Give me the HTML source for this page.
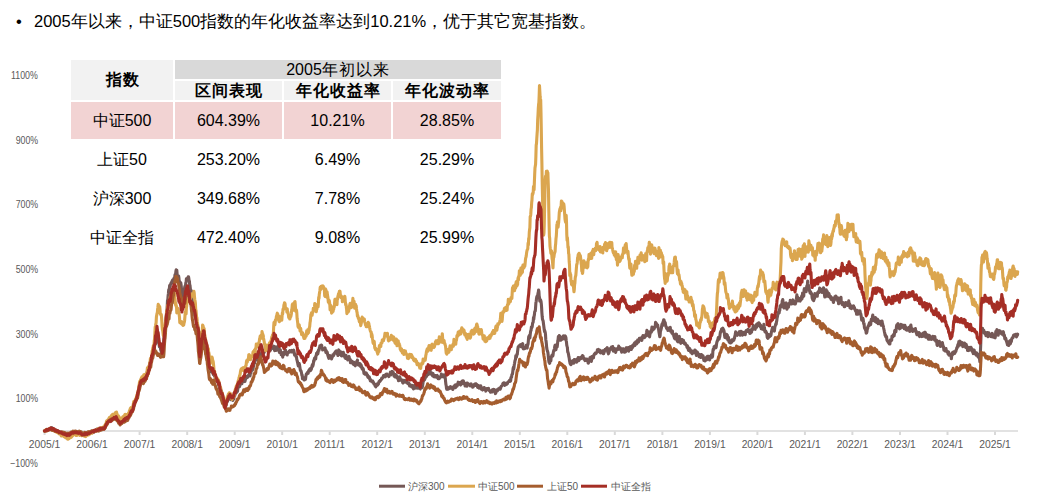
<!DOCTYPE html>
<html><head><meta charset="utf-8">
<style>
html,body{margin:0;padding:0;background:#fff;}
body{width:1053px;height:498px;position:relative;overflow:hidden;font-family:"Liberation Sans",sans-serif;color:#000;}
.abs{position:absolute;white-space:nowrap;}
#bullet{left:16px;top:11px;font-size:16.5px;line-height:20px;}
#bullet .dot{display:inline-block;width:18px;}
.yl{position:absolute;right:1015px;font-size:20px;color:#595959;line-height:20px;transform:scale(0.44,0.5);transform-origin:right top;}
.xl{position:absolute;font-size:10.3px;color:#595959;line-height:10px;transform:translateX(-50%);}
svg{position:absolute;left:0;top:0;}
#tbl{position:absolute;left:71px;top:60px;}
.c{position:absolute;text-align:center;font-size:16px;}
.cj{display:inline-block;width:1em;text-align:center;font-style:normal;}
#bullet .cj{width:17px;}
.h .cj{width:17px;}
.leg{position:absolute;top:482px;font-size:10px;line-height:10px;color:#595959;}
</style></head><body>
<div class="abs" id="bullet"><span class="dot">•</span>2005<i class="cj">年</i><i class="cj">以</i><i class="cj">来</i><i class="cj">，</i><i class="cj">中</i><i class="cj">证</i>500<i class="cj">指</i><i class="cj">数</i><i class="cj">的</i><i class="cj">年</i><i class="cj">化</i><i class="cj">收</i><i class="cj">益</i><i class="cj">率</i><i class="cj">达</i><i class="cj">到</i>10.21%<i class="cj">，</i><i class="cj">优</i><i class="cj">于</i><i class="cj">其</i><i class="cj">它</i><i class="cj">宽</i><i class="cj">基</i><i class="cj">指</i><i class="cj">数</i><i class="cj">。</i></div>

<div class="yl" style="top:70px">1100%</div>
<div class="yl" style="top:135px">900%</div>
<div class="yl" style="top:199px">700%</div>
<div class="yl" style="top:264px">500%</div>
<div class="yl" style="top:329px">300%</div>
<div class="yl" style="top:393px">100%</div>
<div class="yl" style="top:458px">&minus;100%</div>

<svg width="1053" height="498" viewBox="0 0 1053 498">
<line x1="44" y1="431" x2="1018" y2="431" stroke="#d9d9d9" stroke-width="1.6"/>
<g stroke="#d9d9d9" stroke-width="2">
<line x1="44.6" y1="431.5" x2="44.6" y2="435"/>
<line x1="92.1" y1="431.5" x2="92.1" y2="435"/>
<line x1="139.6" y1="431.5" x2="139.6" y2="435"/>
<line x1="187.2" y1="431.5" x2="187.2" y2="435"/>
<line x1="234.7" y1="431.5" x2="234.7" y2="435"/>
<line x1="282.2" y1="431.5" x2="282.2" y2="435"/>
<line x1="329.7" y1="431.5" x2="329.7" y2="435"/>
<line x1="377.2" y1="431.5" x2="377.2" y2="435"/>
<line x1="424.8" y1="431.5" x2="424.8" y2="435"/>
<line x1="472.3" y1="431.5" x2="472.3" y2="435"/>
<line x1="519.8" y1="431.5" x2="519.8" y2="435"/>
<line x1="567.3" y1="431.5" x2="567.3" y2="435"/>
<line x1="614.8" y1="431.5" x2="614.8" y2="435"/>
<line x1="662.4" y1="431.5" x2="662.4" y2="435"/>
<line x1="709.9" y1="431.5" x2="709.9" y2="435"/>
<line x1="757.4" y1="431.5" x2="757.4" y2="435"/>
<line x1="804.9" y1="431.5" x2="804.9" y2="435"/>
<line x1="852.4" y1="431.5" x2="852.4" y2="435"/>
<line x1="900.0" y1="431.5" x2="900.0" y2="435"/>
<line x1="947.5" y1="431.5" x2="947.5" y2="435"/>
<line x1="995.0" y1="431.5" x2="995.0" y2="435"/>
</g>
<g fill="none" stroke-width="3.1" stroke-linejoin="round" stroke-linecap="round">
<path d="M44.5 431.0l.3-.1l.3 .0l.3-.4l.3 .1l.3 .0l.3-.4l.3 .1l.3 .0l.3-.1l.3-.2l.3 .0l.3-.5l.3-.2l.3-.3l.3 .2l.3-.1l.3-.3l.3-.3l.3-.1l.3-.1l.3-.1l.3 .5l.3 .4l.3-1.0l.3-.4l.3 .5l.3 .2l.3 .5l.3 .3l.3 1.0l.3-.5l.3 .0l.3 .8l.3 .2l.3 .1l.3-.3l.3-.5l.3 .3l.3 .2l.3-.2l.3 .1l.3 .3l.3-.1l.3 .3l.3 .3l.3 .2l.3 .0l.3 .4l.3 .5l.3 .1l.3-.3l.3 .4l.3-.1l.3 .4l.3-.4l.3 .5l.3 .1l.3-.4l.3 .1l.3 .3l.3 .3l.3-.2l.3-.1l.3 .4l.3 .1l.3 .3l.3 .4l.3-.5l.3 .4l.3 .6l.3-.1l.3-.2l.3 .5l.3 .2l.3 .3l.3-.1l.3-.5l.3 .3l.3-.1l.3 .2l.3-.1l.3-.7l.3-.4l.3 .5l.3 .1l.3-.4l.3-.1l.3 .0l.3 .0l.3 .1l.3-.2l.3-.3l.3-.4l.3 .2l.3-1.0l.3 .0l.3 .0l.3-.5l.3 .2l.3-.2l.3 .3l.3-.1l.3 .3l.3 .4l.3 .0l.3-.4l.3-.4l.3 .8l.3-.1l.3-.2l.3 .2l.3 .0l.3 .3l.3 .0l.3 .1l.3-.2l.3 .2l.3-.3l.3 .4l.3 .6l.3-.7l.3-.7l.3 .6l.3 1.1l.3-.6l.3-.3l.3 .4l.3-.3l.3 .0l.3 .1l.3 .3l.3 .0l.3 .2l.3-.1l.3-.2l.3 .1l.3-.1l.3 .3l.3-.4l.3-.2l.3 .6l.3-.2l.3-.1l.3 .1l.3-.4l.3-.2l.3 .1l.3-.1l.3-.5l.3 .2l.3-.3l.3-.5l.3-.2l.3-.1l.3 .7l.3-.6l.3 .0l.3-.8l.3 .1l.3 .4l.3-.2l.3-.3l.3 .1l.3 .1l.3 .0l.3 .5l.3-.4l.3-.5l.3-.2l.3-.2l.3-.1l.3-.2l.3-.1l.3-.7l.3 .3l.3-.2l.3-.5l.3 .3l.3 .4l.3 .1l.3-.2l.3-.5l.3 1.0l.3 .0l.3-.8l.3-.5l.3 .1l.3-.6l.3 .3l.3-.2l.3 .5l.3 .3l.3-1.2l.3 .2l.3-.5l.3 .7l.3 .1l.3 .1l.3-.8l.3 .3l.3 .1l.3-1.3l.3-.5l.3-.8l.3-.5l.3-1.0l.3 .4l.3-1.0l.3-.5l.3-.2l.3-.8l.3-.5l.3-.7l.3-.4l.3-.9l.3 .0l.3-.1l.3-.1l.3 .1l.3-.1l.3 .3l.3-.3l.3-.2l.3-.4l.3-.3l.3-.5l.3 .4l.3-.5l.3-.2l.3 .3l.3 .2l.3-.3l.3-1.0l.3 .5l.3 .2l.3-.8l.3 .6l.3-.4l.3-.2l.3 .7l.3 .5l.3 .6l.3-.3l.3 1.5l.3 .0l.3-.2l.3 .9l.3 .3l.3 .6l.3 .2l.3 .4l.3 .4l.3-.6l.3 .3l.3-.5l.3-.5l.3 .0l.3 .1l.3-.3l.3-.5l.3 .2l.3-1.0l.3-.3l.3 .1l.3-.6l.3 .2l.3 .0l.3 .4l.3-.7l.3-.3l.3 .1l.3-1.3l.3 1.8l.3-.8l.3-.5l.3 .3l.3-.3l.3-1.0l.3 .1l.3 .0l.3-.9l.3-.7l.3-.3l.3-1.0l.3-.2l.3-.4l.3-1.0l.3-1.2l.3-.3l.3-.8l.3 .4l.3-.6l.3-.3l.3-.9l.3-.8l.3-1.3l.3-.3l.3 .2l.3-1.4l.3-1.4l.3-.8l.3-1.1l.3-1.2l.3-.4l.3-.9l.3 .3l.3-1.1l.3-.7l.3-.6l.3-1.7l.3-.3l.3-2.2l.3-1.9l.3-1.4l.3-1.1l.3-2.2l.3-.7l.3-2.2l.3 .6l.3-1.2l.3-1.8l.3-1.3l.3-.2l.3 .0l.3-.8l.3-.5l.3 .2l.3-.1l.3 1.1l.3 .8l.3-.5l.3 .1l.3-1.7l.3 .6l.3-.2l.3 .3l.3 1.1l.3-2.9l.3-.2l.3-2.0l.3 .0l.3-2.2l.3-1.0l.3-.4l.3-.2l.3-1.0l.3-1.9l.3-1.4l.3 .2l.3-1.1l.3-2.9l.3 .5l.3-.7l.3-.2l.3-1.9l.3-.3l.3-2.7l.3-.3l.3-1.8l.3-.3l.3-.1l.3-2.6l.3-1.2l.3-1.1l.3 .3l.3-1.4l.3-3.8l.3-1.0l.3-.8l.3 .6l.3-5.1l.3-2.5l.3 .3l.3-4.0l.3-3.1l.3 3.1l.3 3.1l.3 .5l.3 2.4l.3 1.5l.3 3.3l.3 .8l.3 2.4l.3-.9l.3 .6l.3 .7l.3 2.3l.3 1.1l.3-.5l.3 1.7l.3 1.5l.3 .2l.3 .3l.3-.8l.3-5.3l.3-2.2l.3-2.5l.3-4.2l.3-1.8l.3-5.1l.3-3.3l.3-3.3l.3 .4l.3-6.3l.3-1.8l.3-1.7l.3-2.7l.3-1.3l.3-5.2l.3-6.4l.3 .0l.3-4.3l.3-2.2l.3-3.8l.3 .6l.3-.7l.3-4.2l.3 1.2l.3-1.0l.3-1.3l.3-.6l.3-1.1l.3 .6l.3-.4l.3-1.7l.3 1.2l.3-2.5l.3-.1l.3-.1l.3 1.8l.3-3.0l.3 2.5l.3-1.8l.3-2.1l.3-2.4l.3 .5l.3-.8l.3-3.1l.3-1.6l.3 .2l.3 .1l.3 3.7l.3 3.0l.3 1.1l.3-.2l.3-1.6l.3-.1l.3 1.9l.3 3.7l.3 1.0l.3-.9l.3 .7l.3 .1l.3 .1l.3 1.7l.3 2.4l.3 5.2l.3 .6l.3 3.5l.3 3.5l.3-2.7l.3 .6l.3-1.6l.3-3.3l.3-1.3l.3-1.6l.3-1.7l.3-1.5l.3-.6l.3-.1l.3-2.9l.3-.5l.3-3.6l.3 .7l.3 .8l.3-.7l.3-.4l.3 .0l.3-2.3l.3 .0l.3 1.6l.3 2.3l.3 .3l.3 4.4l.3-.1l.3 2.8l.3 3.0l.3 .1l.3-.4l.3 .0l.3 3.1l.3 4.5l.3 2.3l.3 2.1l.3 1.3l.3 3.1l.3-1.7l.3 3.4l.3 2.0l.3-.5l.3 5.7l.3-1.4l.3 .2l.3 .3l.3 4.4l.3 .2l.3 2.9l.3 2.2l.3 1.4l.3-.8l.3 1.0l.3 4.4l.3-.9l.3 1.7l.3 4.9l.3 6.1l.3 4.8l.3 3.3l.3-3.2l.3-.1l.3-1.0l.3-3.8l.3 .9l.3 1.1l.3-3.7l.3-1.8l.3 .0l.3-4.3l.3-4.1l.3-1.3l.3 1.9l.3 1.8l.3 3.3l.3 2.2l.3-.2l.3 2.8l.3 3.9l.3 2.2l.3 1.6l.3 .4l.3 1.9l.3-.4l.3 3.0l.3 1.8l.3 3.2l.3 2.2l.3 .6l.3 2.5l.3 3.5l.3 .7l.3-.2l.3-.2l.3-.7l.3 2.1l.3 1.8l.3 .8l.3 .1l.3-.1l.3 .4l.3-.7l.3 1.3l.3 .9l.3 .7l.3-.8l.3 .1l.3 .1l.3 2.4l.3 .3l.3-1.3l.3 1.4l.3 2.5l.3 .9l.3 1.0l.3 .2l.3-1.4l.3-.4l.3 .4l.3 1.5l.3 1.7l.3 1.6l.3 .6l.3 1.7l.3 .5l.3 .4l.3 1.8l.3 .1l.3-.9l.3 1.0l.3 1.9l.3-.8l.3 1.9l.3 1.6l.3 .5l.3 .8l.3 1.5l.3 1.3l.3 2.5l.3 1.3l.3-.1l.3 .9l.3 1.8l.3 1.7l.3-.7l.3-.8l.3 .3l.3-1.3l.3-1.2l.3-1.8l.3-.8l.3 1.0l.3-1.9l.3-.6l.3-1.6l.3-.2l.3 .9l.3-.2l.3 .5l.3 .3l.3 .0l.3 .9l.3 .0l.3-.8l.3-.8l.3-.6l.3 .5l.3-.2l.3 2.0l.3 .6l.3-.9l.3-.7l.3 .4l.3-2.5l.3-.9l.3 .2l.3-1.4l.3-.8l.3-.7l.3 .2l.3-.5l.3-.3l.3-.3l.3-.8l.3 .1l.3-1.7l.3-1.7l.3-1.7l.3-1.0l.3 .1l.3 1.2l.3 .0l.3-.8l.3-1.0l.3-.3l.3-.3l.3-.4l.3-1.1l.3-.1l.3 1.1l.3-2.2l.3 .1l.3-1.6l.3 .8l.3-.4l.3-1.5l.3 .7l.3 1.9l.3-.5l.3 .5l.3-.9l.3-2.5l.3 .6l.3-.6l.3-1.5l.3 1.0l.3 .0l.3-.8l.3 .6l.3-1.3l.3 .4l.3-1.3l.3 .4l.3-1.4l.3 1.3l.3-.3l.3 .7l.3-2.0l.3-1.2l.3 .3l.3-3.5l.3-.9l.3 1.3l.3 .0l.3 .3l.3-1.2l.3-.2l.3-1.5l.3-1.9l.3-1.8l.3-.1l.3-.4l.3-.5l.3-3.6l.3-.9l.3 .8l.3 1.1l.3-.4l.3-.8l.3-2.3l.3 3.0l.3-1.7l.3 1.7l.3 .8l.3-1.2l.3-1.8l.3-.7l.3-2.1l.3 .0l.3-.4l.3 .1l.3 .4l.3 .9l.3-1.5l.3 .6l.3-1.8l.3-1.4l.3-.5l.3-.8l.3 1.6l.3 1.0l.3 1.0l.3-.8l.3-.3l.3-1.1l.3-1.5l.3 .8l.3 .2l.3-1.4l.3 1.0l.3-2.1l.3 .3l.3-.2l.3 .0l.3-.6l.3 1.9l.3 .8l.3 1.1l.3-.6l.3-2.0l.3-.3l.3-1.3l.3 1.1l.3 1.7l.3-.1l.3-1.1l.3-.6l.3 .3l.3-1.9l.3 .7l.3 .6l.3-.6l.3-.4l.3 .5l.3-1.0l.3-.7l.3 1.6l.3 .7l.3 2.2l.3-1.8l.3-1.9l.3 2.2l.3 1.4l.3-1.1l.3-1.5l.3 .7l.3-1.4l.3 .8l.3-1.5l.3 1.3l.3-1.3l.3 1.5l.3 3.1l.3 .0l.3 1.2l.3-.7l.3-.8l.3-1.1l.3 2.3l.3 .4l.3 2.3l.3-1.8l.3 .1l.3 .5l.3 1.9l.3 1.7l.3-1.6l.3-1.6l.3-1.6l.3 2.4l.3-.3l.3-.9l.3 .1l.3-2.9l.3-.9l.3 2.4l.3 .8l.3 .2l.3-1.2l.3 1.0l.3 2.0l.3-2.2l.3 .0l.3-.6l.3 .4l.3-.1l.3-.3l.3-1.1l.3 .3l.3-.7l.3 .1l.3 .1l.3 .9l.3-1.0l.3-.3l.3 1.4l.3-.8l.3-.5l.3 1.0l.3-.2l.3-.5l.3 .2l.3-.9l.3 1.7l.3 2.3l.3 1.0l.3-1.5l.3 1.5l.3-.2l.3 .9l.3 1.3l.3-.3l.3 2.8l.3 .5l.3 1.7l.3 1.1l.3 1.7l.3 1.3l.3-1.8l.3 .9l.3-1.5l.3 1.1l.3 2.1l.3 1.9l.3 1.8l.3-.2l.3 .9l.3 .7l.3 1.7l.3 1.8l.3-.4l.3 3.8l.3-.7l.3-.6l.3 .9l.3 .9l.3 .7l.3-.8l.3 .6l.3-1.0l.3 .6l.3 .0l.3-2.6l.3-1.7l.3-1.3l.3 .3l.3-.3l.3-.1l.3-1.3l.3 .1l.3 .8l.3-2.2l.3-.6l.3-.1l.3-.6l.3-.7l.3 1.4l.3 .2l.3-.4l.3-2.1l.3 1.5l.3-1.1l.3-1.7l.3-1.2l.3-1.1l.3 1.8l.3-1.1l.3-1.2l.3-3.3l.3 .7l.3-1.8l.3-1.4l.3 .7l.3-1.4l.3 .8l.3 .5l.3-3.1l.3-.4l.3-2.2l.3 .2l.3 1.0l.3-2.3l.3 1.9l.3-1.5l.3-2.1l.3-.5l.3 .5l.3-2.4l.3-.2l.3-2.1l.3 1.6l.3-.6l.3-1.3l.3 1.1l.3-1.5l.3 .3l.3 3.1l.3-.3l.3 1.8l.3-.2l.3-1.0l.3 .0l.3 .5l.3-.1l.3-.4l.3-.1l.3-.7l.3 1.5l.3 1.6l.3 1.5l.3-1.9l.3 2.0l.3 .4l.3-1.1l.3 1.2l.3 1.7l.3 .9l.3 1.0l.3 .9l.3 .8l.3-.4l.3-2.4l.3 .0l.3 1.3l.3-.5l.3 .8l.3 .6l.3-.5l.3 1.6l.3-2.2l.3 .7l.3-1.3l.3-1.2l.3 .7l.3-1.0l.3 1.0l.3-1.8l.3 .1l.3-1.0l.3 .0l.3-.2l.3-1.1l.3 1.3l.3-1.4l.3-.7l.3 1.6l.3 1.1l.3 .3l.3-.3l.3 2.0l.3-2.9l.3-1.3l.3-1.4l.3 1.5l.3 .6l.3 1.4l.3 .9l.3-.8l.3-1.0l.3-.7l.3 3.2l.3 .9l.3 .1l.3-.8l.3-.4l.3-.2l.3 .0l.3-2.3l.3 1.3l.3 .6l.3 1.2l.3 .8l.3 1.3l.3-.1l.3 1.0l.3-3.0l.3-.1l.3 3.1l.3-1.1l.3 .4l.3 1.4l.3-.7l.3 1.5l.3-1.4l.3-1.4l.3-.3l.3-.4l.3 1.6l.3 .6l.3 1.3l.3-.6l.3 3.5l.3-.5l.3-.3l.3 .5l.3-.4l.3-.8l.3 .5l.3 1.2l.3 .5l.3 .7l.3-1.1l.3-.8l.3 2.4l.3-.8l.3 .3l.3 .6l.3 1.0l.3-2.1l.3-.4l.3-.1l.3 .1l.3-2.1l.3 1.1l.3-2.2l.3 2.0l.3 1.5l.3 1.2l.3-1.1l.3 1.5l.3-.7l.3-.8l.3-.2l.3 .1l.3 1.4l.3 1.6l.3-1.7l.3 .6l.3 1.9l.3 .8l.3 .9l.3-1.3l.3 1.7l.3-1.1l.3 1.2l.3 1.9l.3 2.0l.3 .0l.3 .5l.3-.9l.3-.4l.3 1.4l.3 .0l.3 .0l.3-1.0l.3 1.0l.3 1.2l.3-.4l.3 .2l.3 2.1l.3 .3l.3-.2l.3-.7l.3 .1l.3 .6l.3 1.9l.3-.4l.3 2.1l.3-.9l.3 .0l.3 1.2l.3 .0l.3-.4l.3 .4l.3 .9l.3-1.1l.3 .7l.3 .7l.3 .3l.3 1.3l.3-.1l.3 .2l.3 .6l.3 1.1l.3 .1l.3 1.0l.3-1.5l.3 .6l.3-1.5l.3-.5l.3-.1l.3 1.3l.3-.3l.3-1.3l.3 .4l.3-1.2l.3-1.3l.3-.1l.3-.3l.3 .3l.3-1.2l.3 .0l.3 .1l.3-.4l.3-.7l.3-1.1l.3 .6l.3-.5l.3-.1l.3-.9l.3-.3l.3-1.4l.3 .0l.3 .6l.3-.5l.3 .5l.3-.1l.3 .9l.3-.8l.3-1.9l.3 .7l.3-.1l.3-.8l.3 .9l.3 .1l.3 .4l.3-.5l.3 .1l.3 .1l.3 1.5l.3-1.4l.3-.2l.3 .2l.3-1.9l.3-1.1l.3 2.8l.3-1.9l.3 1.0l.3-.8l.3-.4l.3-1.5l.3 .1l.3 1.7l.3-1.1l.3 1.2l.3 .6l.3 2.2l.3-.9l.3 1.2l.3 .5l.3-.7l.3-1.6l.3 1.9l.3-1.3l.3 .1l.3 1.4l.3 1.2l.3-1.0l.3 .3l.3 .0l.3 1.4l.3 2.2l.3-2.4l.3 1.0l.3-2.7l.3 1.0l.3-.3l.3 2.6l.3 .2l.3-.5l.3-.1l.3 .0l.3 .7l.3 .3l.3 .8l.3 1.3l.3 .3l.3-1.5l.3-1.2l.3 .0l.3 1.6l.3-.1l.3-.3l.3 .5l.3-1.0l.3-.3l.3 1.2l.3 .2l.3 .1l.3 .7l.3-.3l.3-.2l.3 .1l.3 1.1l.3 .3l.3-.9l.3 .2l.3 1.1l.3 1.7l.3-1.4l.3 .4l.3-.2l.3 .8l.3 .3l.3 1.0l.3 .0l.3-.9l.3-.5l.3 .5l.3 .3l.3 1.9l.3 .7l.3-1.7l.3 .1l.3-1.2l.3-1.0l.3 1.3l.3 .7l.3-.7l.3 1.7l.3-.9l.3-.7l.3 1.0l.3 .3l.3 .0l.3 .1l.3 .4l.3 .0l.3 .0l.3-1.3l.3-.4l.3 1.4l.3-.2l.3 .7l.3 .5l.3-1.3l.3-.5l.3 .9l.3-.7l.3 .2l.3-.3l.3-1.1l.3-1.7l.3-2.1l.3-1.7l.3 .1l.3-.3l.3-.9l.3 .0l.3-1.5l.3 .3l.3-1.0l.3-1.0l.3-.8l.3-.9l.3 1.6l.3-3.0l.3-.5l.3 .4l.3 .4l.3-.7l.3 1.6l.3-1.6l.3-1.3l.3 1.0l.3-1.2l.3-1.6l.3 2.1l.3 1.2l.3 .9l.3-.6l.3 .3l.3-.7l.3 2.1l.3 .4l.3 .3l.3-2.3l.3 1.1l.3 1.4l.3 .7l.3 .1l.3-.6l.3-.7l.3 .5l.3 .2l.3 .0l.3-.5l.3 1.5l.3-1.5l.3 .1l.3-.3l.3 1.2l.3 1.2l.3 .7l.3 .0l.3-1.9l.3 2.0l.3-.1l.3-.6l.3-.3l.3-.7l.3 .2l.3-.1l.3-.6l.3-2.5l.3 .7l.3 .7l.3 .6l.3-.3l.3 .4l.3 .7l.3-1.0l.3 1.0l.3-2.0l.3 .6l.3 1.2l.3-.1l.3 1.7l.3 3.4l.3 2.8l.3 1.2l.3 2.7l.3 1.0l.3 .1l.3-.1l.3-.4l.3 .3l.3-1.5l.3 1.0l.3-.6l.3 .6l.3-1.6l.3-.1l.3 .2l.3 .7l.3-1.2l.3 1.4l.3 .0l.3-.8l.3 .7l.3-.4l.3 .5l.3 1.3l.3-.5l.3-1.4l.3-.8l.3 .2l.3-.1l.3-1.0l.3-.6l.3 .6l.3 1.8l.3-2.9l.3 .7l.3-.3l.3 .6l.3 .5l.3-.5l.3-1.2l.3-1.1l.3-1.2l.3 1.9l.3-.2l.3-.4l.3 .0l.3-1.0l.3 .7l.3 1.3l.3 .5l.3-1.9l.3 1.2l.3-1.1l.3-1.7l.3-.5l.3 .0l.3 .7l.3-.2l.3-.6l.3 .6l.3 2.3l.3-.6l.3 .6l.3 .0l.3 2.2l.3-2.3l.3 1.0l.3-1.3l.3-.2l.3 .2l.3 2.9l.3-1.4l.3-1.8l.3 1.5l.3-.8l.3 .1l.3 .2l.3 .3l.3 .0l.3 .4l.3 .4l.3 .6l.3-.6l.3-.7l.3-.6l.3 .9l.3 .2l.3 .6l.3 .4l.3 1.2l.3-.3l.3 .1l.3-1.4l.3-.7l.3 .1l.3-.7l.3 1.2l.3-.8l.3 .6l.3-1.6l.3 .1l.3 .7l.3 .5l.3-.7l.3 1.0l.3 1.3l.3 .7l.3-.6l.3-.3l.3-.7l.3 1.1l.3 1.4l.3-.7l.3-1.3l.3 .7l.3 .9l.3-2.0l.3 .9l.3 2.2l.3 .5l.3 .1l.3 .0l.3 .5l.3-1.2l.3-.6l.3 .6l.3-.4l.3 .4l.3-1.3l.3 1.3l.3 .9l.3 .0l.3 .1l.3 1.3l.3-1.3l.3-.6l.3-.5l.3 .2l.3-.2l.3 .7l.3-.1l.3-.6l.3-.4l.3 1.9l.3 .2l.3 .1l.3 .3l.3 .2l.3 .8l.3 .4l.3-.5l.3-.6l.3-.5l.3-.4l.3 1.7l.3-.8l.3-1.5l.3-.1l.3-.1l.3 .7l.3-.6l.3 .7l.3 .3l.3 .8l.3 1.1l.3 1.2l.3-.4l.3-2.2l.3-1.0l.3-.2l.3 1.2l.3-.3l.3 .1l.3-1.1l.3-.1l.3-.1l.3-1.0l.3 .2l.3 .3l.3-.9l.3 .4l.3 .7l.3-.9l.3-.7l.3-.8l.3-.8l.3 .0l.3-.5l.3-.3l.3-.7l.3-1.0l.3-.3l.3 .7l.3-.8l.3-.2l.3 1.8l.3 .6l.3-1.2l.3 .3l.3-1.0l.3 1.3l.3-1.2l.3-.1l.3 .8l.3-1.4l.3 .9l.3-1.3l.3-.1l.3-.5l.3-.2l.3 .1l.3-.3l.3-1.0l.3 .9l.3 .1l.3-.3l.3-.5l.3-3.1l.3 .0l.3-.4l.3-2.4l.3-.4l.3-.3l.3-2.5l.3-2.9l.3-1.3l.3 2.0l.3-1.7l.3-3.0l.3-1.4l.3-2.0l.3-1.1l.3-.7l.3-3.6l.3 .5l.3 1.0l.3-1.6l.3-1.6l.3 .3l.3-3.0l.3-2.4l.3-2.1l.3-.3l.3 .0l.3-.9l.3-.2l.3 .2l.3 .4l.3-1.3l.3-.1l.3 1.9l.3-1.6l.3 .1l.3-.1l.3 .3l.3-.9l.3-.8l.3 4.3l.3 .9l.3-1.4l.3-.1l.3 1.0l.3-.5l.3 .8l.3-.8l.3-.2l.3 .4l.3-.2l.3-2.5l.3 1.4l.3 1.3l.3 .1l.3-2.7l.3-.5l.3-1.0l.3-3.6l.3-3.5l.3 .7l.3-2.0l.3 .9l.3 1.5l.3-3.1l.3-2.7l.3-1.4l.3-.3l.3-3.4l.3 .7l.3-.4l.3-1.1l.3-3.0l.3-.4l.3-.9l.3-4.3l.3 1.8l.3-3.1l.3-1.4l.3-3.0l.3-.9l.3 .1l.3-3.8l.3-4.4l.3-1.4l.3-2.9l.3-1.7l.3-.5l.3-.8l.3 1.4l.3-3.9l.3-.6l.3-2.5l.3 1.3l.3 5.1l.3 .9l.3 3.9l.3-.5l.3-1.0l.3 .7l.3 .8l.3 2.5l.3 3.6l.3 5.5l.3 3.7l.3 2.9l.3 .7l.3 .7l.3 2.2l.3 2.4l.3 2.4l.3 2.3l.3 1.6l.3-.7l.3 1.3l.3 2.1l.3 5.3l.3 1.4l.3 3.0l.3 3.7l.3 1.6l.3 .9l.3 1.4l.3 .7l.3 2.7l.3 3.5l.3 2.3l.3 1.5l.3-.3l.3 1.2l.3-2.2l.3-.7l.3-.1l.3 .4l.3-3.9l.3-.5l.3-.2l.3-1.1l.3 1.2l.3-.1l.3-.8l.3-2.5l.3-1.7l.3-1.0l.3 .7l.3-2.0l.3-2.5l.3-1.2l.3-.1l.3 2.3l.3 2.3l.3-2.6l.3-.1l.3 .2l.3-.4l.3-2.4l.3-3.4l.3-1.3l.3-3.1l.3 .4l.3 1.2l.3-2.6l.3 .7l.3 .9l.3 1.8l.3 1.4l.3-.1l.3-1.9l.3-.9l.3 1.5l.3-1.5l.3-.3l.3 2.0l.3-.6l.3-2.5l.3-.2l.3 1.1l.3-.5l.3 1.4l.3 1.1l.3-1.9l.3-1.1l.3 1.1l.3 .4l.3 3.0l.3 1.9l.3 3.1l.3 1.0l.3 .9l.3 4.5l.3 .4l.3 1.2l.3 1.3l.3 2.0l.3 1.3l.3 2.4l.3 1.6l.3 1.4l.3 .5l.3 .6l.3 .2l.3-1.3l.3 .2l.3-.5l.3-.4l.3-2.0l.3 1.1l.3-.2l.3 1.7l.3-.1l.3-2.0l.3-1.7l.3 1.5l.3-1.3l.3 .8l.3-.7l.3 2.1l.3-.9l.3 .9l.3 .2l.3-1.9l.3-1.1l.3 1.2l.3-1.0l.3-1.7l.3 1.0l.3 2.1l.3-1.6l.3 .5l.3-1.5l.3 .5l.3-1.0l.3 1.2l.3 .0l.3-.8l.3 .0l.3-.8l.3-1.1l.3-.4l.3 .8l.3-.6l.3 1.5l.3 1.0l.3 .7l.3-.6l.3 .3l.3 .2l.3 1.6l.3-1.2l.3-.2l.3 .1l.3 .2l.3-.5l.3 .0l.3 1.8l.3-.6l.3 1.0l.3 1.8l.3 .2l.3-3.3l.3 .6l.3-.1l.3 .0l.3-2.5l.3 .8l.3-1.5l.3 1.5l.3 .7l.3 2.0l.3-2.1l.3-2.7l.3 1.1l.3 .3l.3-1.2l.3 1.1l.3-.2l.3-2.4l.3-.6l.3-.6l.3-.2l.3 .2l.3-1.0l.3-.2l.3 .7l.3-.4l.3-.6l.3-.4l.3-.2l.3-2.3l.3 .9l.3-.8l.3 .9l.3-1.3l.3 1.9l.3 .4l.3-1.6l.3 .9l.3-.7l.3 2.6l.3 .0l.3-1.4l.3 .1l.3-.1l.3 1.2l.3-.1l.3 .0l.3-1.9l.3 .9l.3 2.2l.3-.2l.3-1.1l.3-.4l.3-1.7l.3 .3l.3-1.4l.3 .5l.3-.3l.3-.7l.3 1.2l.3-1.7l.3 .5l.3-1.1l.3 2.9l.3 2.0l.3 .0l.3 1.2l.3-.8l.3-.7l.3-1.5l.3-1.7l.3 .2l.3-.7l.3-.4l.3 1.1l.3-.3l.3-1.9l.3 .2l.3-.4l.3 .3l.3-.7l.3 2.3l.3 2.3l.3-2.1l.3 .7l.3 .5l.3-1.7l.3 .3l.3 1.9l.3 .5l.3 1.2l.3-2.5l.3-1.1l.3 .6l.3 .4l.3-.1l.3-.6l.3-.3l.3-.5l.3 1.0l.3-3.2l.3 3.2l.3-.5l.3-1.3l.3 1.5l.3-1.3l.3 1.3l.3-.1l.3 1.1l.3 1.0l.3 1.2l.3-1.2l.3-.5l.3-.1l.3-1.6l.3 1.3l.3 .3l.3-1.5l.3 1.9l.3 1.4l.3-2.4l.3 .7l.3 1.2l.3 .1l.3-2.0l.3-1.9l.3 .3l.3-.4l.3 .2l.3-.1l.3 .7l.3-1.0l.3-.1l.3 3.6l.3-1.5l.3 .0l.3-.6l.3-.5l.3-1.8l.3 .5l.3-.3l.3 .7l.3 1.9l.3-1.1l.3-.1l.3-2.5l.3-.1l.3 1.6l.3-1.1l.3-1.5l.3 .0l.3-.6l.3-.6l.3-.5l.3 2.5l.3-2.1l.3-.8l.3-.8l.3 1.7l.3-1.0l.3 1.4l.3-.7l.3-.7l.3-2.4l.3 1.8l.3 .3l.3-.2l.3-.9l.3-1.0l.3-1.9l.3 1.6l.3 .1l.3-.9l.3-1.0l.3 .2l.3 .0l.3 2.0l.3 .2l.3-1.7l.3-1.9l.3 .0l.3-1.2l.3 .5l.3 .7l.3 .8l.3 .0l.3-.8l.3 .5l.3-1.7l.3-.2l.3 .8l.3-.1l.3-2.4l.3-1.5l.3-1.8l.3 3.5l.3-2.5l.3 .2l.3 2.9l.3 .7l.3 .6l.3-2.3l.3 .1l.3 3.3l.3-2.3l.3-1.0l.3-1.7l.3-.9l.3-.3l.3 1.4l.3-2.6l.3-2.5l.3 .4l.3 .3l.3 1.9l.3 .2l.3-2.1l.3 .4l.3 .8l.3-.7l.3-1.5l.3 .3l.3-1.4l.3-3.2l.3 2.5l.3-1.7l.3 .7l.3 .7l.3 .7l.3 .7l.3-1.1l.3 2.5l.3 1.0l.3 .9l.3 2.3l.3 1.6l.3 1.7l.3 1.9l.3-1.0l.3-4.5l.3-.7l.3-1.1l.3-1.0l.3-2.0l.3-2.1l.3 .7l.3 .5l.3-3.1l.3 .0l.3-1.4l.3-1.4l.3 .2l.3 1.3l.3 .7l.3 1.9l.3-1.2l.3 2.0l.3 1.9l.3 .0l.3 1.2l.3 .9l.3-.7l.3 .1l.3 1.2l.3 1.2l.3-1.8l.3 .3l.3 1.1l.3-.6l.3-1.1l.3-.7l.3 .4l.3-.6l.3 3.9l.3-.8l.3 .9l.3 .4l.3 1.1l.3-.6l.3-1.4l.3 3.1l.3-.1l.3 .3l.3 .5l.3 1.8l.3 .7l.3 1.1l.3 .5l.3-.7l.3-.2l.3-1.4l.3-2.5l.3 .8l.3-.5l.3 4.6l.3 1.7l.3 .7l.3-1.8l.3 2.4l.3-3.4l.3-1.5l.3-.3l.3-.3l.3 1.3l.3 1.0l.3 3.0l.3 .7l.3 .9l.3-.4l.3-.7l.3-1.0l.3-1.6l.3 .0l.3 .8l.3 2.1l.3-1.6l.3-.5l.3 1.8l.3-.2l.3 1.7l.3 .2l.3 .0l.3-.7l.3 1.2l.3 .2l.3 .3l.3 .3l.3 1.3l.3 .9l.3-1.6l.3 .8l.3 1.3l.3 1.8l.3 .8l.3-.1l.3-1.6l.3-.5l.3 1.7l.3-.8l.3 1.6l.3 1.4l.3-1.7l.3 .6l.3-.2l.3 2.5l.3 .3l.3-1.4l.3 .2l.3-1.2l.3 .1l.3 .5l.3 .4l.3 .4l.3-1.0l.3-1.7l.3 .7l.3-.1l.3 .2l.3 3.4l.3 1.2l.3-.7l.3-1.9l.3-.9l.3 1.3l.3 1.8l.3-.4l.3 .3l.3 .4l.3 1.4l.3-2.5l.3 .7l.3 .9l.3 1.3l.3 .3l.3-1.5l.3-.3l.3-1.1l.3 1.2l.3 .9l.3 .9l.3-.9l.3-.8l.3 2.6l.3 .2l.3 1.9l.3-.1l.3-2.1l.3 1.2l.3 1.4l.3-1.0l.3-2.2l.3 1.4l.3 .2l.3 .6l.3-2.9l.3 1.6l.3-2.3l.3 .6l.3 2.3l.3-1.4l.3-1.6l.3 .3l.3 2.3l.3 1.1l.3-1.8l.3 .3l.3-.4l.3-.8l.3-.7l.3-1.8l.3 .3l.3 .3l.3 1.9l.3-1.1l.3-4.8l.3-2.0l.3 .4l.3-.3l.3-2.7l.3 .0l.3-.4l.3-.1l.3-.3l.3 .8l.3 1.0l.3-.5l.3-2.7l.3-1.9l.3-1.3l.3-.3l.3-1.0l.3-.9l.3-1.6l.3 1.2l.3 .3l.3 .1l.3-1.7l.3-.6l.3-2.4l.3-2.1l.3-.9l.3 .6l.3-.9l.3-2.2l.3-.1l.3 .2l.3-.5l.3-.3l.3 1.0l.3 .2l.3 .5l.3 .9l.3 1.9l.3 2.9l.3 1.8l.3 .0l.3-1.1l.3-.4l.3 .0l.3 2.2l.3-3.7l.3 2.0l.3-1.5l.3 1.9l.3 3.2l.3-.8l.3-1.9l.3 2.7l.3 1.9l.3 .0l.3 .8l.3-2.1l.3 1.1l.3 1.3l.3-.6l.3-1.0l.3 .6l.3 .2l.3-2.5l.3 1.2l.3-.2l.3-1.1l.3 .9l.3-.1l.3-.3l.3-1.9l.3 .3l.3-2.3l.3-.3l.3-2.4l.3-1.7l.3 1.7l.3 .3l.3 .5l.3 .8l.3 .2l.3-1.6l.3 .2l.3-.1l.3-.8l.3-.1l.3-.4l.3-.8l.3-.1l.3 .7l.3 3.0l.3-2.2l.3 .5l.3-2.4l.3 2.7l.3-1.1l.3 .2l.3 1.5l.3 .7l.3-2.9l.3 .8l.3-.5l.3 .7l.3 .0l.3 .8l.3-.1l.3-.7l.3 1.4l.3-2.9l.3-.4l.3-.9l.3 .6l.3-.1l.3 .3l.3-.3l.3-.1l.3-1.7l.3 1.1l.3 1.1l.3-.4l.3-.4l.3-.2l.3 3.0l.3-.2l.3 .0l.3-1.0l.3-1.1l.3-1.3l.3 2.4l.3-3.1l.3 .7l.3-.1l.3-.5l.3-2.4l.3-1.2l.3 2.3l.3-1.0l.3 1.5l.3 .5l.3 .2l.3 .2l.3-2.8l.3-.7l.3 1.0l.3-2.2l.3 2.7l.3-1.6l.3-.4l.3-1.7l.3 .7l.3-.9l.3 .4l.3-1.0l.3 2.8l.3-2.3l.3 1.7l.3 .8l.3 .8l.3-1.5l.3 2.2l.3 1.4l.3-.1l.3 .2l.3-.5l.3 .9l.3-1.5l.3 1.1l.3 .6l.3-2.1l.3-3.1l.3 2.1l.3 1.6l.3 3.2l.3 .8l.3-.1l.3-.9l.3 1.4l.3 .5l.3-.1l.3 1.6l.3 2.8l.3 .7l.3-.7l.3 1.2l.3-1.8l.3-2.0l.3 1.3l.3-.7l.3 1.6l.3-.3l.3-1.9l.3 .0l.3 1.3l.3-1.4l.3-2.3l.3-1.1l.3-1.0l.3-1.4l.3-1.2l.3 1.4l.3 1.6l.3-1.0l.3 .6l.3 .3l.3 .8l.3-2.5l.3-2.2l.3-.6l.3-1.2l.3-.9l.3 .7l.3-2.6l.3-1.0l.3-2.8l.3-1.1l.3-1.7l.3-1.6l.3-.5l.3-1.2l.3 .5l.3 .5l.3-3.6l.3 1.2l.3-4.7l.3 .6l.3 .9l.3-2.1l.3-.1l.3-.9l.3 2.1l.3-5.3l.3 .1l.3-1.5l.3 2.5l.3 3.4l.3 2.0l.3 .5l.3-.5l.3-2.0l.3 2.0l.3 .2l.3-2.4l.3-2.2l.3-.3l.3 2.7l.3 1.9l.3 1.8l.3-2.9l.3-1.1l.3 2.1l.3-.6l.3 .5l.3-3.3l.3-.5l.3 .3l.3-.4l.3-.5l.3-2.6l.3 3.8l.3-.3l.3-2.8l.3 2.4l.3-.2l.3 .8l.3-1.0l.3-1.9l.3-1.1l.3 1.0l.3 1.2l.3 .2l.3 .4l.3 1.3l.3-1.0l.3 .5l.3 .4l.3-1.1l.3-1.4l.3-1.6l.3-2.5l.3-2.4l.3 3.4l.3-.1l.3-1.0l.3 2.9l.3 .8l.3-1.2l.3 .9l.3-1.7l.3-.3l.3 2.4l.3 .1l.3-2.3l.3 .0l.3 .9l.3-1.8l.3-1.8l.3 2.8l.3-2.4l.3-3.5l.3 .1l.3 3.6l.3-.8l.3-.1l.3-5.9l.3-1.2l.3 2.3l.3-1.8l.3 1.8l.3-.5l.3-.6l.3 1.7l.3-3.3l.3-2.2l.3-.6l.3-.5l.3-4.0l.3 2.7l.3 1.4l.3 .4l.3 2.3l.3-.2l.3 3.2l.3 .4l.3 1.7l.3-1.4l.3 .5l.3 1.8l.3-.6l.3 .3l.3 1.8l.3 2.7l.3 .8l.3 .8l.3-.8l.3 .5l.3 1.5l.3-1.5l.3-.6l.3-.3l.3-4.9l.3 .2l.3 1.0l.3 1.2l.3-1.3l.3 1.6l.3-2.1l.3-.6l.3 2.8l.3-3.7l.3 .0l.3-.4l.3-.2l.3-.9l.3 1.4l.3-2.4l.3-2.1l.3 2.0l.3-1.6l.3 2.0l.3 .7l.3-.9l.3 .2l.3 .6l.3 1.4l.3-1.0l.3 .1l.3-2.1l.3 .8l.3-2.4l.3 1.8l.3 .5l.3 5.0l.3 1.8l.3-1.2l.3 1.1l.3-.3l.3-2.7l.3-4.0l.3 3.8l.3 1.0l.3-3.3l.3 2.6l.3 2.1l.3-1.3l.3 1.7l.3-3.1l.3 .5l.3 .9l.3 2.0l.3 .7l.3 .1l.3 .7l.3-1.6l.3 2.8l.3-1.4l.3 1.3l.3-.6l.3-.7l.3 1.2l.3 .5l.3 1.9l.3 .9l.3-2.3l.3 .3l.3-.4l.3-1.8l.3-1.7l.3 1.4l.3-.4l.3-1.6l.3 1.2l.3 1.2l.3 .8l.3-1.7l.3 .0l.3 3.4l.3-1.4l.3 .0l.3 4.3l.3-.4l.3-1.6l.3-3.4l.3 1.6l.3-1.8l.3 1.2l.3-.5l.3-1.7l.3 4.6l.3 .1l.3 1.8l.3 .9l.3-1.7l.3 .3l.3-.5l.3 1.8l.3 .5l.3-1.0l.3 2.8l.3 .0l.3-.2l.3-2.1l.3 .7l.3-2.7l.3 1.5l.3-1.2l.3 1.1l.3-.1l.3 .9l.3 .8l.3-.1l.3 .0l.3-2.4l.3-2.1l.3 3.9l.3 1.5l.3-2.5l.3 4.1l.3-1.7l.3 1.1l.3 .6l.3-.1l.3 .8l.3-2.6l.3 .5l.3 .1l.3 .6l.3-.1l.3-.6l.3-.6l.3 2.4l.3-1.3l.3 1.3l.3 1.0l.3 .1l.3 .9l.3 1.0l.3-1.0l.3 .8l.3 3.2l.3-2.6l.3-.3l.3-1.0l.3 3.9l.3-2.8l.3 .5l.3 2.0l.3-1.6l.3 .4l.3-.7l.3-1.4l.3 1.2l.3 1.8l.3 .2l.3 1.5l.3 2.1l.3 2.6l.3-1.8l.3 2.1l.3-.2l.3-1.8l.3 .8l.3 3.0l.3 1.7l.3-.6l.3 3.9l.3 1.1l.3 .4l.3-.1l.3 1.7l.3 .2l.3 2.6l.3-.1l.3-.4l.3-1.7l.3-3.0l.3 .6l.3-2.0l.3-.4l.3-.3l.3-1.4l.3 1.2l.3-2.9l.3 2.2l.3-1.9l.3 .8l.3 .7l.3-3.0l.3-2.1l.3 .9l.3-.6l.3-.4l.3-2.8l.3-1.5l.3 2.5l.3 3.0l.3-1.2l.3-1.1l.3 1.1l.3 1.1l.3 .9l.3-1.0l.3-2.7l.3 3.4l.3-.8l.3 2.2l.3-3.3l.3 1.4l.3-.2l.3-1.1l.3 2.4l.3 2.1l.3-1.3l.3 1.0l.3-1.9l.3-.4l.3 .4l.3 .1l.3 1.6l.3-1.6l.3 2.2l.3 1.5l.3-.6l.3-1.4l.3-2.2l.3 2.2l.3 .8l.3 2.0l.3 .0l.3 1.7l.3 1.4l.3 1.3l.3 1.6l.3 1.2l.3 2.1l.3-.7l.3 1.8l.3 .6l.3 .1l.3-.5l.3 3.2l.3 .7l.3-.1l.3 .9l.3 .8l.3 .2l.3-.8l.3 1.7l.3 .6l.3-.8l.3 .9l.3-2.7l.3-1.6l.3 .1l.3 .8l.3-.1l.3-.1l.3-4.2l.3 .6l.3-.1l.3 .1l.3-2.1l.3 .0l.3 .4l.3 .8l.3-1.6l.3-3.4l.3-.6l.3 .2l.3-.3l.3 1.5l.3-2.2l.3-2.9l.3-1.6l.3 1.1l.3-1.1l.3-1.0l.3-.3l.3 2.8l.3 .4l.3-.5l.3 1.6l.3 .8l.3-1.8l.3 1.4l.3 .0l.3-3.2l.3-.8l.3 1.5l.3 1.4l.3-.2l.3-1.1l.3 1.1l.3-2.1l.3 2.0l.3 .3l.3 .4l.3-.7l.3 1.7l.3-3.3l.3-.1l.3 1.9l.3-.6l.3 2.8l.3 .3l.3-1.4l.3 1.8l.3-.6l.3 .6l.3-1.2l.3-.8l.3 1.4l.3-.1l.3-1.1l.3-1.0l.3 1.6l.3 2.5l.3-1.9l.3 .8l.3-4.5l.3-.8l.3 2.4l.3 2.7l.3-.2l.3 .5l.3 .1l.3 1.0l.3-2.1l.3 1.1l.3-.8l.3-.3l.3 .3l.3 .0l.3-.7l.3 .2l.3-.7l.3 2.9l.3 .9l.3-1.0l.3 2.3l.3 1.1l.3-.5l.3-1.5l.3 .0l.3 .6l.3 1.6l.3-1.2l.3-1.2l.3 3.2l.3 .9l.3-.8l.3-2.2l.3 .6l.3 1.2l.3 .4l.3 .5l.3-.7l.3 1.0l.3-1.6l.3-.8l.3-.6l.3-.5l.3 3.2l.3-2.7l.3 .9l.3-1.0l.3-1.1l.3 1.3l.3-1.4l.3 1.1l.3 3.9l.3-.5l.3 .4l.3-1.4l.3 .9l.3-2.0l.3 1.0l.3 .3l.3 3.2l.3-.9l.3-.8l.3-.9l.3-1.2l.3 1.8l.3 2.1l.3-1.0l.3 .8l.3-.8l.3 .5l.3 .5l.3-2.0l.3-.5l.3 2.0l.3-2.4l.3 1.1l.3 .1l.3-.6l.3 .9l.3 1.1l.3 1.0l.3-3.4l.3 3.3l.3-.4l.3 1.7l.3-.4l.3-.7l.3 .2l.3 4.4l.3 .8l.3-1.8l.3-.5l.3 1.0l.3 .0l.3-.6l.3-.7l.3-1.6l.3 1.4l.3 1.4l.3 2.3l.3-2.0l.3 .2l.3-.4l.3 1.5l.3-.5l.3-.9l.3-1.7l.3 2.0l.3 .8l.3 1.9l.3-.7l.3 3.5l.3-1.5l.3 .6l.3 .4l.3 1.2l.3-.5l.3-1.2l.3-.6l.3 1.9l.3 .5l.3 .9l.3-.7l.3 .8l.3 .7l.3 1.2l.3-1.5l.3-.1l.3 3.0l.3-.3l.3 .3l.3 .1l.3-1.1l.3 .0l.3 1.7l.3 .2l.3 2.6l.3-2.5l.3-2.5l.3 .0l.3-1.2l.3 2.0l.3-.8l.3 .2l.3-2.2l.3 .8l.3 .2l.3 .8l.3-.9l.3-.4l.3-1.0l.3 .2l.3-1.7l.3-.2l.3-1.6l.3 .3l.3-1.1l.3-1.4l.3-1.2l.3 1.8l.3-2.9l.3-1.9l.3 1.3l.3-1.5l.3-.2l.3 .1l.3 3.7l.3-1.3l.3-.8l.3-.1l.3 .9l.3 .9l.3-1.9l.3 1.3l.3 2.8l.3-2.8l.3 1.2l.3 1.1l.3 .1l.3-.4l.3-2.8l.3 2.5l.3-.2l.3 .1l.3 1.9l.3-3.2l.3 .9l.3 1.3l.3 1.2l.3 .7l.3 2.2l.3-.6l.3 .4l.3 .2l.3-2.5l.3-.7l.3 3.0l.3-.7l.3-.2l.3-1.6l.3 .3l.3-.8l.3 .3l.3 1.7l.3-.4l.3 .1l.3 2.4l.3 .6l.3 .5l.3 1.1l.3-1.1l.3-.4l.3-2.1l.3 2.0l.3 .3l.3 .6l.3-.8l.3 1.5l.3 1.2l.3 .3l.3-1.8l.3-.1l.3 .9l.3-.2l.3 1.3l.3 1.7l.3-.8l.3 .2l.3-.3l.3 1.9l.3 1.1l.3 2.8l.3-1.1l.3-9.8l.3-7.6l.3-8.6l.3-4.9l.3 1.8l.3-1.0l.3 1.0l.3-3.4l.3 2.4l.3 .3l.3-.3l.3-.4l.3 2.6l.3-1.1l.3 1.9l.3-1.2l.3 .0l.3 .5l.3 2.7l.3-.6l.3-.5l.3-.5l.3-.7l.3-.8l.3 2.9l.3 1.4l.3-2.0l.3-.1l.3-1.8l.3 1.8l.3 .9l.3-.1l.3-1.2l.3 1.3l.3 .7l.3-.5l.3 .9l.3-2.1l.3-.4l.3-.8l.3 .8l.3 2.6l.3-.7l.3 1.1l.3-.9l.3-1.2l.3 1.2l.3 .1l.3 1.3l.3 .1l.3-2.3l.3-3.9l.3 1.0l.3-1.1l.3-1.0l.3-.9l.3 .6l.3 1.0l.3 .8l.3 3.3l.3-2.3l.3 .1l.3-1.7l.3-.8l.3 .9l.3 1.1l.3-1.6l.3 2.1l.3-1.4l.3 1.5l.3-.4l.3 1.2l.3 .2l.3-1.1l.3 1.0l.3-1.6l.3-.8l.3 1.1l.3 3.1l.3-.5l.3 .0l.3 3.3l.3 .2l.3 .3l.3-1.1l.3 1.1l.3 1.6l.3 .3l.3 1.6l.3 .7l.3 1.5l.3 .1l.3-1.3l.3 .4l.3 1.4l.3-1.2l.3-2.8l.3 .0l.3-.7l.3 3.2l.3-.5l.3-2.8l.3-.7l.3 1.6l.3-2.5l.3-.8l.3 .0l.3-.4l.3-.9l.3 .3l.3-1.9l.3-.3l.3-.3l.3 .1l.3 .0l.3 .3l.3-.3l.3-.5l.3 .7l.3 1.1l.3 .6l.3-2.5l.3 .2l.3 .8l.3-1.1" stroke="#755856"/>
<path d="M44.5 431.0l.3-.2l.3-.1l.3-.7l.3 .5l.3 .4l.3-.4l.3 .1l.3-.1l.3-.5l.3 .3l.3-.4l.3-.3l.3-.4l.3 .2l.3-.1l.3 .1l.3-.4l.3-.1l.3-.4l.3 .4l.3-.1l.3 .0l.3 .3l.3-.4l.3 .6l.3 1.0l.3-.9l.3-.5l.3-.2l.3 .9l.3 .3l.3 .7l.3 .3l.3 .1l.3 .2l.3-.1l.3 .5l.3-.5l.3 .1l.3 .4l.3 .9l.3-.4l.3-.3l.3 .0l.3 .7l.3 .1l.3 .8l.3-.8l.3 .8l.3 .6l.3-.6l.3 .4l.3 .7l.3 .0l.3 .5l.3 1.0l.3-.2l.3-.2l.3-.3l.3 .4l.3 .0l.3 .1l.3 .2l.3 .5l.3-.3l.3-.4l.3-.5l.3 1.2l.3 .4l.3 .9l.3 .1l.3-.2l.3 .4l.3 .1l.3-.3l.3 .0l.3 1.2l.3 .2l.3 .0l.3-.5l.3-.5l.3 .2l.3-.4l.3-.5l.3-.2l.3-.5l.3 .1l.3 .3l.3-.7l.3 .4l.3-.6l.3-.2l.3-.6l.3-.2l.3-.1l.3-.3l.3-.4l.3-.3l.3-.4l.3-.6l.3 .1l.3 .3l.3 .5l.3 .3l.3 .9l.3-.2l.3-.4l.3 .6l.3-.7l.3 .3l.3-.5l.3 .2l.3-.8l.3 .7l.3 .0l.3-.3l.3 .9l.3 .2l.3-.1l.3-.3l.3 .0l.3 .0l.3 .3l.3 .3l.3-.4l.3-.2l.3-.1l.3-.3l.3 .1l.3 .3l.3 .4l.3 .6l.3-.4l.3 .3l.3-.2l.3 .9l.3-.3l.3 .1l.3-.6l.3-.5l.3 .1l.3-.3l.3 .1l.3-.8l.3 .3l.3-.5l.3 .7l.3-.4l.3 .2l.3-.9l.3 .1l.3-.5l.3-.2l.3 .0l.3-.2l.3 .1l.3 .2l.3 .0l.3-.4l.3-.8l.3-.3l.3-.1l.3-.8l.3 .5l.3-.1l.3-.2l.3 .4l.3 .0l.3-.2l.3-.7l.3 .1l.3 .0l.3-.6l.3 .4l.3-.1l.3-1.1l.3 .1l.3-.6l.3 .6l.3 .2l.3-.7l.3-.4l.3 .1l.3-.1l.3 .6l.3 .0l.3-.4l.3 .0l.3-1.1l.3 .2l.3 .4l.3-.3l.3-.5l.3 .3l.3 .7l.3-.3l.3-.9l.3 .5l.3-1.4l.3-.2l.3-.8l.3 .0l.3-1.0l.3 .2l.3-.6l.3-1.6l.3-1.3l.3-.3l.3 .6l.3-.5l.3-.5l.3-.8l.3 .0l.3-.5l.3-.5l.3-1.0l.3 .6l.3 .4l.3-1.4l.3 1.1l.3-.2l.3-1.0l.3-1.5l.3 .5l.3 .1l.3-.6l.3-1.2l.3 .9l.3-.6l.3-.3l.3 1.6l.3 .6l.3-.4l.3-1.2l.3-.1l.3-2.0l.3 .1l.3-.5l.3-.3l.3 .0l.3 1.5l.3 .9l.3 .8l.3 1.1l.3-.1l.3-.1l.3-.2l.3 .9l.3 1.4l.3 .6l.3 1.0l.3-.4l.3-.3l.3-.4l.3-.7l.3 1.2l.3 .2l.3-.9l.3-.6l.3-.1l.3-1.0l.3 .4l.3-.8l.3-.1l.3-.5l.3-.1l.3-.6l.3-.6l.3-.2l.3 .0l.3 .1l.3 .2l.3 1.0l.3 .1l.3-.7l.3 .1l.3-.8l.3 .6l.3-.3l.3-1.7l.3 .1l.3 .0l.3-2.4l.3-.5l.3-.3l.3-1.4l.3-.4l.3-.4l.3 .5l.3 .1l.3 1.5l.3-1.4l.3-.2l.3-1.2l.3-.9l.3-1.9l.3-2.1l.3-.8l.3 .4l.3 .6l.3-.6l.3-.8l.3-1.8l.3 .5l.3-.1l.3-1.9l.3-1.1l.3-1.8l.3 .4l.3-1.2l.3-1.6l.3-1.1l.3-1.0l.3-1.9l.3-2.5l.3-2.0l.3-2.2l.3 .3l.3 1.6l.3-3.4l.3-.7l.3-.3l.3-1.3l.3 .3l.3-1.3l.3 1.5l.3-1.0l.3 .0l.3 .6l.3-.9l.3-2.2l.3-.1l.3 1.3l.3-.2l.3 .1l.3-1.5l.3 .4l.3 .7l.3-.9l.3 .9l.3-2.1l.3-2.8l.3-2.8l.3 .9l.3-1.2l.3 .2l.3-.9l.3 .4l.3-.6l.3-2.8l.3-1.4l.3-.2l.3-3.7l.3 .7l.3-.2l.3-.7l.3-2.7l.3-1.4l.3-3.3l.3-.9l.3-2.0l.3-.8l.3-1.7l.3-.4l.3 .6l.3-5.4l.3-1.2l.3-6.3l.3-5.6l.3-1.4l.3-1.7l.3-1.3l.3-5.7l.3-1.8l.3-1.9l.3-.2l.3-3.8l.3-2.2l.3-2.9l.3 .8l.3 .2l.3 2.7l.3-1.2l.3-.1l.3 2.8l.3 4.4l.3 .5l.3 .5l.3-.6l.3 2.5l.3 4.0l.3 5.9l.3 2.8l.3 1.0l.3 2.6l.3 2.4l.3 .5l.3 .3l.3-1.4l.3-5.1l.3 .8l.3-3.0l.3-4.9l.3-1.8l.3-2.9l.3-2.8l.3-4.4l.3 .2l.3 .3l.3-5.8l.3 1.7l.3 .8l.3-2.0l.3-.8l.3-1.7l.3-2.7l.3-1.2l.3 2.1l.3-4.8l.3 .2l.3 .2l.3-1.9l.3-.9l.3-2.7l.3-.7l.3 1.1l.3 1.2l.3-2.0l.3 6.9l.3-3.3l.3-1.0l.3-.8l.3 .6l.3 4.5l.3-.2l.3 4.3l.3 2.8l.3-1.9l.3 3.3l.3-.5l.3 6.8l.3-1.1l.3-1.2l.3-2.2l.3 .2l.3 2.1l.3 1.1l.3 .9l.3 2.1l.3 2.6l.3 5.2l.3-1.5l.3 1.4l.3 .8l.3-.6l.3-.9l.3-.1l.3 2.6l.3 .1l.3-.7l.3 1.5l.3 .2l.3-.7l.3 .4l.3-1.9l.3-.9l.3-1.8l.3-3.5l.3-4.6l.3 1.1l.3-2.7l.3 3.1l.3-6.2l.3-1.7l.3-4.5l.3-.2l.3 .9l.3-2.8l.3-.4l.3 .2l.3-.1l.3 .8l.3 1.5l.3 .4l.3-.8l.3-1.8l.3-2.9l.3-1.1l.3-.2l.3 2.0l.3-.8l.3-2.4l.3 2.2l.3-1.5l.3-1.0l.3 .3l.3 1.7l.3-4.3l.3 1.7l.3 4.4l.3 2.5l.3 1.3l.3 2.4l.3 5.9l.3 1.1l.3 3.5l.3 3.2l.3 .6l.3 3.4l.3 2.0l.3 2.2l.3 1.7l.3 5.5l.3 2.7l.3 2.6l.3 2.0l.3 6.8l.3 3.8l.3-1.6l.3-4.0l.3-5.0l.3-1.4l.3-2.0l.3-4.8l.3-.1l.3-1.5l.3-5.0l.3 .5l.3 .8l.3 2.0l.3 1.2l.3-1.2l.3 4.6l.3 1.5l.3 2.8l.3 2.7l.3-.1l.3 1.4l.3 2.0l.3 1.9l.3 .3l.3 .1l.3 1.7l.3 .6l.3 1.4l.3-.6l.3 3.1l.3 1.1l.3 2.0l.3 2.5l.3 2.8l.3 3.5l.3-1.0l.3-2.9l.3-.2l.3-1.3l.3 .3l.3-1.5l.3 .5l.3 1.7l.3 1.6l.3 .2l.3 2.2l.3 2.9l.3 3.9l.3 .6l.3 .5l.3 1.8l.3 1.4l.3 2.4l.3 .7l.3 .1l.3 1.7l.3 1.5l.3-.9l.3 .3l.3-1.4l.3 .7l.3 .2l.3 1.0l.3 .7l.3 1.1l.3 1.3l.3 1.8l.3 1.3l.3 .5l.3 .0l.3 2.7l.3 2.2l.3 .1l.3 1.4l.3-.5l.3 .0l.3 1.4l.3 2.7l.3 .1l.3 .6l.3 2.6l.3-.6l.3 1.9l.3 1.5l.3 .3l.3-.7l.3 1.2l.3-2.3l.3-1.2l.3-.9l.3-1.3l.3-1.7l.3 1.1l.3-.7l.3-2.4l.3-.9l.3 .1l.3-.3l.3-1.0l.3 .5l.3 .8l.3 .6l.3 .5l.3-1.4l.3 2.1l.3 .2l.3 1.5l.3 1.9l.3-1.3l.3-1.6l.3 .8l.3-.3l.3-.4l.3-1.4l.3 .6l.3-1.6l.3-2.2l.3-1.1l.3-1.7l.3-.3l.3-1.1l.3-1.6l.3 .1l.3-1.4l.3 .0l.3 .1l.3-1.9l.3-1.8l.3-.9l.3-.2l.3-1.6l.3-1.2l.3-1.4l.3-.9l.3-.8l.3-2.3l.3-1.7l.3-.9l.3-.7l.3 .3l.3 .7l.3-.3l.3-.9l.3-.8l.3 2.4l.3 .5l.3-2.2l.3-1.0l.3 2.5l.3 1.1l.3-.9l.3 .0l.3-3.7l.3-.9l.3-.1l.3-3.5l.3-1.3l.3 .7l.3 .6l.3-2.1l.3-.6l.3 .8l.3-2.3l.3-3.1l.3-.1l.3 .4l.3 2.9l.3 .5l.3-1.8l.3 3.0l.3-2.1l.3-.2l.3-.1l.3 .0l.3-1.0l.3-.2l.3-1.1l.3-2.8l.3-.4l.3-.3l.3-.3l.3 .0l.3-1.1l.3 1.8l.3 1.4l.3-4.5l.3 .0l.3-1.1l.3-3.6l.3 1.8l.3-.4l.3 .0l.3-1.2l.3 1.3l.3 .8l.3-1.2l.3-.6l.3-2.0l.3-1.1l.3-2.6l.3-.8l.3-2.0l.3 .0l.3 .3l.3-1.0l.3 .5l.3 2.3l.3-6.6l.3 1.5l.3 .7l.3 1.3l.3 .1l.3 2.8l.3 2.0l.3 1.4l.3 2.0l.3 1.6l.3-.9l.3 4.9l.3 1.8l.3-.6l.3 .4l.3-1.3l.3-3.2l.3 1.8l.3-2.6l.3 .1l.3 .3l.3 1.6l.3 .7l.3-1.4l.3-2.4l.3-1.4l.3 1.1l.3 1.5l.3-1.1l.3-2.8l.3 .5l.3-2.0l.3-1.6l.3-1.6l.3-.5l.3-1.2l.3-.3l.3-.1l.3-1.8l.3-6.6l.3-3.7l.3 .2l.3-.8l.3 2.8l.3-2.5l.3-2.4l.3-.1l.3-.2l.3-3.1l.3 .1l.3-2.3l.3-1.0l.3 3.5l.3-2.4l.3 2.9l.3 1.6l.3 1.3l.3 1.3l.3 .3l.3-4.4l.3-.7l.3 .4l.3 3.1l.3-1.4l.3 .0l.3-.5l.3 1.9l.3-4.2l.3-3.2l.3 1.3l.3-4.8l.3 .8l.3-1.4l.3-3.5l.3-.5l.3-1.9l.3 .4l.3 .9l.3 4.2l.3 .0l.3 .7l.3-.6l.3 .9l.3 2.9l.3-3.4l.3 2.9l.3 .1l.3 1.5l.3 1.7l.3 2.4l.3 .7l.3-.3l.3 1.3l.3 .0l.3-1.7l.3-.8l.3 .2l.3-1.6l.3-1.4l.3-4.2l.3-.8l.3-4.2l.3 1.7l.3-2.5l.3 2.2l.3 4.4l.3-4.1l.3 .2l.3-2.1l.3-2.6l.3-.1l.3 3.4l.3 4.7l.3 1.8l.3-1.7l.3 .5l.3 2.6l.3 5.4l.3 2.2l.3 2.2l.3 3.7l.3 .7l.3 .4l.3-.1l.3-2.6l.3 2.4l.3 1.6l.3 2.2l.3-2.0l.3-.6l.3 2.7l.3 .9l.3 2.6l.3-1.9l.3 .7l.3-.7l.3 1.3l.3-.3l.3 1.7l.3 2.1l.3 .9l.3-3.2l.3 2.4l.3 .8l.3-1.5l.3-.5l.3-.5l.3 .3l.3-1.9l.3-3.4l.3 .4l.3-.4l.3 3.1l.3-4.5l.3 2.9l.3 .3l.3-2.6l.3 .2l.3-2.9l.3-.7l.3-3.9l.3-1.5l.3-3.3l.3-3.5l.3-.4l.3-1.3l.3 .9l.3 1.6l.3-2.1l.3-.8l.3-.3l.3-3.8l.3 1.1l.3 .1l.3-.3l.3-2.3l.3-3.4l.3 1.0l.3 1.6l.3 2.9l.3 1.3l.3 1.4l.3-2.3l.3-.4l.3-3.4l.3-1.0l.3-.5l.3 2.7l.3-3.6l.3-5.9l.3 1.1l.3-4.2l.3-1.6l.3-2.1l.3-3.1l.3 2.3l.3-.6l.3-2.9l.3 .6l.3-.7l.3 2.1l.3-.8l.3-1.3l.3-.2l.3 .4l.3 2.1l.3-1.1l.3 1.1l.3 2.0l.3 5.4l.3 .6l.3-7.6l.3 .4l.3 .7l.3 2.2l.3 4.0l.3 1.1l.3-5.3l.3 2.7l.3 1.6l.3 2.1l.3 3.7l.3-2.2l.3 3.4l.3-3.0l.3 1.8l.3 2.3l.3 5.6l.3-1.9l.3-2.6l.3 3.2l.3-.1l.3 4.6l.3-1.0l.3-2.0l.3 2.0l.3-1.3l.3 .5l.3-4.5l.3 2.6l.3-2.9l.3 .4l.3-3.7l.3-3.8l.3-.3l.3 .4l.3 2.6l.3-.9l.3-.3l.3-.6l.3 4.3l.3-5.7l.3 .3l.3-3.1l.3-.6l.3-1.6l.3 2.6l.3-3.2l.3-2.0l.3 1.1l.3-1.2l.3 3.2l.3 2.7l.3-1.6l.3 2.3l.3-1.4l.3 .5l.3 .6l.3 4.3l.3-.9l.3-2.3l.3-1.4l.3 3.5l.3-3.3l.3 .7l.3 1.1l.3-3.0l.3 2.2l.3 4.7l.3 1.8l.3-.7l.3 3.0l.3 1.9l.3 4.5l.3-2.1l.3-.3l.3 .8l.3 .0l.3-.4l.3-.7l.3-1.7l.3-3.1l.3-.2l.3-1.8l.3-.8l.3 .3l.3 2.1l.3 1.9l.3-2.6l.3 .8l.3 1.2l.3-1.0l.3-3.9l.3-3.8l.3 3.3l.3 2.2l.3-.2l.3-2.3l.3 4.4l.3 2.6l.3-.4l.3-.3l.3-3.2l.3 3.3l.3-2.0l.3 3.3l.3 2.6l.3 .8l.3 3.7l.3-.8l.3 1.4l.3 1.6l.3 .4l.3-.5l.3 2.8l.3 .9l.3-.3l.3-.1l.3 .2l.3 3.9l.3-1.2l.3-1.2l.3-2.2l.3-1.7l.3-2.2l.3 2.4l.3 1.3l.3-1.0l.3-1.3l.3 1.1l.3 .5l.3-1.1l.3 2.3l.3 1.3l.3 .6l.3 1.8l.3-1.3l.3 2.9l.3-2.3l.3 1.3l.3 1.1l.3-.7l.3 .5l.3-2.3l.3-1.8l.3 1.0l.3-.1l.3 2.2l.3 .6l.3 2.0l.3 1.5l.3 1.1l.3 .9l.3 .3l.3 .3l.3 4.6l.3-2.7l.3 1.2l.3 2.9l.3 1.5l.3 2.9l.3 .9l.3-1.8l.3 .6l.3-.8l.3 3.5l.3 3.2l.3-.3l.3 1.7l.3 .0l.3-1.0l.3 1.1l.3-.4l.3 1.5l.3 1.2l.3 1.0l.3 1.1l.3-1.7l.3-.5l.3-.3l.3-.3l.3-5.2l.3-.7l.3 1.6l.3-2.0l.3 .6l.3 .9l.3-3.6l.3-.1l.3 .3l.3-.4l.3-2.7l.3 .8l.3-1.2l.3 1.1l.3 .0l.3-1.7l.3-.2l.3-1.8l.3-1.3l.3-2.5l.3 .2l.3 1.5l.3-.2l.3 .0l.3-.9l.3-.2l.3 1.9l.3-2.3l.3 4.2l.3-.5l.3 3.3l.3 .6l.3-2.1l.3 .7l.3-.4l.3 .2l.3 .7l.3-1.5l.3-1.0l.3-.3l.3-1.7l.3 .7l.3 1.3l.3 1.0l.3 .5l.3-.5l.3 1.7l.3-3.2l.3 .5l.3 .5l.3 2.2l.3 1.3l.3 1.1l.3-.5l.3 1.3l.3-2.1l.3 .4l.3-2.6l.3 4.1l.3 2.7l.3-1.3l.3-1.0l.3-2.2l.3-.5l.3 2.4l.3 1.2l.3-.9l.3 1.0l.3 .7l.3 2.2l.3 2.0l.3 .2l.3 .9l.3 .5l.3-2.3l.3 1.9l.3 .8l.3 1.5l.3-2.5l.3 1.9l.3-.6l.3 .8l.3 1.9l.3-2.4l.3-1.3l.3 2.3l.3-1.4l.3-.6l.3 1.9l.3 .1l.3 1.4l.3 .3l.3-.1l.3 1.3l.3 2.4l.3-1.4l.3 1.2l.3 .4l.3-1.2l.3-.2l.3-1.9l.3-.9l.3 .6l.3 .1l.3 1.9l.3-2.3l.3 .1l.3-.1l.3 .6l.3 2.4l.3-1.4l.3 1.9l.3-.5l.3 .2l.3 1.9l.3-.2l.3 1.2l.3 .3l.3-.1l.3-.2l.3-1.5l.3 .3l.3 1.5l.3 1.1l.3-1.1l.3 2.5l.3 1.2l.3-1.3l.3-.4l.3 1.8l.3-1.4l.3 .4l.3 1.4l.3 .8l.3 .8l.3 1.2l.3-.8l.3-.9l.3 2.1l.3-2.9l.3-1.0l.3-.3l.3-1.2l.3 1.1l.3-.8l.3 .1l.3-4.4l.3 1.7l.3 .7l.3-2.1l.3 1.0l.3-1.0l.3 .0l.3 .9l.3-1.9l.3-3.0l.3-.9l.3-2.5l.3-1.2l.3-1.0l.3-.9l.3 1.8l.3 .5l.3-2.4l.3 1.2l.3-3.5l.3-.9l.3 .3l.3 2.1l.3 .7l.3-.1l.3 1.1l.3-.1l.3 .8l.3-2.7l.3-3.1l.3-.3l.3 1.5l.3 .3l.3 1.0l.3 .3l.3-.1l.3 .3l.3-2.1l.3 1.3l.3-2.2l.3-.3l.3-2.2l.3 1.3l.3-2.4l.3 2.9l.3-2.4l.3 .8l.3-.2l.3-1.3l.3 2.2l.3-1.2l.3 2.1l.3-2.6l.3-1.4l.3-2.9l.3 2.1l.3 1.7l.3-.1l.3-.7l.3-1.7l.3 3.9l.3 .0l.3-4.1l.3-.4l.3-3.9l.3 3.8l.3 3.1l.3 2.0l.3-.3l.3-.6l.3-1.2l.3 2.5l.3 .2l.3 1.2l.3 .8l.3 1.3l.3 3.0l.3 3.5l.3 .5l.3 .6l.3-1.4l.3-1.8l.3-1.2l.3 1.7l.3 .1l.3 .9l.3-.3l.3-1.5l.3-2.3l.3-.5l.3-2.0l.3 3.5l.3-.5l.3-1.4l.3 2.4l.3-2.1l.3-.1l.3-1.2l.3-.3l.3-1.5l.3 .2l.3 1.4l.3-3.3l.3-3.7l.3 2.7l.3-.2l.3 .8l.3-1.4l.3 1.8l.3 1.3l.3-3.8l.3 .1l.3-2.0l.3-3.0l.3-.2l.3 1.1l.3-2.5l.3-1.8l.3 2.8l.3-.3l.3 .2l.3-2.5l.3-1.1l.3 .6l.3 .2l.3-.2l.3 2.1l.3-1.2l.3-3.6l.3-1.4l.3 .5l.3 3.0l.3-1.1l.3 .0l.3 .7l.3-.5l.3-.3l.3 .9l.3 2.7l.3 1.2l.3-.4l.3 1.0l.3-1.9l.3 2.5l.3 1.4l.3 .4l.3-2.6l.3 4.2l.3-4.9l.3 .0l.3 .0l.3 2.0l.3-2.1l.3 1.1l.3-.1l.3-.4l.3 1.5l.3 1.7l.3-.7l.3-1.6l.3-4.4l.3 3.0l.3-1.0l.3-3.3l.3 1.0l.3 2.6l.3-1.0l.3-2.5l.3 3.9l.3-.3l.3-.9l.3 .5l.3-5.1l.3-.1l.3-.4l.3 3.8l.3-2.4l.3-1.8l.3-2.7l.3-.8l.3 .6l.3 1.8l.3 .5l.3 4.2l.3 .3l.3 .7l.3 1.8l.3 .2l.3-1.8l.3-2.7l.3 1.7l.3-.7l.3 3.2l.3-1.2l.3-3.1l.3 1.9l.3 3.1l.3 .1l.3 .8l.3 .7l.3 3.1l.3 .0l.3-.5l.3-.9l.3-2.1l.3 3.6l.3 2.0l.3-1.7l.3 1.5l.3 .6l.3-.7l.3-.9l.3 .9l.3-2.5l.3-.7l.3 .2l.3 .1l.3-.4l.3 .3l.3 .7l.3-2.0l.3 .1l.3-1.0l.3 2.5l.3-3.1l.3-.2l.3 1.2l.3-.9l.3-.7l.3-1.0l.3 .8l.3-2.1l.3 .3l.3 .1l.3-2.2l.3 1.2l.3-.4l.3 .8l.3 1.3l.3-.2l.3-2.9l.3 .2l.3-3.3l.3-1.0l.3 3.2l.3-1.1l.3 1.8l.3-2.0l.3-1.3l.3-3.0l.3 1.3l.3-1.5l.3 .3l.3-.4l.3-.3l.3-.8l.3-1.5l.3-1.1l.3-2.2l.3-4.3l.3 1.6l.3 3.8l.3 .4l.3 2.3l.3-2.2l.3-4.4l.3-3.1l.3 1.1l.3-.5l.3-1.4l.3 .6l.3-3.0l.3 .7l.3-1.3l.3-.2l.3 1.8l.3-1.7l.3 1.7l.3 1.0l.3-3.8l.3 3.5l.3-4.9l.3-1.0l.3 .7l.3-5.7l.3 2.6l.3 1.9l.3-1.5l.3-.5l.3-.6l.3-1.3l.3 1.6l.3-2.5l.3-1.3l.3-.3l.3 .6l.3 .5l.3-5.6l.3-5.0l.3 .4l.3 .1l.3-2.4l.3 1.1l.3 1.2l.3 .0l.3 2.4l.3-4.7l.3-1.1l.3 3.3l.3-.9l.3-5.1l.3-.6l.3 1.5l.3 2.8l.3-1.4l.3 .2l.3-5.4l.3-1.7l.3 2.2l.3-3.8l.3-.5l.3-4.8l.3 4.7l.3-.9l.3 .8l.3-4.5l.3-2.7l.3 5.6l.3-1.6l.3-1.7l.3 1.2l.3 .7l.3-5.8l.3-1.5l.3 1.2l.3 .7l.3 1.0l.3-1.4l.3-.8l.3 .7l.3-2.6l.3-3.5l.3-2.3l.3-.8l.3-1.6l.3-2.7l.3-1.8l.3-1.2l.3-.4l.3-.8l.3-5.6l.3 1.8l.3-6.6l.3 1.0l.3-7.0l.3-2.6l.3-2.2l.3-10.9l.3-.2l.3-2.2l.3-5.0l.3-1.7l.3-5.0l.3-2.5l.3-6.1l.3 1.0l.3-1.0l.3-1.2l.3-6.1l.3 2.8l.3 .4l.3-7.9l.3-7.6l.3-6.4l.3-2.0l.3-1.7l.3-8.2l.3-10.9l.3-1.5l.3-5.0l.3-4.8l.3-4.0l.3-9.9l.3-4.8l.3-6.4l.3-4.2l.3-2.0l.3-7.4l.3-9.6l.3 5.4l.3 5.6l.3 2.3l.3 1.1l.3 13.0l.3 16.7l.3 18.6l.3 14.9l.3 18.6l.3 14.2l.3 16.0l.3 9.3l.3 6.2l.3 7.7l.3-2.6l.3-8.9l.3-15.0l.3-12.6l.3-15.6l.3-4.0l.3 2.1l.3-1.5l.3-5.7l.3 3.3l.3-2.7l.3-.7l.3 1.4l.3 .3l.3 9.3l.3 8.7l.3 18.9l.3 14.3l.3 12.1l.3 2.0l.3 7.9l.3 2.4l.3 1.8l.3 2.9l.3 .5l.3-2.9l.3 4.0l.3 3.8l.3 1.5l.3 4.0l.3 3.8l.3-6.7l.3-4.0l.3 .0l.3-2.4l.3-2.1l.3 .0l.3-1.3l.3-5.2l.3-2.6l.3-4.9l.3-2.6l.3-5.0l.3-6.5l.3-1.0l.3-1.7l.3 2.5l.3 2.8l.3-3.2l.3-1.5l.3-5.0l.3-4.9l.3-1.8l.3-1.9l.3-.1l.3-1.4l.3 3.4l.3-3.8l.3-6.0l.3 1.9l.3-1.3l.3 2.0l.3 4.3l.3-2.8l.3 .1l.3 2.0l.3-3.3l.3 2.3l.3 4.1l.3 4.2l.3 4.4l.3 1.9l.3 1.4l.3-3.9l.3-2.9l.3 6.3l.3 12.9l.3 5.8l.3-2.9l.3 4.3l.3 5.8l.3-.9l.3 6.7l.3 1.0l.3 7.3l.3 3.1l.3 10.6l.3-2.8l.3 3.1l.3-1.1l.3 6.4l.3 .9l.3 2.6l.3 .3l.3-2.4l.3 .1l.3-.9l.3 .1l.3 3.0l.3 4.4l.3 2.7l.3-2.3l.3-4.8l.3-1.5l.3-5.0l.3-1.9l.3-.5l.3-3.6l.3-4.1l.3-3.4l.3-.6l.3-1.9l.3-4.4l.3-.7l.3-2.5l.3 4.5l.3-1.1l.3-4.8l.3 .9l.3 1.4l.3-.2l.3 .2l.3 2.1l.3 2.1l.3 3.9l.3 1.5l.3 6.1l.3-1.5l.3 3.8l.3-.6l.3-3.9l.3-2.7l.3-3.5l.3-2.1l.3 5.5l.3-1.1l.3 2.1l.3-2.3l.3 .5l.3-2.3l.3 3.0l.3-1.3l.3-1.5l.3-.6l.3 5.2l.3-1.0l.3-.1l.3-5.5l.3-2.2l.3 .7l.3-5.3l.3 4.3l.3 .0l.3-1.1l.3-1.4l.3-1.2l.3-1.7l.3 3.6l.3 .1l.3 1.2l.3-3.4l.3-3.4l.3 3.6l.3-4.4l.3-1.3l.3 2.6l.3 2.7l.3-4.6l.3-.4l.3 .5l.3 .0l.3-2.0l.3 2.6l.3-1.4l.3-.2l.3-5.6l.3 2.1l.3-3.4l.3 4.6l.3 2.3l.3-1.1l.3 .9l.3 .4l.3-.3l.3 1.1l.3-.7l.3-1.3l.3-1.7l.3 5.4l.3-.4l.3-.9l.3 1.3l.3-2.1l.3-1.4l.3 1.9l.3 2.2l.3 .4l.3-5.5l.3 .6l.3 .1l.3 1.3l.3-2.8l.3-2.2l.3 1.0l.3-1.5l.3-1.4l.3 1.7l.3 3.6l.3 .2l.3 2.8l.3-3.8l.3 2.0l.3-.7l.3-2.9l.3-.5l.3-1.5l.3 .6l.3-1.2l.3 4.6l.3-1.3l.3-3.7l.3 .8l.3 2.0l.3-.6l.3 2.7l.3-2.9l.3-1.9l.3 5.8l.3-.1l.3 1.8l.3 1.3l.3 1.2l.3-.3l.3-.6l.3 3.3l.3-1.7l.3 .8l.3 2.3l.3-1.1l.3-3.3l.3 3.3l.3 3.9l.3 .8l.3-3.8l.3 3.3l.3 5.7l.3-4.5l.3-6.0l.3 1.5l.3 1.4l.3 2.5l.3 1.7l.3-.9l.3 .4l.3-.5l.3-1.1l.3-1.2l.3-1.3l.3 1.1l.3-.2l.3-2.4l.3 2.2l.3-3.4l.3-1.0l.3 .0l.3-5.3l.3 .1l.3 3.1l.3 1.7l.3-4.2l.3-2.0l.3-2.1l.3 .7l.3 .6l.3-2.4l.3 4.2l.3 2.4l.3 1.8l.3-.1l.3 1.9l.3-2.4l.3 3.9l.3 2.9l.3 1.6l.3-1.1l.3 5.7l.3 3.6l.3-4.2l.3 3.1l.3 1.8l.3-4.7l.3 4.5l.3 3.8l.3 3.0l.3-.1l.3-2.6l.3-1.5l.3 1.1l.3 2.1l.3-2.6l.3-1.5l.3 1.2l.3-6.2l.3 1.9l.3-.5l.3-5.2l.3 3.4l.3-2.1l.3 2.7l.3 2.9l.3-4.5l.3-3.1l.3 .7l.3-4.0l.3 3.1l.3 .6l.3 2.1l.3-5.6l.3 1.2l.3 1.1l.3-4.8l.3 3.3l.3-3.7l.3 1.2l.3-3.1l.3 3.2l.3 4.2l.3-1.6l.3-1.2l.3 2.2l.3-3.0l.3-.9l.3 1.3l.3-.5l.3 2.6l.3 .6l.3 2.0l.3-3.6l.3 .2l.3-4.8l.3 1.2l.3 2.7l.3 3.2l.3-7.4l.3-2.1l.3 .8l.3-4.0l.3 1.2l.3 .4l.3-2.5l.3-2.0l.3-2.6l.3 1.5l.3 3.3l.3 .2l.3 6.7l.3-6.8l.3-1.8l.3 2.3l.3-3.0l.3 1.9l.3 2.6l.3 .1l.3-.8l.3 2.7l.3 .5l.3 1.3l.3 .5l.3-2.7l.3-2.8l.3 .1l.3 1.8l.3 .3l.3 3.4l.3 .2l.3 1.9l.3-.8l.3-2.8l.3 2.2l.3 .5l.3-3.0l.3-.9l.3 7.5l.3-10.9l.3 4.4l.3 .3l.3-.2l.3-.8l.3-1.0l.3 6.6l.3-2.9l.3-1.5l.3 1.8l.3 .3l.3 .6l.3 1.8l.3-.3l.3 6.7l.3 .3l.3-2.0l.3 7.8l.3 5.5l.3 3.7l.3 1.5l.3 3.2l.3-4.2l.3-5.5l.3 1.5l.3 2.1l.3 .6l.3 3.4l.3-.9l.3-3.3l.3-2.3l.3 .7l.3-2.1l.3-2.0l.3-5.2l.3 .2l.3-2.4l.3 2.2l.3 1.0l.3 1.9l.3 3.7l.3-2.5l.3 2.2l.3-4.8l.3-.1l.3 1.7l.3 3.5l.3-5.2l.3-1.6l.3-.1l.3-.8l.3-2.7l.3-3.5l.3-1.5l.3 1.8l.3-2.2l.3 6.3l.3 2.6l.3-4.6l.3 .8l.3 5.3l.3 4.2l.3 2.3l.3-4.0l.3 .2l.3 4.6l.3 .6l.3-.6l.3 2.2l.3 3.0l.3 .4l.3 1.0l.3 2.9l.3-1.4l.3-1.2l.3 3.3l.3-1.7l.3 3.0l.3-.3l.3 3.5l.3-1.5l.3 3.9l.3 .7l.3-.5l.3-1.4l.3 .9l.3-.9l.3-.9l.3 4.3l.3 2.1l.3 2.9l.3-3.2l.3-3.1l.3-1.0l.3 4.1l.3 3.2l.3-3.2l.3 4.1l.3-.2l.3-1.4l.3 1.6l.3 2.1l.3-.2l.3-.1l.3-1.3l.3-2.0l.3 .7l.3-1.8l.3 3.3l.3-.8l.3 3.8l.3-2.5l.3 4.8l.3-1.0l.3-.4l.3 2.6l.3 3.0l.3 .7l.3 .3l.3 4.9l.3 .8l.3-2.3l.3 .5l.3 4.3l.3 .7l.3 1.7l.3 3.6l.3-2.0l.3 .8l.3-.8l.3 .9l.3 2.0l.3-1.6l.3 1.7l.3 .8l.3 .9l.3-2.7l.3-3.2l.3 .4l.3-2.7l.3 .1l.3 .4l.3-2.6l.3-.6l.3-2.5l.3-5.2l.3-1.2l.3-2.4l.3 1.9l.3-1.1l.3 .7l.3 1.3l.3 3.6l.3-.2l.3 .0l.3 1.8l.3 3.5l.3-.7l.3 .5l.3-.5l.3-1.0l.3-2.0l.3 1.5l.3 1.0l.3 .9l.3 4.7l.3-.9l.3 .8l.3-.5l.3 2.6l.3-.7l.3 3.5l.3-1.3l.3 1.1l.3 1.5l.3-1.1l.3 1.1l.3-1.2l.3-2.4l.3-1.4l.3 .6l.3 2.8l.3-2.2l.3 .2l.3-2.3l.3 .3l.3-2.7l.3-1.1l.3 .7l.3-.9l.3 .1l.3-.9l.3-5.5l.3-6.4l.3-7.1l.3-5.0l.3-1.5l.3-5.4l.3-5.2l.3-1.7l.3 1.4l.3 1.2l.3-2.4l.3-3.0l.3-3.7l.3-.1l.3 .5l.3 2.9l.3 1.0l.3-1.7l.3 2.3l.3-3.6l.3-1.9l.3 .0l.3 .7l.3 2.7l.3 1.0l.3 1.4l.3 6.0l.3-1.9l.3 .4l.3 2.5l.3 3.5l.3 2.9l.3 .9l.3 .7l.3 1.3l.3 3.4l.3-.8l.3-2.9l.3 3.6l.3 .2l.3 2.9l.3 3.9l.3 .0l.3 3.5l.3-4.4l.3 .8l.3 .8l.3 1.6l.3-2.0l.3 .5l.3 .3l.3 .1l.3-2.7l.3-2.3l.3 3.0l.3 1.6l.3 .5l.3 1.4l.3 1.8l.3-3.0l.3 1.9l.3 2.6l.3 1.0l.3-.2l.3 .1l.3-4.1l.3-.7l.3 2.2l.3 1.7l.3-1.1l.3-2.8l.3-1.6l.3 .7l.3 2.5l.3-1.0l.3-3.7l.3-.3l.3-.8l.3 3.1l.3-2.0l.3-2.6l.3-2.1l.3-4.1l.3-2.6l.3-.8l.3-1.5l.3 .8l.3 .1l.3 2.5l.3 2.9l.3-1.1l.3-1.3l.3-4.3l.3 1.9l.3 2.0l.3-1.7l.3-.2l.3-.8l.3 3.3l.3 1.2l.3 2.2l.3-3.4l.3 5.9l.3-3.6l.3-2.7l.3 1.0l.3-.9l.3 4.4l.3-1.8l.3-1.5l.3 2.5l.3 2.1l.3-2.8l.3-1.2l.3-.5l.3 .1l.3 4.0l.3 1.7l.3 .7l.3 .9l.3-1.9l.3 .5l.3-1.7l.3-2.5l.3 3.3l.3-4.8l.3 .5l.3-.8l.3-2.9l.3 .8l.3 1.4l.3 1.8l.3-2.1l.3 1.2l.3-.7l.3 .2l.3-6.2l.3-1.2l.3-1.7l.3 1.1l.3-2.5l.3-1.6l.3-2.9l.3-2.5l.3-1.4l.3 3.0l.3-3.1l.3-5.8l.3 2.2l.3-.8l.3 1.4l.3 .4l.3-1.3l.3 .3l.3 .5l.3 1.9l.3-.1l.3 2.6l.3 4.8l.3-1.1l.3-.1l.3 .2l.3 3.5l.3 2.8l.3 3.8l.3 1.4l.3 .0l.3 1.1l.3-2.6l.3 2.7l.3 1.4l.3 5.3l.3 1.8l.3-4.2l.3-2.4l.3 1.4l.3-5.5l.3-1.3l.3 1.6l.3 1.6l.3-.1l.3 1.9l.3-1.9l.3-.7l.3-1.2l.3-2.9l.3 .4l.3-1.3l.3 .4l.3-5.6l.3 2.1l.3-.2l.3-.4l.3 .9l.3-.6l.3 2.6l.3 2.3l.3 .4l.3 .4l.3-1.2l.3-1.7l.3-4.0l.3-.9l.3 2.9l.3 .8l.3-2.5l.3-.3l.3 1.7l.3-1.7l.3 2.7l.3-3.7l.3 .9l.3-1.8l.3-6.9l.3-6.5l.3-5.8l.3-13.1l.3-3.4l.3-2.7l.3-1.6l.3 2.6l.3-4.6l.3 .1l.3 1.3l.3-.6l.3 3.7l.3 .6l.3-2.2l.3 2.3l.3 1.5l.3-2.4l.3 1.6l.3 .6l.3 .2l.3-4.1l.3 4.3l.3 1.0l.3-.9l.3 .6l.3 1.0l.3-.5l.3-.6l.3 2.0l.3-.4l.3 .6l.3-.9l.3 2.0l.3 4.9l.3 1.8l.3 1.0l.3 .1l.3 .1l.3-2.6l.3 5.5l.3-2.5l.3-3.8l.3 2.3l.3 1.0l.3-1.5l.3-3.5l.3-2.0l.3 5.9l.3-.5l.3-1.7l.3 5.0l.3-2.8l.3-2.8l.3 1.8l.3 .5l.3 3.4l.3-5.9l.3 .8l.3-4.8l.3 2.5l.3-1.5l.3-.6l.3-1.1l.3 3.3l.3 3.9l.3-1.7l.3-1.7l.3-1.8l.3 1.4l.3-3.1l.3 9.9l.3-3.7l.3 2.7l.3-2.5l.3-5.6l.3-4.2l.3 .2l.3-.8l.3 .8l.3-2.1l.3 8.0l.3 4.5l.3-7.5l.3 1.1l.3 2.5l.3-2.5l.3-1.5l.3 2.6l.3 .1l.3-4.6l.3 3.4l.3-2.6l.3 4.7l.3-4.6l.3-6.6l.3 2.1l.3 4.1l.3 1.0l.3 .0l.3-2.2l.3 3.9l.3-4.4l.3 4.5l.3-2.0l.3 .7l.3-1.2l.3 .7l.3 7.1l.3-2.0l.3 2.0l.3-2.0l.3 3.1l.3-4.2l.3 .5l.3 2.6l.3 5.1l.3-5.8l.3-3.2l.3 .0l.3 3.8l.3-4.1l.3 2.0l.3-2.7l.3-3.0l.3-3.7l.3 2.3l.3 3.7l.3-.7l.3-5.9l.3 .3l.3 4.2l.3 2.3l.3-.2l.3 3.2l.3-5.6l.3-3.4l.3 7.3l.3 .1l.3-2.4l.3-2.4l.3-7.4l.3 4.5l.3-5.4l.3-3.2l.3 2.9l.3 6.0l.3-1.5l.3 1.1l.3-1.6l.3 1.2l.3-5.4l.3 7.0l.3-4.1l.3 1.4l.3-6.4l.3 6.4l.3 .3l.3 4.4l.3-4.7l.3 1.6l.3-2.7l.3-1.4l.3 2.7l.3-4.6l.3 1.5l.3 4.3l.3 2.2l.3-.8l.3-2.8l.3-5.6l.3 2.7l.3-4.8l.3 2.3l.3-3.3l.3-1.3l.3-1.3l.3 .8l.3-3.1l.3-.3l.3-2.7l.3 1.2l.3-.4l.3-.3l.3-4.4l.3 .2l.3-1.0l.3 .6l.3-1.6l.3-4.6l.3 2.7l.3-.9l.3 2.8l.3-4.7l.3 5.3l.3 4.3l.3-1.3l.3 4.1l.3 .3l.3 5.5l.3 1.1l.3-4.7l.3 .2l.3-4.2l.3 1.4l.3 3.7l.3 3.4l.3-.4l.3-.5l.3 .8l.3-2.2l.3 1.3l.3 2.9l.3-.9l.3 1.3l.3-4.0l.3-1.9l.3 .9l.3 5.6l.3 .6l.3 2.3l.3-3.6l.3 1.1l.3-8.1l.3 1.1l.3-7.0l.3 5.0l.3 1.0l.3 2.5l.3-.6l.3-3.3l.3-3.0l.3 .7l.3 4.2l.3 .0l.3-2.7l.3-1.7l.3-1.1l.3 .9l.3 1.1l.3-.2l.3 1.5l.3-3.4l.3 7.2l.3 .9l.3 4.5l.3-.3l.3-1.4l.3 .0l.3 .6l.3-2.0l.3-.1l.3 6.6l.3 1.8l.3-2.8l.3 1.3l.3-2.7l.3 4.7l.3-3.4l.3 3.3l.3 .0l.3 .3l.3-1.9l.3 1.0l.3-.4l.3 .0l.3 3.8l.3 8.4l.3-1.8l.3 2.7l.3-.5l.3-1.8l.3 4.6l.3 1.5l.3 2.7l.3-.5l.3 .1l.3-2.0l.3 .5l.3 5.6l.3-5.9l.3 6.0l.3 9.3l.3 6.2l.3 6.1l.3 3.1l.3 6.9l.3 2.2l.3-3.0l.3 1.4l.3-4.1l.3-7.3l.3 .2l.3-.5l.3-2.4l.3-1.0l.3-1.2l.3-4.1l.3 3.8l.3-.7l.3 5.4l.3-3.1l.3-1.3l.3-5.9l.3 1.8l.3-4.3l.3 .8l.3 1.2l.3 .0l.3-4.0l.3-2.9l.3 1.6l.3 1.8l.3 1.4l.3-3.0l.3-2.4l.3 2.8l.3-4.4l.3 .2l.3-2.9l.3-5.1l.3-2.9l.3 1.9l.3 .3l.3 .6l.3-2.1l.3-2.2l.3 .4l.3 .0l.3-3.7l.3 .7l.3 5.9l.3-2.5l.3 2.0l.3-.2l.3 2.0l.3-2.9l.3-2.8l.3 2.8l.3-1.2l.3 1.1l.3 .1l.3 3.4l.3 .5l.3 .2l.3-2.6l.3-3.1l.3-.1l.3 4.3l.3 2.5l.3 1.4l.3-1.4l.3-2.6l.3 4.0l.3 .4l.3 1.6l.3-2.4l.3-.7l.3 3.1l.3 2.3l.3-2.5l.3 1.9l.3-2.0l.3 4.8l.3 1.9l.3 5.5l.3 1.9l.3-3.8l.3-.1l.3-1.4l.3 .8l.3 2.2l.3-.2l.3 .3l.3-2.9l.3 1.7l.3-.4l.3 .9l.3 1.5l.3-1.8l.3 .3l.3-3.2l.3 1.5l.3-1.5l.3-2.6l.3-1.1l.3-3.6l.3-.7l.3-.1l.3 .8l.3 .1l.3-1.5l.3 .0l.3-5.1l.3 2.1l.3 2.1l.3 1.8l.3 1.7l.3-2.3l.3-1.3l.3-1.7l.3-1.2l.3 .7l.3 3.3l.3-5.4l.3-.7l.3 1.4l.3-2.3l.3 2.0l.3-3.3l.3 .5l.3-3.0l.3 2.8l.3-1.0l.3 3.0l.3-.5l.3-2.2l.3-.1l.3 1.1l.3 .5l.3-.4l.3-.7l.3 .4l.3 2.5l.3-2.2l.3 1.2l.3-3.8l.3 3.2l.3 .6l.3-1.5l.3-1.0l.3-4.3l.3 1.7l.3 .1l.3-3.0l.3 .5l.3 2.8l.3 .6l.3 .5l.3-1.5l.3 3.0l.3 .0l.3 2.3l.3 5.1l.3-7.3l.3-.9l.3 1.0l.3-1.0l.3 3.9l.3-.8l.3 4.6l.3 1.0l.3-.1l.3-1.2l.3 1.8l.3 .2l.3 2.9l.3-.8l.3 1.2l.3-.6l.3-.4l.3-4.8l.3 .9l.3 1.7l.3-2.5l.3-2.1l.3 1.5l.3 2.5l.3-3.4l.3 2.7l.3 3.3l.3-.9l.3 .6l.3 1.0l.3-2.2l.3 1.9l.3 .6l.3-3.7l.3 1.9l.3 2.1l.3-3.3l.3 2.6l.3-1.2l.3-3.2l.3-1.6l.3-.6l.3 3.1l.3-.4l.3 .0l.3-2.2l.3 2.0l.3-1.5l.3 .6l.3 3.7l.3 2.6l.3-.9l.3 .7l.3 1.9l.3 .2l.3 3.0l.3 2.6l.3-1.7l.3-3.6l.3 .5l.3 4.1l.3 2.2l.3 1.8l.3 1.2l.3-3.0l.3 .1l.3 2.2l.3-.4l.3 1.4l.3-3.5l.3-2.6l.3 5.9l.3 1.0l.3 .4l.3 2.3l.3 3.2l.3 3.9l.3-9.7l.3 .3l.3 1.8l.3-5.5l.3-3.2l.3 1.6l.3 6.0l.3 1.9l.3 4.1l.3-1.6l.3 .9l.3 1.5l.3-1.3l.3-1.8l.3-.7l.3-8.7l.3 3.5l.3-2.5l.3 1.1l.3 4.2l.3 2.2l.3-3.7l.3 3.3l.3 2.9l.3 .9l.3 1.7l.3 1.1l.3-4.2l.3 .9l.3 .6l.3-1.5l.3 1.7l.3-.4l.3 1.6l.3-.5l.3 4.1l.3 5.2l.3-2.3l.3 1.4l.3 1.6l.3 2.6l.3 1.2l.3-2.6l.3 4.0l.3 2.3l.3 .3l.3 2.7l.3 1.8l.3 3.2l.3-.8l.3-1.7l.3-1.0l.3-1.0l.3-1.8l.3 .5l.3-2.0l.3-3.8l.3 1.7l.3-2.6l.3 .6l.3-5.7l.3-.8l.3 1.5l.3-.6l.3-3.6l.3-4.4l.3-2.3l.3-.6l.3-2.0l.3-1.0l.3-1.1l.3-.9l.3 2.1l.3-3.1l.3 2.2l.3 2.5l.3-2.0l.3-1.3l.3 1.2l.3 .6l.3 2.4l.3-4.9l.3 1.0l.3 4.0l.3-.3l.3 3.4l.3 3.1l.3-3.9l.3 2.0l.3-.4l.3-1.3l.3-1.2l.3-.6l.3-1.7l.3 .7l.3 3.0l.3 2.8l.3-1.5l.3 1.3l.3 .8l.3-5.5l.3 3.3l.3-1.9l.3-.8l.3 3.9l.3 4.4l.3-2.7l.3-1.2l.3-.7l.3 .8l.3 1.1l.3-.1l.3-1.5l.3 6.3l.3-.4l.3-.6l.3 3.3l.3-.3l.3 2.9l.3 1.6l.3 1.7l.3-1.6l.3 1.3l.3-3.4l.3-1.5l.3 2.0l.3 .7l.3 3.9l.3-.5l.3-3.0l.3 1.9l.3 .6l.3 1.6l.3-1.4l.3 .0l.3 1.8l.3 2.6l.3 1.4l.3 1.8l.3-2.8l.3 .6l.3 1.5l.3 2.5l.3 .6l.3-.3l.3 .1l.3-13.8l.3-16.7l.3-12.4l.3-7.1l.3-.3l.3-7.2l.3 .9l.3-3.1l.3 4.4l.3 1.3l.3 1.3l.3-2.7l.3-5.1l.3-1.1l.3 .9l.3-2.3l.3-.4l.3 6.9l.3-3.5l.3 2.4l.3-4.6l.3 2.3l.3 3.4l.3 2.1l.3 3.6l.3 4.3l.3-4.8l.3 1.4l.3 1.8l.3 1.4l.3 4.1l.3-.1l.3 2.5l.3 2.0l.3-.8l.3 .7l.3-2.2l.3 1.5l.3 1.1l.3-.8l.3-2.1l.3 2.1l.3-1.5l.3 4.4l.3 .4l.3-1.3l.3-4.4l.3 .5l.3-1.7l.3-1.4l.3-4.0l.3 1.2l.3-.3l.3-2.2l.3-2.1l.3-.7l.3-3.3l.3 .0l.3 4.8l.3-2.0l.3 6.1l.3-5.2l.3 2.5l.3 1.6l.3 1.2l.3-.5l.3-6.0l.3 3.0l.3 2.7l.3 .1l.3-5.2l.3 5.3l.3-.7l.3 1.6l.3 5.2l.3 4.2l.3 1.0l.3-1.1l.3 5.1l.3 2.5l.3-.9l.3-1.8l.3 2.1l.3-1.7l.3 6.3l.3 .3l.3-2.6l.3-.2l.3-5.2l.3 .0l.3-1.7l.3-3.6l.3-.3l.3 1.7l.3-3.4l.3 .3l.3-3.0l.3 1.6l.3-3.8l.3 2.9l.3 1.6l.3 1.1l.3 2.9l.3-1.6l.3-1.2l.3 .2l.3-2.3l.3-4.9l.3-1.7l.3-1.0l.3 2.5l.3-.3l.3 .4l.3 2.5l.3 .6l.3 4.8l.3-1.8l.3-3.3l.3 3.1l.3-2.1l.3-.5l.3 2.2l.3-.6l.3 .8l.3-2.6" stroke="#dba64f"/>
<path d="M44.5 431.0l.3-.3l.3 .0l.3-.2l.3-.2l.3-.1l.3-.6l.3 .1l.3-.1l.3 1.2l.3-.2l.3-.4l.3-.2l.3-.3l.3-.4l.3-.1l.3 .3l.3-.2l.3 .3l.3-.2l.3-.2l.3 .4l.3 .0l.3-.2l.3 .0l.3 .3l.3 .7l.3-.2l.3-.2l.3 .5l.3-.4l.3 .1l.3 .4l.3 .3l.3 .0l.3 .3l.3-1.0l.3 .8l.3-.2l.3-.3l.3 .5l.3 .5l.3 .0l.3-.2l.3 .3l.3 .2l.3 .5l.3 .2l.3 .0l.3 .3l.3-.2l.3-.3l.3 .3l.3 .1l.3-.1l.3-.2l.3 .2l.3-.8l.3 .6l.3 .3l.3-.4l.3 .3l.3-.2l.3 .5l.3-.6l.3 .0l.3 .5l.3 .6l.3-.8l.3 .2l.3 .3l.3 .0l.3 .7l.3-.4l.3 .2l.3-.2l.3 .6l.3-.1l.3-.1l.3-.6l.3 .6l.3 .1l.3-.1l.3 .1l.3-.2l.3-.5l.3-.5l.3-.3l.3 .5l.3-.6l.3-.3l.3-.1l.3 .1l.3 .1l.3-.5l.3-.5l.3 .1l.3 .5l.3 .1l.3-.2l.3-.3l.3-.1l.3-.2l.3 .3l.3-.3l.3 .2l.3 .0l.3 .2l.3 .1l.3 .8l.3 .2l.3 .2l.3-1.0l.3-.1l.3-.1l.3 .3l.3-.7l.3 .7l.3 .4l.3-.5l.3-.1l.3-.1l.3 .3l.3 .4l.3 .7l.3-.2l.3 .1l.3 .0l.3 .5l.3 .0l.3 .2l.3-.6l.3-.1l.3-.3l.3 .6l.3 .2l.3-.2l.3-.2l.3 .2l.3-.3l.3-.3l.3 .2l.3 .7l.3-.4l.3-.4l.3-.5l.3-.4l.3 .3l.3 .3l.3-.1l.3 .0l.3-.1l.3-.1l.3-.6l.3-.1l.3 .1l.3-.3l.3 .0l.3-.2l.3 .0l.3 .4l.3-.3l.3 .0l.3 .2l.3 .1l.3 .4l.3-1.0l.3 .2l.3-.3l.3 .0l.3 .2l.3 .2l.3 .1l.3-.3l.3 .3l.3-.4l.3-.3l.3 .1l.3-.4l.3 .6l.3 .0l.3 .4l.3-.5l.3-.5l.3-.1l.3 .1l.3-.4l.3 .0l.3-.1l.3 .4l.3-.4l.3 .2l.3-.4l.3-.4l.3-.2l.3-.3l.3 .2l.3 .5l.3 .0l.3-.2l.3 .0l.3-.7l.3-.6l.3-.7l.3-1.2l.3 .0l.3-1.2l.3 .1l.3-.5l.3 .0l.3-.6l.3-.9l.3-.2l.3-.7l.3-.5l.3-.4l.3-.1l.3-.1l.3-.4l.3 .0l.3-.9l.3 .3l.3-.3l.3 .7l.3 .5l.3-1.0l.3 .2l.3-.1l.3-.4l.3 .4l.3-.3l.3-.7l.3 .2l.3 .1l.3 .1l.3-.5l.3 .4l.3 .3l.3-.6l.3 .0l.3 .6l.3 .2l.3 1.3l.3 .3l.3-.1l.3 .1l.3 .5l.3 1.5l.3 .0l.3 .3l.3 .4l.3 .3l.3 .9l.3-.7l.3 .0l.3-.4l.3-.1l.3-.9l.3 .6l.3-.5l.3-.3l.3-.6l.3-.4l.3 .1l.3 .3l.3 .0l.3 .1l.3-.2l.3-.5l.3 .0l.3-.2l.3-.5l.3 .0l.3 .1l.3-.4l.3-.6l.3 .0l.3 .5l.3-.7l.3-.7l.3-.7l.3 .0l.3-1.7l.3-.2l.3 .1l.3-1.1l.3 .2l.3-.5l.3-1.0l.3-.5l.3-1.4l.3-.5l.3 .5l.3-1.4l.3 .2l.3-1.1l.3-.4l.3-1.0l.3-2.3l.3-.7l.3-.4l.3-1.2l.3-1.3l.3-.1l.3-.9l.3-1.5l.3-.6l.3 .2l.3-.9l.3-.3l.3-.3l.3-1.6l.3-2.3l.3-2.0l.3-.8l.3-.4l.3-1.0l.3-1.0l.3-1.7l.3-1.0l.3-1.6l.3-1.4l.3-1.8l.3-.9l.3 .1l.3-.4l.3-.3l.3 1.1l.3 .0l.3 2.4l.3-.2l.3-1.4l.3 .2l.3-.3l.3-1.1l.3 .6l.3-1.1l.3-2.7l.3 1.4l.3-.9l.3 .7l.3-1.7l.3-1.9l.3 .8l.3-2.1l.3-.6l.3 .5l.3-1.3l.3-1.3l.3-1.1l.3-.4l.3-2.1l.3-.4l.3-.8l.3 .9l.3-2.5l.3-2.5l.3-.4l.3-1.8l.3-.9l.3-1.1l.3 .0l.3-2.3l.3-1.3l.3-3.9l.3-1.3l.3 2.9l.3-.6l.3-.4l.3-.7l.3 1.5l.3 .6l.3-1.0l.3 1.3l.3 .5l.3 1.0l.3-.9l.3 2.0l.3 .0l.3-.5l.3-.8l.3-.2l.3 1.1l.3-.4l.3 1.1l.3 .3l.3 1.0l.3 .2l.3-.8l.3-2.4l.3 .7l.3 1.2l.3 .0l.3 .6l.3-.7l.3-.3l.3-.8l.3 2.0l.3-2.7l.3-5.0l.3-5.6l.3-3.7l.3-1.8l.3-3.8l.3-5.5l.3-2.1l.3 .2l.3-.8l.3-1.1l.3-.5l.3-1.7l.3-1.0l.3-3.3l.3 .9l.3-1.6l.3 1.2l.3-5.6l.3 .2l.3 .0l.3-2.2l.3-.5l.3-.5l.3-1.1l.3-3.3l.3-2.3l.3-.3l.3-.3l.3-2.6l.3-2.5l.3-2.0l.3-.5l.3-4.5l.3-4.0l.3-.8l.3-3.2l.3-2.0l.3-.5l.3-.3l.3-3.6l.3 2.1l.3-2.1l.3 3.2l.3-1.4l.3-.1l.3 3.7l.3 .9l.3 .3l.3 1.0l.3 2.8l.3 1.2l.3 1.6l.3 4.1l.3 .2l.3 1.2l.3 1.4l.3 4.3l.3 1.1l.3 1.0l.3-1.4l.3-1.2l.3 .8l.3-1.7l.3 .8l.3 .3l.3-2.3l.3-.5l.3-.4l.3 2.7l.3 3.1l.3-2.5l.3-1.4l.3-4.9l.3 1.0l.3 .3l.3-1.7l.3 2.0l.3-2.7l.3 .4l.3 .8l.3-1.8l.3 2.2l.3 1.7l.3-2.3l.3 .0l.3 3.9l.3 2.1l.3 .1l.3 2.3l.3 2.2l.3 2.1l.3 3.5l.3 2.2l.3 4.2l.3 2.7l.3 1.4l.3 2.1l.3 2.3l.3 1.1l.3-1.5l.3 1.9l.3 .4l.3 2.6l.3 .0l.3 .9l.3 .6l.3 2.5l.3 .0l.3-.2l.3 .8l.3 1.5l.3 3.5l.3 3.2l.3 3.5l.3 5.4l.3 2.0l.3 3.0l.3 2.9l.3 3.9l.3 .1l.3-2.6l.3-1.8l.3-1.2l.3-2.1l.3-2.6l.3-2.8l.3-1.0l.3-.2l.3-2.2l.3-2.3l.3-2.0l.3-2.4l.3 1.5l.3 1.5l.3 2.1l.3 1.7l.3 .3l.3 3.4l.3 3.4l.3 .6l.3 1.7l.3 1.6l.3 2.1l.3-.1l.3 4.2l.3 1.5l.3 3.4l.3 1.9l.3 1.7l.3 2.1l.3 3.1l.3 1.4l.3 .0l.3 .1l.3-1.0l.3 2.0l.3 .8l.3 .1l.3 1.2l.3-1.0l.3 .3l.3 1.7l.3 .6l.3-2.1l.3-2.0l.3 .5l.3 2.1l.3 .3l.3 .8l.3 1.4l.3 .1l.3 1.0l.3 1.4l.3 .9l.3 .7l.3-.1l.3 1.0l.3 .1l.3 1.6l.3 2.2l.3-.8l.3-1.2l.3 .6l.3 1.2l.3 1.5l.3 1.3l.3-.3l.3 .2l.3 1.7l.3-.2l.3 1.4l.3 .4l.3 1.1l.3 1.0l.3 .9l.3 .8l.3-.3l.3 .8l.3 .6l.3 .8l.3 1.3l.3 .2l.3 .1l.3 .3l.3 .7l.3 1.3l.3 .2l.3 1.5l.3-.2l.3-.4l.3-1.0l.3 .2l.3 .2l.3-1.2l.3 .7l.3 .7l.3-.4l.3-.2l.3 .8l.3-.1l.3-1.4l.3-.4l.3-.5l.3-.3l.3-1.6l.3 .8l.3-.4l.3 .1l.3-.2l.3 .4l.3-.5l.3-.6l.3 .0l.3 .3l.3-1.0l.3 .3l.3-.7l.3-1.1l.3 .3l.3-1.3l.3 .1l.3-1.1l.3-.2l.3-1.3l.3-.8l.3 .5l.3-.4l.3-.5l.3-.8l.3-.1l.3-1.4l.3-.9l.3-.2l.3-.7l.3-.4l.3 .0l.3-.1l.3-.3l.3 1.0l.3 .1l.3 .0l.3-.9l.3-1.0l.3-1.5l.3-.3l.3-1.6l.3 .0l.3 .8l.3 1.0l.3 .1l.3-1.3l.3-.1l.3-1.1l.3 .3l.3-.6l.3 .3l.3 1.2l.3-.4l.3 .6l.3-1.4l.3-1.1l.3 .5l.3 .7l.3-1.4l.3-.4l.3-1.4l.3-.1l.3 .1l.3-1.0l.3-1.2l.3-1.9l.3 .0l.3 .1l.3-.4l.3-.9l.3-2.1l.3 .9l.3-1.2l.3-1.2l.3-.3l.3-3.0l.3-.3l.3-.6l.3-.1l.3 .5l.3-.7l.3-2.9l.3-.9l.3-.3l.3-.4l.3-2.0l.3-2.0l.3 .6l.3 .0l.3-.7l.3-2.5l.3 1.7l.3-4.0l.3-.2l.3 2.0l.3-1.2l.3-.7l.3-2.2l.3 2.9l.3-.4l.3 1.8l.3 1.3l.3 .1l.3 2.5l.3-.3l.3 .9l.3 1.7l.3 1.1l.3 1.9l.3 2.0l.3-.3l.3-.8l.3-.7l.3-.3l.3 .7l.3-.7l.3 .1l.3-.5l.3-1.2l.3 .8l.3-1.4l.3-.1l.3 1.3l.3-1.8l.3-.2l.3-1.8l.3-.3l.3-1.2l.3 .2l.3-.1l.3 .3l.3 1.6l.3-.4l.3 .0l.3-.7l.3-.8l.3-1.2l.3-1.9l.3 .6l.3 1.8l.3-.2l.3-1.2l.3 1.9l.3-.9l.3-.6l.3-.9l.3-.3l.3 .7l.3 2.7l.3-.4l.3-.9l.3-.2l.3 .4l.3-1.1l.3 1.1l.3 1.4l.3 .6l.3 .8l.3-1.3l.3-1.1l.3 2.3l.3 1.4l.3-1.6l.3 .8l.3 .3l.3 .9l.3 .3l.3-.4l.3 .4l.3 .4l.3 .1l.3-1.5l.3-2.0l.3 .8l.3-.3l.3 1.6l.3 1.4l.3 .5l.3-.2l.3 .3l.3 1.2l.3-.9l.3 1.0l.3 .4l.3-.1l.3 1.0l.3-1.3l.3 .7l.3-1.3l.3-.7l.3-.7l.3 .9l.3-.7l.3 .5l.3-.7l.3 1.6l.3 1.7l.3-.3l.3 1.1l.3-.3l.3 1.4l.3-1.1l.3-2.2l.3 1.4l.3-.5l.3-1.2l.3-.2l.3-.6l.3 1.2l.3 .1l.3 2.5l.3 1.1l.3-1.2l.3-.4l.3 .8l.3-.5l.3 1.4l.3 1.2l.3 .4l.3 .6l.3 1.5l.3 1.9l.3 1.6l.3 .0l.3 .8l.3-.6l.3 .8l.3-.4l.3 1.3l.3-.6l.3 .1l.3 1.1l.3 1.3l.3-.5l.3 .6l.3 1.1l.3 .9l.3 .1l.3 .9l.3 .6l.3 1.7l.3 .8l.3-.9l.3-1.6l.3 .4l.3 1.2l.3-.1l.3 .4l.3-.8l.3-1.1l.3 .6l.3 .0l.3 .3l.3-1.3l.3 .2l.3-.5l.3 .6l.3-.7l.3-.5l.3-.3l.3 1.0l.3-.3l.3-.9l.3-.8l.3-.6l.3 1.4l.3-1.6l.3-.4l.3 .8l.3 .9l.3-.5l.3 .0l.3-.2l.3 .0l.3-.9l.3 .4l.3-1.1l.3 .3l.3-2.1l.3 .1l.3-1.9l.3-1.6l.3 .4l.3-1.0l.3 .1l.3-1.2l.3 1.2l.3-.6l.3-1.5l.3-.1l.3 .4l.3-1.3l.3 .1l.3 1.2l.3-.4l.3-1.2l.3-1.4l.3-.1l.3-1.8l.3-2.1l.3 .8l.3 .4l.3 2.7l.3 .5l.3-.6l.3-.4l.3 1.3l.3-.2l.3 .2l.3 .6l.3 .7l.3 .5l.3 .5l.3 1.4l.3 1.5l.3-1.9l.3 2.5l.3-.4l.3 .7l.3-1.0l.3 .3l.3 .2l.3 .1l.3 .8l.3 .4l.3-.9l.3 .2l.3 .9l.3 .5l.3-.6l.3-.5l.3-.2l.3-1.0l.3-.8l.3 1.8l.3-.5l.3 .0l.3-.7l.3 1.2l.3 1.1l.3-1.0l.3 .0l.3-1.2l.3 1.3l.3 .1l.3-1.4l.3 .8l.3-.3l.3-.1l.3-.3l.3-1.0l.3-.6l.3 .6l.3-.3l.3-1.0l.3 1.8l.3-.7l.3-.8l.3-.6l.3 1.0l.3 .9l.3 .1l.3 .6l.3-1.5l.3 .0l.3 .0l.3 .4l.3 .8l.3-1.5l.3 3.3l.3-1.0l.3 .4l.3 .7l.3 .6l.3-.1l.3-2.5l.3-.2l.3 1.5l.3-.3l.3-.2l.3-1.2l.3 2.2l.3 .9l.3-.4l.3 .4l.3 .4l.3-.6l.3 .4l.3 .8l.3 .6l.3 1.1l.3-.2l.3-.4l.3 .4l.3-.4l.3-.7l.3 1.5l.3-.3l.3 .4l.3 .7l.3-.9l.3 .8l.3 .5l.3-.2l.3 .4l.3-.6l.3-1.4l.3 .6l.3 .0l.3 1.4l.3 .5l.3-.3l.3 .4l.3 1.2l.3 .7l.3 .0l.3 .0l.3-.5l.3-.1l.3 .5l.3-.1l.3 .2l.3-.8l.3-.9l.3-.5l.3 .6l.3 1.7l.3 1.1l.3-.8l.3-.9l.3 1.2l.3 .6l.3-.9l.3 1.2l.3 .3l.3 1.0l.3 .1l.3 .4l.3 .0l.3-.9l.3 .0l.3-.2l.3 1.0l.3-.6l.3-.7l.3 1.2l.3 1.1l.3 1.0l.3 .5l.3-1.4l.3-.3l.3 .0l.3 .4l.3-1.2l.3 .8l.3 .8l.3-.3l.3 .7l.3 1.2l.3 .0l.3 .8l.3 .6l.3 .0l.3 .1l.3-.4l.3 .9l.3-.5l.3-.5l.3 .7l.3-.4l.3 .6l.3 .8l.3-.1l.3 .1l.3 .6l.3 .3l.3-1.1l.3-.5l.3 1.4l.3 .4l.3-1.6l.3-.8l.3 .2l.3-.6l.3 .5l.3-.1l.3 .2l.3-1.1l.3 .3l.3 1.0l.3-1.3l.3 .5l.3 .0l.3-.4l.3-.8l.3-1.4l.3-.8l.3 .5l.3 .4l.3 .3l.3 .0l.3-.2l.3-1.1l.3-1.4l.3-.1l.3 .1l.3-.4l.3-1.6l.3-.3l.3-1.1l.3 .6l.3-.3l.3 .6l.3 .7l.3 .4l.3 1.1l.3-1.0l.3-1.4l.3 1.4l.3 1.3l.3 .9l.3-.2l.3 .0l.3-.2l.3-1.0l.3-.2l.3 .7l.3-.3l.3 1.6l.3-1.3l.3-.1l.3 1.0l.3-.4l.3-.6l.3-.5l.3 .1l.3 1.7l.3 .4l.3 .4l.3-.5l.3 .7l.3 .0l.3-.7l.3-.1l.3 .4l.3 .9l.3-.1l.3 .3l.3 1.3l.3-1.1l.3-.9l.3 1.0l.3 .3l.3-.2l.3 .2l.3-.2l.3 .4l.3-.1l.3 .5l.3-.8l.3-.3l.3 .5l.3 .0l.3 .8l.3 .0l.3-.3l.3 .4l.3-.2l.3-.8l.3-.2l.3 .1l.3 .4l.3 .6l.3 1.0l.3 .5l.3 1.1l.3 .4l.3-.6l.3 .8l.3 .2l.3-.9l.3 .0l.3 .5l.3-.2l.3 .4l.3 .0l.3 .2l.3-.6l.3 .2l.3-.3l.3 .5l.3-1.2l.3 .5l.3 1.0l.3 .3l.3-.2l.3 .2l.3-.7l.3-.4l.3 .1l.3 .2l.3 1.0l.3-.6l.3 .8l.3-1.0l.3-.2l.3 .4l.3 1.1l.3-.4l.3-1.2l.3 1.0l.3 .3l.3-.4l.3-.2l.3 .1l.3 .6l.3 .7l.3-.8l.3 1.8l.3-.2l.3-.3l.3 .4l.3 .1l.3 1.3l.3 .2l.3-.7l.3-.4l.3-.3l.3-.3l.3-.2l.3-1.2l.3 .3l.3-1.0l.3-1.0l.3-.1l.3-2.3l.3-1.0l.3 .1l.3-.6l.3-.6l.3-.5l.3-1.2l.3-.7l.3-1.6l.3-1.6l.3 .9l.3-1.2l.3-.9l.3 .7l.3 .0l.3-1.4l.3-1.2l.3-.6l.3-1.4l.3 .9l.3 .3l.3 .1l.3 .7l.3 .5l.3 1.2l.3 .6l.3-2.0l.3 .7l.3-1.0l.3-.9l.3 1.1l.3-.3l.3 .2l.3 1.2l.3-.5l.3-.5l.3 .7l.3 1.2l.3 .4l.3-1.4l.3-.1l.3 .3l.3 1.8l.3 .6l.3 .3l.3 .5l.3-.7l.3 .1l.3 .2l.3-.9l.3 .1l.3 .6l.3-.8l.3 .9l.3 .6l.3 .7l.3-.9l.3 .2l.3 1.1l.3 .3l.3-.6l.3 .7l.3 1.5l.3 .1l.3 .7l.3 2.1l.3-.1l.3 .0l.3-.4l.3 .3l.3 1.7l.3 .3l.3-.2l.3 .2l.3 .9l.3 1.4l.3 .1l.3 1.1l.3 .3l.3 .5l.3 .2l.3 .1l.3-.6l.3-.2l.3 .2l.3-1.0l.3 .2l.3 .4l.3 .4l.3-.3l.3-.4l.3 .0l.3-.6l.3-.1l.3 .2l.3 .1l.3-.8l.3-.1l.3-1.2l.3 .9l.3-.1l.3 .3l.3-.6l.3 .1l.3 .4l.3 .6l.3-1.1l.3 .6l.3-.3l.3-.6l.3 .4l.3-.3l.3-.2l.3-.4l.3 .2l.3 .1l.3-.1l.3-.6l.3-.2l.3 .4l.3 .9l.3-.4l.3 .7l.3-.5l.3-1.1l.3 .4l.3-.9l.3 .4l.3 .6l.3-.5l.3-.3l.3 1.4l.3-.5l.3-.3l.3 .3l.3-.4l.3-.2l.3 .2l.3-1.7l.3 1.5l.3-.7l.3-.4l.3 .8l.3 .3l.3-.7l.3 .5l.3-.4l.3 .0l.3-.5l.3 .1l.3 .9l.3 .5l.3 .5l.3 .7l.3-.1l.3-.4l.3 .0l.3 1.2l.3-.2l.3 .1l.3-.1l.3 .2l.3 .2l.3-.1l.3-.1l.3-.4l.3-.3l.3 .6l.3 .6l.3 .6l.3-.2l.3-.7l.3 .6l.3 .3l.3-1.0l.3 .7l.3 .4l.3 .9l.3-1.1l.3-.7l.3 .8l.3-1.1l.3 .0l.3-.2l.3-.1l.3-.6l.3 .7l.3 1.2l.3 .6l.3 .3l.3-.3l.3 1.0l.3 .1l.3 .4l.3-1.4l.3 .3l.3-.8l.3 .5l.3 .2l.3-.7l.3 .4l.3 .8l.3 .1l.3 .2l.3-.8l.3-.4l.3-.5l.3 .4l.3 1.0l.3 .1l.3-.2l.3-.8l.3 .5l.3-.1l.3-1.1l.3-.6l.3 .4l.3 .0l.3 1.5l.3 .0l.3-.7l.3 .0l.3 1.2l.3-.8l.3 .6l.3 .1l.3 .8l.3-.1l.3-.7l.3 .2l.3-.1l.3 .4l.3-.3l.3 1.0l.3-.6l.3-.1l.3-.7l.3 .0l.3 .0l.3 .1l.3 .5l.3-.6l.3-.5l.3 .8l.3-.4l.3-.5l.3 .7l.3 .1l.3-2.0l.3 .1l.3 .6l.3 .5l.3-.6l.3 .8l.3-.9l.3-.3l.3 .0l.3-.2l.3 .4l.3 .3l.3-.5l.3 .6l.3-1.0l.3-.4l.3 .9l.3-.4l.3 .2l.3-.8l.3-.4l.3-.3l.3 .0l.3-.4l.3-.1l.3 .3l.3 .5l.3-.4l.3 .0l.3 .2l.3-1.2l.3-1.1l.3 1.3l.3 .5l.3-.4l.3-.2l.3-1.0l.3-.9l.3 .5l.3-1.0l.3 .9l.3-.5l.3 .3l.3 1.2l.3 .8l.3-1.0l.3 .2l.3-1.8l.3-1.3l.3-.5l.3 .1l.3-1.5l.3-.6l.3-1.0l.3-1.8l.3-.7l.3 .5l.3-1.3l.3-1.1l.3-.9l.3-2.3l.3-.4l.3-.5l.3-.6l.3-1.1l.3-2.8l.3-2.2l.3-2.1l.3-2.0l.3-1.7l.3 .2l.3 .0l.3-2.4l.3-.6l.3-2.9l.3-1.4l.3-2.1l.3-1.9l.3 1.1l.3 .8l.3 .1l.3-.1l.3-.3l.3 .6l.3 .1l.3 .9l.3-.9l.3 1.0l.3 1.0l.3 1.3l.3 .8l.3-.3l.3-1.0l.3-1.7l.3 .9l.3 1.9l.3 1.5l.3-3.1l.3 .0l.3 .3l.3-.4l.3 1.0l.3-.5l.3-1.5l.3-1.0l.3-2.8l.3-1.6l.3-1.4l.3 .4l.3-2.7l.3-.8l.3 .2l.3-1.3l.3-.4l.3-2.4l.3-.7l.3-.4l.3 .9l.3-1.6l.3-.7l.3-2.6l.3-2.1l.3 .1l.3-1.7l.3-.5l.3-1.5l.3 1.2l.3 1.0l.3-3.7l.3 .9l.3-1.3l.3-1.0l.3-1.6l.3 .0l.3-2.6l.3-1.3l.3-1.1l.3 .5l.3 1.1l.3 .3l.3-.5l.3-1.8l.3-1.5l.3 3.0l.3 2.0l.3 2.2l.3 3.3l.3 .7l.3 .9l.3-1.4l.3 3.2l.3 1.8l.3 1.0l.3 2.4l.3 .6l.3 1.4l.3 4.3l.3 1.9l.3 2.0l.3 1.7l.3 1.8l.3 1.5l.3 3.8l.3 .8l.3 2.0l.3 1.1l.3 1.4l.3-.4l.3 1.0l.3 4.4l.3 3.4l.3 1.4l.3 1.9l.3 2.5l.3 1.1l.3 2.6l.3-1.9l.3-1.2l.3-2.7l.3 1.4l.3-.5l.3 .7l.3-1.9l.3-.3l.3-.7l.3-.5l.3 .9l.3 .5l.3-.5l.3-2.1l.3-.4l.3-.1l.3-.9l.3-.9l.3-.7l.3-1.9l.3-.5l.3 .7l.3-2.0l.3-.6l.3 .2l.3-2.2l.3-.5l.3-1.9l.3-.5l.3-1.2l.3-.5l.3-.2l.3 .0l.3-.2l.3-2.4l.3 2.1l.3-.3l.3-.7l.3-.1l.3 .9l.3-.6l.3 .3l.3 .1l.3 1.1l.3-.4l.3 .9l.3 .5l.3 .0l.3 1.3l.3-.3l.3-1.2l.3 .6l.3 .3l.3 .1l.3 1.1l.3 3.4l.3 .7l.3 1.2l.3 .5l.3 2.1l.3 .7l.3 .2l.3 .3l.3 2.1l.3 2.0l.3-.2l.3 1.1l.3 2.3l.3 2.2l.3-.5l.3-.3l.3 .6l.3-.7l.3-.5l.3-.5l.3-1.0l.3 .3l.3 .3l.3-1.2l.3 .3l.3 .9l.3-.2l.3 .3l.3-1.0l.3 .7l.3-1.3l.3 1.2l.3-1.2l.3-1.1l.3-.9l.3-.3l.3-.3l.3-.5l.3-.2l.3 .7l.3 .5l.3-.8l.3 .7l.3-1.5l.3-1.0l.3-.9l.3 .8l.3-1.4l.3-.5l.3 1.8l.3 1.7l.3 .7l.3-1.8l.3 .0l.3 .8l.3-.1l.3-1.5l.3 .1l.3-1.1l.3-.2l.3 2.7l.3 .5l.3-1.5l.3-1.0l.3 1.1l.3-.2l.3 .9l.3-.5l.3 .1l.3 .5l.3-.8l.3-1.3l.3-.1l.3 .3l.3 .7l.3 .5l.3 .4l.3 .7l.3-.6l.3 1.4l.3 1.4l.3-.4l.3-.5l.3 .4l.3-.2l.3-.5l.3-.7l.3-1.0l.3-1.0l.3 .9l.3 1.0l.3-1.3l.3 .0l.3 .2l.3-.5l.3-.5l.3-.2l.3-1.5l.3 .6l.3 .2l.3 2.1l.3 .4l.3-.9l.3-.3l.3 1.2l.3 .7l.3-.9l.3-.7l.3-1.8l.3-.1l.3 .0l.3-.6l.3 1.7l.3-2.0l.3 .2l.3 .5l.3 .3l.3 1.2l.3-1.9l.3-.7l.3 .2l.3 .0l.3-.4l.3-.6l.3 1.1l.3-1.2l.3-.3l.3 1.5l.3 1.2l.3 .0l.3-1.6l.3-1.0l.3-.8l.3-.7l.3 .0l.3 1.5l.3 .0l.3-.9l.3-.7l.3-.8l.3 1.5l.3-1.8l.3 .7l.3-1.0l.3-.5l.3-.7l.3 1.8l.3 .1l.3 2.6l.3-1.7l.3-1.3l.3 .7l.3 .4l.3-.6l.3-1.9l.3 1.8l.3 .4l.3 .0l.3-.9l.3 .5l.3-.7l.3 .0l.3-.2l.3 1.1l.3-.8l.3-.5l.3 1.0l.3-.2l.3-.3l.3-.5l.3 .7l.3-1.1l.3 .5l.3 1.6l.3-.4l.3-1.4l.3-1.4l.3 .3l.3-1.0l.3-1.2l.3 .1l.3-.3l.3 1.6l.3-1.2l.3 2.0l.3-.8l.3 .2l.3 .7l.3-.1l.3 .4l.3-1.3l.3-2.2l.3 .5l.3-1.1l.3 .4l.3 1.5l.3-.2l.3-.5l.3-.9l.3 .2l.3 .1l.3-1.2l.3 .8l.3-.8l.3 .7l.3-.3l.3 1.2l.3 .5l.3-.5l.3-.5l.3 .2l.3 .9l.3 .3l.3-.8l.3-.4l.3 .9l.3-2.5l.3 .4l.3-1.2l.3 1.4l.3-1.0l.3-.3l.3-1.2l.3 .3l.3 .7l.3 1.4l.3-2.0l.3-.5l.3 3.8l.3-.5l.3-1.2l.3-.4l.3-3.4l.3 2.0l.3-.3l.3-1.9l.3 1.3l.3-1.0l.3-1.2l.3 .9l.3 .2l.3-.7l.3-.2l.3-1.4l.3-1.2l.3 1.6l.3 1.3l.3-.1l.3-.3l.3-1.0l.3-.4l.3-1.3l.3 1.9l.3-1.3l.3 .2l.3-.3l.3-1.9l.3 2.2l.3-.9l.3-1.2l.3 .2l.3-1.1l.3 .2l.3-1.1l.3 .8l.3-.1l.3-1.7l.3 1.4l.3-.1l.3-1.5l.3 .4l.3 .2l.3 1.7l.3-2.1l.3 .5l.3-.8l.3 .1l.3-1.0l.3-.5l.3 .2l.3-1.9l.3-2.3l.3 .7l.3-.2l.3 .5l.3 .7l.3-.5l.3 1.2l.3-.8l.3-.5l.3 .4l.3-.1l.3-1.0l.3-.4l.3-1.4l.3-.8l.3 .2l.3 .9l.3-1.0l.3 .6l.3 1.7l.3 1.5l.3-1.4l.3 .4l.3-.2l.3 .1l.3 .1l.3-.2l.3 .3l.3-.5l.3-.9l.3 .2l.3 .4l.3 1.2l.3-.2l.3 .3l.3 1.1l.3-2.0l.3-1.6l.3-.3l.3-1.2l.3-2.2l.3 .6l.3-1.2l.3-2.3l.3 1.8l.3-3.1l.3-.7l.3 .6l.3 1.9l.3 2.2l.3 .2l.3 1.5l.3 1.3l.3 .1l.3 2.0l.3 .2l.3-.3l.3-.5l.3 .1l.3 .6l.3-.2l.3 1.8l.3-3.1l.3-1.4l.3 1.3l.3-.9l.3 1.4l.3 .4l.3 1.7l.3 .9l.3 1.7l.3 .7l.3 .9l.3-.2l.3 .5l.3-.2l.3-1.4l.3-1.6l.3-.8l.3 1.3l.3-2.2l.3 1.4l.3 .1l.3 1.6l.3 .5l.3-.7l.3 .5l.3-2.2l.3 1.5l.3 1.2l.3-1.6l.3 1.9l.3 .2l.3 .5l.3-1.3l.3 1.3l.3 1.0l.3 .0l.3-1.0l.3 1.3l.3 1.4l.3 .2l.3 .7l.3-1.1l.3 .2l.3 .3l.3 .2l.3 2.9l.3-.6l.3-1.3l.3 .7l.3-1.5l.3 .6l.3 .9l.3-.7l.3-.1l.3-.8l.3 .9l.3-.3l.3 2.4l.3 .6l.3-.5l.3-1.4l.3 2.7l.3 1.1l.3-.1l.3-.2l.3-.1l.3-.7l.3 2.1l.3-.2l.3-1.8l.3-.3l.3-2.0l.3 2.0l.3 1.6l.3 2.0l.3 1.8l.3-1.7l.3 .3l.3 .7l.3 .4l.3-.9l.3 .6l.3 .2l.3 .9l.3-.6l.3-.6l.3-.6l.3-.2l.3-.6l.3 .1l.3 1.0l.3 .6l.3 1.3l.3 .6l.3 .0l.3-1.7l.3 .6l.3 1.0l.3-1.7l.3-.8l.3-.4l.3-.3l.3 .5l.3-.3l.3 1.2l.3-.8l.3 .7l.3 .0l.3-.4l.3 1.7l.3 .2l.3 .7l.3-.4l.3 .8l.3 .4l.3-.3l.3-1.6l.3 1.5l.3 1.0l.3 .2l.3 .2l.3 .2l.3 .2l.3-.8l.3 .5l.3 .7l.3-.2l.3-.4l.3 2.4l.3 .5l.3-.4l.3-.3l.3-2.1l.3-.8l.3 .3l.3 1.6l.3-2.3l.3-.4l.3 2.0l.3 .0l.3-.4l.3 .4l.3-1.2l.3-.9l.3 .0l.3 .1l.3-1.9l.3 1.1l.3-2.6l.3-.9l.3 3.0l.3-1.7l.3-.1l.3-1.9l.3-.7l.3-1.0l.3-.5l.3 .5l.3 1.3l.3-.2l.3 .2l.3-2.2l.3 .3l.3-1.0l.3 .0l.3-2.1l.3-1.4l.3 .5l.3-.7l.3-1.2l.3-1.9l.3-.8l.3-.2l.3 .0l.3-1.8l.3-1.1l.3-.1l.3-2.2l.3 .8l.3-.9l.3-.1l.3-2.6l.3-.8l.3 .2l.3 .7l.3-.1l.3 1.7l.3 .7l.3 .1l.3-1.8l.3 2.7l.3-.1l.3 1.1l.3-.8l.3 .3l.3 1.0l.3 .2l.3 1.1l.3-.7l.3 2.1l.3-3.0l.3-.4l.3 1.5l.3-.4l.3-.4l.3-1.8l.3 2.3l.3-2.0l.3 1.5l.3 .7l.3 1.2l.3 1.5l.3-1.4l.3-1.1l.3-.3l.3-1.8l.3 1.6l.3-.2l.3 .4l.3-1.3l.3 .4l.3-.4l.3 .3l.3-1.1l.3 1.7l.3-.9l.3-2.7l.3 1.6l.3 .1l.3-.7l.3 3.4l.3-.8l.3-1.9l.3-.6l.3 .9l.3-.3l.3 1.6l.3 .7l.3-1.7l.3-.2l.3 .5l.3-.9l.3-.7l.3 1.1l.3 .1l.3-2.0l.3-.4l.3-.2l.3 .2l.3-.5l.3 1.9l.3-1.4l.3-1.2l.3 .9l.3-2.2l.3 .0l.3 2.0l.3-.7l.3-.1l.3 2.3l.3 .8l.3 .2l.3 .3l.3-.8l.3 .6l.3-.1l.3 3.0l.3-.2l.3-1.1l.3-.3l.3-.1l.3-1.8l.3-.8l.3 2.0l.3-2.1l.3-.6l.3 1.3l.3 1.4l.3-2.1l.3 1.4l.3-1.2l.3 1.4l.3-.6l.3-1.3l.3 .3l.3-.2l.3-1.8l.3 2.1l.3-1.6l.3 .7l.3-1.7l.3-2.9l.3-1.0l.3 .4l.3 1.2l.3 1.9l.3-.9l.3-1.2l.3-1.3l.3 1.1l.3 1.4l.3-1.8l.3 3.2l.3 2.2l.3 3.0l.3-1.5l.3 .5l.3 .4l.3-1.0l.3 .1l.3 .2l.3 2.1l.3 1.6l.3 2.1l.3-.2l.3-1.0l.3 1.7l.3 1.2l.3 1.3l.3 1.8l.3-.6l.3 1.4l.3-.7l.3 1.0l.3 1.4l.3-.9l.3-.5l.3-2.1l.3-.9l.3 .1l.3-1.6l.3-.9l.3 2.7l.3-.8l.3-1.9l.3-1.7l.3 1.3l.3-3.9l.3-.1l.3 .8l.3-1.0l.3 .3l.3-1.8l.3-.2l.3-.3l.3-.5l.3-.3l.3-.4l.3 .7l.3-1.4l.3-1.4l.3-.9l.3-.7l.3-2.1l.3-2.0l.3-.9l.3 1.2l.3-.5l.3-.3l.3 3.6l.3 .1l.3-1.8l.3-2.0l.3 1.1l.3-2.1l.3 .9l.3-.4l.3 .6l.3-2.4l.3 .3l.3-3.4l.3-.3l.3 1.2l.3 .2l.3-3.4l.3 1.4l.3 .5l.3-.4l.3-1.2l.3-.2l.3-.5l.3 1.6l.3 .3l.3 1.0l.3 .2l.3-2.6l.3 .2l.3 2.6l.3-2.5l.3 .2l.3-1.3l.3-1.1l.3 .8l.3 1.5l.3 .7l.3 .0l.3 .7l.3-3.1l.3 1.2l.3 .2l.3-.7l.3-.2l.3-1.5l.3 1.7l.3-1.4l.3-1.9l.3 .6l.3-.3l.3 .4l.3 2.4l.3-.8l.3-.1l.3 2.8l.3-3.1l.3 .3l.3 1.3l.3 1.2l.3 1.8l.3-3.0l.3-.4l.3-1.4l.3-1.5l.3-1.4l.3-2.1l.3 .9l.3 1.0l.3-1.9l.3 1.1l.3-1.2l.3-1.7l.3-3.3l.3 2.9l.3 1.1l.3-.6l.3-.8l.3-1.9l.3 1.2l.3-.2l.3 .6l.3-.4l.3-2.5l.3-2.1l.3 1.3l.3-2.2l.3 1.2l.3 1.5l.3-2.2l.3 1.2l.3-.3l.3 .4l.3-1.6l.3-.2l.3 .4l.3 2.0l.3-.5l.3-.6l.3-3.3l.3 .2l.3-1.6l.3-.2l.3 .1l.3 .9l.3-.1l.3-.9l.3-1.0l.3 1.4l.3-2.8l.3-.5l.3 1.6l.3-1.5l.3 .6l.3 .6l.3 3.2l.3 1.2l.3-3.3l.3 .9l.3 1.3l.3 2.0l.3 1.0l.3 3.3l.3 1.3l.3-2.0l.3-.2l.3-1.7l.3 4.8l.3-.2l.3-.1l.3-2.2l.3 .5l.3 1.5l.3-.1l.3 .1l.3-.3l.3 3.5l.3-1.2l.3-2.1l.3 .0l.3 .4l.3 .7l.3 .2l.3-1.0l.3 .7l.3 1.4l.3-1.7l.3 3.9l.3 2.0l.3-3.4l.3-.1l.3 1.9l.3 1.8l.3 1.7l.3-3.7l.3-1.5l.3-.1l.3 1.5l.3-1.2l.3 1.4l.3 1.1l.3 1.1l.3-2.0l.3 .8l.3 .4l.3-.3l.3 2.3l.3-.6l.3 2.0l.3-1.4l.3 2.4l.3 1.5l.3-2.4l.3 .2l.3 .2l.3-1.6l.3 1.5l.3 .7l.3-1.4l.3 .5l.3 1.4l.3-.5l.3-.9l.3 2.6l.3-1.7l.3 .7l.3 1.7l.3 .7l.3-2.9l.3 .1l.3 .5l.3 .2l.3 1.4l.3 .8l.3 .1l.3 .3l.3 1.2l.3 1.2l.3-3.1l.3 3.3l.3-1.4l.3 .9l.3-2.4l.3-.1l.3-1.1l.3 2.4l.3 1.6l.3-.2l.3-.2l.3 .6l.3-1.3l.3-.3l.3-.4l.3 1.9l.3 .2l.3-1.5l.3 1.1l.3 1.0l.3 1.8l.3-1.3l.3 .4l.3 2.4l.3-1.5l.3-.8l.3 .6l.3-.9l.3 .2l.3-.5l.3-.7l.3 1.6l.3-.4l.3-1.0l.3 .3l.3 .5l.3 .9l.3 1.5l.3 1.8l.3-2.3l.3-.3l.3-2.1l.3 1.3l.3 1.3l.3-.6l.3-.8l.3-.5l.3-.8l.3 2.1l.3 2.9l.3-1.7l.3 2.3l.3-.5l.3-1.8l.3 1.2l.3 1.0l.3 .3l.3-.5l.3 1.9l.3-1.0l.3 .6l.3 .3l.3-1.4l.3-2.1l.3-1.1l.3 1.0l.3 1.7l.3-1.4l.3 .5l.3 3.0l.3-1.8l.3 1.5l.3 1.0l.3 1.2l.3-1.7l.3 1.3l.3-1.2l.3 2.5l.3-.8l.3 1.0l.3-.6l.3 .8l.3-1.3l.3 1.2l.3 1.4l.3 .3l.3 2.1l.3 .2l.3 .6l.3 .2l.3 1.7l.3-1.6l.3-1.0l.3-.6l.3 .5l.3-.1l.3 .6l.3-.3l.3-1.1l.3-.3l.3 .4l.3-2.9l.3 2.2l.3-.8l.3-.4l.3 .4l.3-.4l.3-1.5l.3 .2l.3 2.0l.3 .8l.3 .9l.3-1.6l.3-.7l.3 1.0l.3 1.0l.3-1.0l.3-1.9l.3-2.3l.3 2.3l.3-1.9l.3 .9l.3 1.1l.3 3.5l.3-1.3l.3-.9l.3 .1l.3 .2l.3 1.2l.3 .1l.3-1.5l.3-2.4l.3 1.3l.3-.3l.3 2.4l.3-1.6l.3 .9l.3-.5l.3-.4l.3 2.8l.3 .2l.3-.3l.3 1.0l.3-1.1l.3-.1l.3-.2l.3 2.8l.3 .1l.3 .4l.3 1.0l.3-.8l.3-.4l.3-1.7l.3 1.2l.3 .7l.3-.3l.3 1.8l.3-2.1l.3 1.4l.3-.7l.3 .0l.3 1.2l.3 2.7l.3-.7l.3-.1l.3-.1l.3 3.6l.3 .9l.3 .7l.3 2.4l.3-.2l.3-2.2l.3 .4l.3-.2l.3 3.3l.3-1.1l.3 1.2l.3 .2l.3 .4l.3 .9l.3 .6l.3 .1l.3-.2l.3 .6l.3 .1l.3-.3l.3 .3l.3-.3l.3 .2l.3-.8l.3 1.3l.3-1.9l.3-1.8l.3 .8l.3-1.5l.3-.4l.3 .4l.3-1.0l.3-1.1l.3 .4l.3-.6l.3-1.5l.3-2.0l.3-.6l.3-1.9l.3-.7l.3-.8l.3 .6l.3 .7l.3-1.3l.3-.8l.3-1.5l.3-1.5l.3-.1l.3 .9l.3 .2l.3 .3l.3-.4l.3-3.0l.3 2.2l.3 1.9l.3 .9l.3 .5l.3 .6l.3 2.3l.3-1.2l.3 .6l.3-.3l.3-.4l.3-1.1l.3-.9l.3-1.4l.3 1.0l.3-.3l.3-1.2l.3-.1l.3-.6l.3 2.8l.3-.2l.3 .4l.3-1.3l.3-.6l.3 2.0l.3-.1l.3 .6l.3 2.1l.3 1.6l.3-.3l.3-.4l.3-.5l.3-.9l.3 2.1l.3-2.2l.3-.1l.3-2.1l.3-.6l.3 1.5l.3 1.0l.3 .7l.3-.4l.3-.5l.3-.2l.3 .2l.3 1.7l.3 1.5l.3 .0l.3-1.1l.3-1.0l.3 .7l.3-.2l.3-1.6l.3 2.3l.3 .0l.3-.2l.3-.8l.3-.5l.3 1.7l.3-.8l.3 .5l.3 1.0l.3 2.0l.3 .0l.3-.8l.3-.8l.3 .8l.3 .7l.3-.9l.3 .4l.3-.5l.3-1.8l.3-.4l.3 1.6l.3 1.7l.3 .3l.3-.6l.3-.9l.3 .7l.3 .3l.3-1.9l.3 1.3l.3-.7l.3 1.2l.3 .6l.3 .7l.3 .8l.3 .1l.3-1.7l.3-1.0l.3 1.5l.3 .4l.3-1.8l.3-1.5l.3 1.9l.3 2.7l.3 .4l.3-.8l.3 .0l.3-3.0l.3-.1l.3 1.9l.3 1.1l.3-2.2l.3 2.0l.3 .7l.3 1.0l.3-.6l.3-.2l.3-1.2l.3 .7l.3 1.1l.3-1.2l.3 .6l.3-.4l.3 1.3l.3 .8l.3-2.8l.3 1.1l.3 1.3l.3-.8l.3 .0l.3 .1l.3-.8l.3 .6l.3 2.2l.3 .3l.3 1.4l.3 .6l.3 .6l.3-.6l.3 .3l.3 1.6l.3 .5l.3-.6l.3-1.4l.3-1.0l.3 .5l.3 .7l.3-1.7l.3 1.0l.3 .9l.3 .7l.3-.4l.3 2.6l.3 .4l.3-1.7l.3-.4l.3 1.2l.3 .6l.3 .2l.3 .0l.3-.1l.3-.3l.3-.5l.3 1.2l.3-2.2l.3 .5l.3 1.8l.3-.8l.3-.9l.3 2.2l.3 .5l.3-.7l.3-1.0l.3-.4l.3-.4l.3-.2l.3-.7l.3 .7l.3-.6l.3-1.7l.3-.6l.3 .7l.3-.6l.3-1.9l.3 2.5l.3 .6l.3-.6l.3-.5l.3 .6l.3 1.2l.3-1.2l.3 .1l.3-1.0l.3 .2l.3-1.3l.3-1.6l.3 .8l.3 .3l.3 .9l.3-.8l.3 1.4l.3-.5l.3 1.1l.3-1.2l.3 .9l.3-.9l.3-.5l.3 .4l.3-2.5l.3-1.0l.3 2.1l.3-1.9l.3-.3l.3 .8l.3 1.4l.3-1.2l.3 .0l.3-1.2l.3-.1l.3 1.4l.3 .2l.3-.1l.3 .3l.3 .0l.3 .0l.3-.5l.3-.9l.3 1.0l.3-1.1l.3 1.4l.3 2.1l.3 .7l.3 1.3l.3-2.3l.3-.3l.3-1.3l.3-.7l.3-1.4l.3-.3l.3 1.8l.3 1.0l.3 1.1l.3 .7l.3 .2l.3-1.4l.3-.2l.3 .9l.3 1.1l.3-.7l.3-.6l.3-.1l.3 2.0l.3 .4l.3-.6l.3-.7l.3 .8l.3-1.4l.3 .6l.3 .1l.3 .2l.3 .9l.3 .9l.3 3.1l.3-.6l.3 .2l.3-1.1l.3-1.4l.3 1.7l.3 2.0l.3-1.3l.3 .1l.3 1.1l.3 .0l.3-2.2l.3-4.4l.3-6.1l.3-5.2l.3-5.3l.3 1.5l.3 1.2l.3-1.2l.3 .7l.3-.8l.3-.2l.3-.5l.3 .2l.3-.1l.3 2.1l.3-.1l.3-1.0l.3 2.2l.3 .6l.3 .9l.3-.5l.3 .7l.3-.4l.3-1.1l.3 .5l.3 .4l.3 .4l.3 1.1l.3-2.0l.3 .8l.3-.7l.3 .2l.3 .9l.3 .3l.3-.7l.3 1.1l.3-.1l.3 1.0l.3 1.0l.3-1.0l.3-1.5l.3 .3l.3 1.0l.3 .2l.3-1.5l.3-1.4l.3-.2l.3-.1l.3 1.7l.3 .5l.3 1.2l.3-.3l.3 1.7l.3-.7l.3 .2l.3-.9l.3 .4l.3 .8l.3 .3l.3 .8l.3-1.4l.3 .1l.3 1.4l.3-.6l.3-.9l.3-.8l.3-.8l.3 .2l.3 1.4l.3-.1l.3-.7l.3-1.3l.3-1.2l.3 2.9l.3-1.2l.3-.2l.3-.8l.3 .2l.3-.7l.3 .2l.3 1.4l.3-1.4l.3 .4l.3-.3l.3 .5l.3-1.3l.3 .4l.3-1.3l.3-1.8l.3-.6l.3-.2l.3-.3l.3 .7l.3 2.0l.3-1.2l.3 .9l.3 .1l.3-.7l.3-.7l.3 1.0l.3 .7l.3-.3l.3 .0l.3 .1l.3-1.3l.3 .6l.3 .6l.3 2.0l.3-1.9l.3-.8l.3 .4l.3-.5l.3 .0l.3 .3l.3 .0l.3 .3l.3 .6l.3-1.7l.3 1.2l.3-2.2l.3 2.8l.3 .9l.3-1.0l.3 1.0l.3-.5l.3 .3" stroke="#a55d2e"/>
<path d="M44.5 431.0l.3-.1l.3 .1l.3 .0l.3-.6l.3-.1l.3-.3l.3 .0l.3-.7l.3 .2l.3 .1l.3 .6l.3-.2l.3-.1l.3-.8l.3 .8l.3-1.1l.3 .4l.3-.3l.3-.5l.3-.3l.3-.2l.3 .3l.3 .2l.3 .7l.3-.7l.3 .3l.3-.1l.3 .5l.3-.6l.3 .3l.3 .4l.3-.3l.3 .8l.3 .2l.3 .6l.3 .4l.3-.5l.3-.1l.3 .1l.3 .5l.3 .4l.3-.3l.3-.1l.3-.1l.3 .1l.3 .2l.3 .2l.3 1.0l.3-.3l.3 .0l.3 .3l.3-.3l.3 .1l.3 .2l.3 .4l.3-.4l.3 .8l.3-.1l.3 .1l.3 .5l.3 .2l.3 .3l.3 .0l.3-.1l.3 .1l.3-.3l.3 .6l.3-.3l.3-.3l.3 1.0l.3-.1l.3-.4l.3 .9l.3-.1l.3 .4l.3-.4l.3 .0l.3-.5l.3-.5l.3-.1l.3 .2l.3 .4l.3 .8l.3-.8l.3 .2l.3-.5l.3-.2l.3-.7l.3-.5l.3-.1l.3-.2l.3 .2l.3-.2l.3 .5l.3-.1l.3-.1l.3 .2l.3-.1l.3-.3l.3-.3l.3-.3l.3 .3l.3 .2l.3 .0l.3 .2l.3-.3l.3 .2l.3-.5l.3 .6l.3 .0l.3 .1l.3 .2l.3-.1l.3-.1l.3 .5l.3-.1l.3-.4l.3 .3l.3-.6l.3 .8l.3 .0l.3 .0l.3 .9l.3 .5l.3-.4l.3 .0l.3 .2l.3 .3l.3-.4l.3-.1l.3 .3l.3-.1l.3 .1l.3 .1l.3-.6l.3-.3l.3-.7l.3 .3l.3 .7l.3-.5l.3 .5l.3 .2l.3-.3l.3-.2l.3-.1l.3-.5l.3-.2l.3 .0l.3 .1l.3 .1l.3-.5l.3 .2l.3-.5l.3-.2l.3 .1l.3-.2l.3-.2l.3 .0l.3-.3l.3-.3l.3-.1l.3 .4l.3-.2l.3 .5l.3-.3l.3-1.4l.3-.1l.3 .7l.3-.2l.3-.3l.3-.5l.3 .5l.3 .2l.3-.1l.3-.2l.3 .2l.3-.1l.3-.9l.3 .1l.3-.1l.3-.2l.3 .2l.3-.1l.3-1.3l.3 .9l.3 .4l.3-.2l.3-.3l.3 .1l.3-.6l.3 .2l.3-.1l.3-.1l.3-.3l.3-.2l.3 .6l.3 .5l.3 .0l.3-.6l.3-.9l.3-.2l.3 .2l.3-1.5l.3 .1l.3-1.5l.3-.4l.3-.1l.3-1.0l.3-.9l.3 .0l.3 .1l.3-.6l.3 .2l.3-1.1l.3 .4l.3-.4l.3-.2l.3 .0l.3-.2l.3 .6l.3 .5l.3-.5l.3-.8l.3-1.0l.3-.5l.3 .0l.3 .0l.3-.1l.3-.1l.3 .1l.3-.8l.3-.5l.3 .8l.3 .3l.3-.6l.3 .5l.3-.7l.3-.3l.3-.7l.3 1.2l.3 .4l.3 1.0l.3 .6l.3 .1l.3 .3l.3 .9l.3 .0l.3 .1l.3 .4l.3 .7l.3 .6l.3 .8l.3-.7l.3 .1l.3-.9l.3-.1l.3-.4l.3 .5l.3-.3l.3-.7l.3-.1l.3-.2l.3-.6l.3-.3l.3-.7l.3 1.3l.3-.5l.3 .1l.3-1.1l.3-.8l.3-.1l.3-.1l.3 .4l.3-.8l.3 .2l.3 .6l.3-.9l.3 .3l.3-1.1l.3-.3l.3-.4l.3 .3l.3-1.3l.3-.5l.3-.1l.3-1.5l.3-.4l.3-1.1l.3-.7l.3 .1l.3-.1l.3 .8l.3-.5l.3-.7l.3-1.6l.3-1.4l.3-.9l.3-2.5l.3 .8l.3-1.4l.3-1.4l.3-.8l.3 .1l.3 .1l.3-1.4l.3-.6l.3-1.1l.3-1.6l.3-.7l.3-1.1l.3-2.4l.3 .1l.3-2.4l.3-.6l.3-1.9l.3-1.4l.3-1.3l.3 .0l.3-2.1l.3-.8l.3 .5l.3-1.7l.3-.2l.3 .6l.3-1.0l.3 .4l.3-.9l.3 .7l.3-.3l.3-1.1l.3 1.3l.3-.5l.3-.7l.3-1.1l.3-.3l.3 .1l.3 .2l.3 1.0l.3-2.4l.3-1.1l.3 .3l.3-1.1l.3-.9l.3 .3l.3-1.4l.3-1.2l.3-1.6l.3 .4l.3-.8l.3-2.8l.3-.8l.3-2.8l.3 .2l.3-.7l.3-1.8l.3-1.9l.3-3.3l.3 .5l.3-1.1l.3-1.4l.3 .1l.3-2.2l.3-1.7l.3-1.6l.3-2.4l.3 2.2l.3-2.5l.3-2.5l.3-.7l.3-6.6l.3-.6l.3-1.0l.3-2.7l.3-.5l.3-4.7l.3 3.2l.3 3.9l.3-1.4l.3 1.0l.3 2.9l.3 2.7l.3 1.7l.3 3.0l.3 1.8l.3-.8l.3 1.4l.3-.4l.3-.8l.3-.7l.3 4.2l.3 1.5l.3 3.9l.3-1.3l.3-.4l.3-2.1l.3-3.1l.3-2.1l.3-3.0l.3-3.9l.3-6.1l.3-3.0l.3 .9l.3-1.9l.3-1.2l.3-4.9l.3-3.0l.3-4.0l.3-1.3l.3-2.2l.3-1.6l.3 .3l.3-4.6l.3 .3l.3-4.0l.3 1.5l.3-2.2l.3-.9l.3-.4l.3 2.2l.3-2.1l.3-2.7l.3-3.5l.3 .1l.3-2.5l.3-1.3l.3-.3l.3 .8l.3-2.6l.3 .6l.3 2.2l.3-5.3l.3 1.7l.3 2.3l.3-2.7l.3 1.7l.3-2.3l.3 2.3l.3 .7l.3 2.2l.3-.5l.3 .5l.3 1.4l.3 .8l.3 1.2l.3 2.1l.3 .2l.3 2.2l.3 2.9l.3-2.6l.3 3.2l.3 .8l.3 .4l.3 .3l.3 1.5l.3 1.6l.3 3.3l.3-.2l.3 2.2l.3-3.0l.3 .1l.3 .2l.3-4.5l.3 .6l.3 1.8l.3-4.2l.3-1.6l.3-2.8l.3-2.0l.3-2.5l.3-2.7l.3-.2l.3-.3l.3-2.4l.3 .7l.3-.8l.3-1.9l.3-.7l.3 5.4l.3 3.1l.3-3.8l.3 .3l.3 2.2l.3 4.7l.3 4.5l.3-.8l.3 .8l.3 1.6l.3-2.4l.3 2.1l.3-.1l.3 1.0l.3 .6l.3-1.5l.3-.5l.3 1.9l.3 1.6l.3 .6l.3 3.0l.3 .5l.3-.7l.3 1.6l.3 1.8l.3 1.7l.3 3.8l.3 1.8l.3 2.5l.3 1.3l.3 .2l.3 2.5l.3 .1l.3 1.4l.3-.5l.3 1.8l.3 2.4l.3 6.2l.3 8.0l.3 7.6l.3 2.7l.3-3.3l.3-1.8l.3-2.5l.3-3.5l.3-2.1l.3-2.3l.3-2.7l.3 .3l.3-3.0l.3-2.6l.3-.7l.3-1.9l.3 .0l.3 1.0l.3 2.9l.3 2.4l.3 1.9l.3 .7l.3 .3l.3 3.1l.3-.6l.3 1.7l.3 .2l.3 2.1l.3 3.0l.3 4.4l.3-1.2l.3 5.0l.3 1.5l.3 3.2l.3 3.4l.3 1.4l.3 .3l.3 1.0l.3 .1l.3-.5l.3 .8l.3 .5l.3-1.3l.3 2.3l.3 .4l.3-2.4l.3 .2l.3 2.8l.3 1.9l.3-.1l.3-2.0l.3 .3l.3 2.2l.3 .9l.3 .2l.3 .0l.3 1.7l.3 .4l.3 1.1l.3 1.1l.3 2.0l.3 .3l.3 .4l.3-1.2l.3 2.0l.3 1.3l.3 .4l.3-1.5l.3 1.1l.3 1.6l.3 3.2l.3 1.1l.3 1.2l.3 1.2l.3 1.5l.3-.6l.3 .1l.3 .2l.3 1.2l.3 1.1l.3 1.6l.3 .7l.3 1.7l.3 .9l.3 3.1l.3 .6l.3 2.8l.3 1.1l.3-2.4l.3-.4l.3-.7l.3-2.2l.3-.3l.3-1.0l.3-.5l.3-1.4l.3-.6l.3-.4l.3-1.0l.3-1.1l.3 .0l.3-.6l.3 .6l.3-1.7l.3 1.8l.3 .2l.3 .4l.3 .5l.3-1.2l.3 1.8l.3-1.3l.3 .3l.3 .1l.3 .7l.3-.5l.3-1.3l.3-.3l.3-2.7l.3-.2l.3-.5l.3 .9l.3-1.1l.3-1.1l.3-1.2l.3-1.3l.3-.8l.3 .2l.3-1.7l.3-.5l.3-1.7l.3-.2l.3 .0l.3-1.4l.3-.5l.3 .2l.3 .5l.3 .3l.3-.9l.3-1.6l.3-1.7l.3 .8l.3 1.0l.3-.5l.3 .8l.3-1.7l.3-1.1l.3 .9l.3-2.0l.3 .0l.3-.3l.3-.6l.3 1.0l.3-2.2l.3-1.1l.3-2.5l.3-.8l.3 .0l.3 .2l.3 .2l.3 .6l.3-.6l.3-1.9l.3 .9l.3 .8l.3-1.2l.3-.4l.3 2.3l.3 .6l.3 .3l.3-.1l.3-.8l.3-1.7l.3-.2l.3-1.2l.3-1.3l.3-.7l.3-.6l.3 .3l.3-2.0l.3 2.3l.3-2.6l.3-1.4l.3 .5l.3-1.9l.3-1.1l.3-.4l.3-4.0l.3 .1l.3-.7l.3 .1l.3 .8l.3 .4l.3 1.1l.3 .5l.3-.5l.3-1.9l.3 .0l.3-2.8l.3-.9l.3 1.1l.3-.3l.3-3.3l.3-1.3l.3 .8l.3-.1l.3 .4l.3-3.8l.3-.3l.3 1.4l.3 .4l.3 1.8l.3 1.8l.3 1.9l.3 .9l.3 1.8l.3 1.8l.3 .8l.3-.8l.3 2.8l.3 .9l.3 1.2l.3 .8l.3-1.1l.3 .7l.3-1.7l.3-2.0l.3 1.2l.3-1.4l.3-.6l.3 .1l.3 .5l.3-4.1l.3-1.8l.3 .3l.3-1.8l.3-4.8l.3 .9l.3 .3l.3 .6l.3-.6l.3-1.8l.3-.6l.3-1.0l.3-1.7l.3-.4l.3-.4l.3-2.4l.3 .9l.3-.1l.3-.4l.3-5.6l.3 1.4l.3 .6l.3-.7l.3 2.0l.3-1.5l.3 3.1l.3 .7l.3-.6l.3 2.4l.3 .5l.3 .2l.3-2.0l.3 1.4l.3 2.2l.3 1.2l.3-2.4l.3 2.2l.3 2.0l.3 .3l.3-1.2l.3-2.2l.3-.6l.3 .3l.3 1.4l.3 1.4l.3-.7l.3-1.5l.3 .8l.3-.5l.3 3.2l.3-1.1l.3 1.6l.3 1.3l.3-1.8l.3 1.3l.3-.8l.3-1.4l.3-1.2l.3 .5l.3 1.4l.3-3.0l.3 1.2l.3-.3l.3-1.1l.3 .0l.3 .0l.3-.1l.3 1.0l.3-1.8l.3 2.5l.3 .1l.3-2.0l.3-3.3l.3 .4l.3-.3l.3 1.2l.3 .7l.3 2.0l.3-1.7l.3 .2l.3-1.7l.3-1.1l.3 1.7l.3-1.2l.3-.6l.3-.1l.3 1.1l.3 1.4l.3 .1l.3-1.2l.3 1.6l.3-.4l.3 .7l.3 1.5l.3 1.2l.3-2.5l.3 4.0l.3 1.6l.3 2.8l.3 2.8l.3-2.4l.3-.8l.3 .6l.3 1.6l.3-.6l.3 .1l.3 2.0l.3-.9l.3 1.1l.3 1.9l.3-.2l.3 1.4l.3 .1l.3-1.5l.3 .5l.3 1.0l.3 .7l.3 1.1l.3 1.4l.3 1.0l.3 .4l.3-1.1l.3-.8l.3-.8l.3-1.0l.3 1.5l.3-3.1l.3 .3l.3-2.2l.3-.5l.3 1.3l.3-.7l.3 1.5l.3-2.1l.3-.8l.3-1.0l.3-.2l.3-.6l.3-.7l.3-.1l.3 1.1l.3-.8l.3-.8l.3-1.1l.3-1.4l.3-2.2l.3-1.0l.3 .5l.3-2.3l.3 1.4l.3-.7l.3-1.5l.3-.6l.3 .9l.3-.1l.3-.3l.3 1.5l.3 1.6l.3-4.1l.3 .2l.3-2.5l.3-2.8l.3-.8l.3 1.4l.3-1.2l.3-1.2l.3 1.7l.3-.5l.3-1.3l.3 1.6l.3-1.1l.3-2.6l.3-2.5l.3-.9l.3 .0l.3 1.0l.3 .7l.3 .0l.3-1.8l.3 2.1l.3 .3l.3-1.4l.3-1.0l.3 1.5l.3 1.5l.3 1.7l.3-1.6l.3 3.7l.3-3.0l.3 .8l.3 2.6l.3 1.6l.3-1.8l.3 1.4l.3 1.8l.3 .6l.3-1.8l.3 2.7l.3-2.7l.3 .7l.3-.8l.3 .4l.3 .5l.3 1.7l.3-1.1l.3 1.4l.3 2.3l.3-.5l.3 .3l.3-.2l.3-1.8l.3-.7l.3 .2l.3 .7l.3 2.4l.3 1.0l.3-2.3l.3-1.6l.3-1.8l.3-3.1l.3 2.9l.3 .6l.3-3.0l.3 .6l.3 3.7l.3-.3l.3-.2l.3-.6l.3-1.9l.3-1.8l.3-.8l.3 .8l.3-.1l.3 1.3l.3 2.2l.3-.2l.3 .3l.3-1.1l.3-1.8l.3 3.9l.3 .6l.3 1.2l.3-1.4l.3-2.6l.3 2.7l.3-2.9l.3 1.0l.3 .2l.3 1.4l.3 1.9l.3 1.3l.3-2.9l.3 2.5l.3-2.2l.3 2.2l.3 .1l.3-.9l.3 .5l.3-.6l.3 1.4l.3 2.4l.3 1.5l.3 .0l.3 1.6l.3 .4l.3 2.5l.3-.4l.3-1.8l.3-.7l.3-1.1l.3 .0l.3 .3l.3 1.3l.3 1.0l.3-.2l.3 .3l.3-1.1l.3-.5l.3-2.8l.3 .4l.3 .7l.3 4.4l.3-2.1l.3 .6l.3-.2l.3-1.7l.3 1.4l.3 .7l.3-1.4l.3-2.0l.3 1.7l.3-.6l.3 2.3l.3 .4l.3 1.4l.3-.3l.3 2.3l.3 .4l.3 1.4l.3-.8l.3-1.9l.3-1.7l.3 .2l.3 1.1l.3-.4l.3 3.7l.3-.7l.3 .6l.3 .0l.3-1.5l.3 2.0l.3 .9l.3 1.1l.3-1.4l.3 .4l.3 .3l.3 1.8l.3-1.7l.3 1.4l.3 1.8l.3-.8l.3-.8l.3 2.2l.3 .3l.3 1.3l.3 .6l.3 .9l.3-.7l.3-2.5l.3 1.6l.3-.2l.3 1.4l.3-.2l.3 2.4l.3-.4l.3 1.1l.3 1.2l.3-.5l.3 .4l.3 .0l.3-.9l.3 2.2l.3-1.0l.3-1.1l.3 .5l.3 1.2l.3 .7l.3 .3l.3 .2l.3-1.5l.3 2.0l.3 2.7l.3-.7l.3-1.5l.3 1.9l.3 .4l.3-3.5l.3 1.1l.3-.3l.3-.3l.3 2.9l.3 .8l.3-.8l.3-.5l.3 1.2l.3-2.1l.3 .3l.3-1.4l.3 .6l.3-.4l.3-1.5l.3 .9l.3-.2l.3 1.1l.3-1.8l.3-.7l.3-1.4l.3 1.0l.3-1.7l.3-.5l.3 1.2l.3-.3l.3-.6l.3-.6l.3-.4l.3-.1l.3-1.2l.3-3.0l.3 2.0l.3-1.2l.3 2.5l.3 .0l.3 3.2l.3-.1l.3-.9l.3 .0l.3-2.6l.3 .2l.3-.6l.3 .1l.3-2.2l.3-1.5l.3 2.3l.3 .8l.3-.1l.3 .4l.3-.3l.3-.1l.3 1.4l.3-.2l.3 1.0l.3-.9l.3-1.9l.3 .2l.3 .7l.3-.6l.3 .5l.3 .2l.3 1.9l.3 1.2l.3 1.2l.3-1.2l.3 .5l.3 1.5l.3-.1l.3-.2l.3-.9l.3 1.3l.3 .2l.3 1.1l.3-.5l.3 2.3l.3-.7l.3-1.7l.3 .7l.3 .7l.3 1.5l.3-.8l.3-.5l.3 .1l.3 .0l.3-1.7l.3 2.1l.3 1.9l.3-.7l.3-.6l.3 .5l.3-.3l.3 1.4l.3-.4l.3 1.1l.3-1.2l.3-.8l.3-.7l.3-.2l.3 1.8l.3 1.6l.3 .5l.3 .4l.3-2.1l.3 2.0l.3-1.0l.3 2.0l.3 2.5l.3-.7l.3 .2l.3 .1l.3-1.7l.3-.9l.3-.1l.3 .9l.3 1.2l.3 .2l.3 1.1l.3-.7l.3-1.3l.3 .5l.3 .4l.3-1.0l.3 1.8l.3-.7l.3-.2l.3 .8l.3-.6l.3 1.3l.3 .7l.3 .6l.3 .0l.3-.4l.3-.4l.3 .8l.3 1.5l.3 .5l.3 .0l.3 .7l.3 .8l.3-1.8l.3 .0l.3 1.2l.3-.8l.3-.4l.3 .9l.3-.2l.3 1.3l.3-.5l.3 .6l.3 1.9l.3-.7l.3-3.0l.3-1.9l.3-1.5l.3-.3l.3-1.7l.3 .5l.3 1.1l.3 .4l.3-2.3l.3-1.4l.3-1.1l.3-1.6l.3 1.4l.3-1.8l.3-2.0l.3 .0l.3-.2l.3 .8l.3 .3l.3-1.9l.3-3.5l.3 .5l.3 .1l.3 .9l.3-2.5l.3-1.2l.3 2.3l.3 1.5l.3 .8l.3-1.0l.3 .8l.3-1.5l.3-1.7l.3 .3l.3 .3l.3 1.1l.3 1.0l.3-2.5l.3 .8l.3 .7l.3-1.4l.3 .2l.3 .4l.3 .8l.3-.8l.3-.3l.3-.7l.3 1.1l.3 .1l.3-.2l.3 1.1l.3 .0l.3-1.1l.3 1.8l.3 1.0l.3 .1l.3-1.5l.3 1.4l.3-1.0l.3-1.9l.3 .6l.3 2.6l.3-.8l.3 .7l.3 1.2l.3-.7l.3-1.3l.3-.6l.3 .1l.3-1.3l.3-.1l.3 .0l.3-1.2l.3 .3l.3-.2l.3-1.2l.3-.8l.3-.3l.3-.2l.3 .9l.3 .1l.3 1.8l.3 2.2l.3 1.8l.3 .0l.3 1.9l.3 1.7l.3-.1l.3 1.3l.3-.4l.3-.5l.3 .1l.3-.4l.3-2.4l.3 .9l.3-.9l.3 .4l.3 1.0l.3-.4l.3-.6l.3 .2l.3 .5l.3-1.1l.3-.6l.3 .6l.3 1.6l.3-.8l.3 .3l.3-1.4l.3-.3l.3-.1l.3-1.6l.3 .3l.3-.1l.3-2.5l.3 .8l.3 .8l.3 .5l.3 .3l.3-1.3l.3-.5l.3 .1l.3-.6l.3-.1l.3 1.7l.3-1.2l.3-.3l.3 2.1l.3-.8l.3-1.5l.3 .3l.3 .0l.3 .0l.3-1.9l.3 .6l.3 .6l.3 2.0l.3-.1l.3-1.3l.3 .0l.3 .4l.3-.6l.3-.3l.3 1.4l.3-.1l.3-.1l.3-1.5l.3 .4l.3-2.2l.3 1.9l.3-.5l.3 .8l.3 1.3l.3-1.7l.3 1.2l.3-.2l.3 .9l.3-1.1l.3-1.1l.3 1.5l.3 .0l.3-.3l.3-1.6l.3 1.7l.3-.7l.3-.4l.3-.6l.3 .3l.3 .8l.3-.2l.3-.1l.3-.7l.3 1.9l.3 1.2l.3-1.2l.3-1.4l.3 .4l.3-1.9l.3 .9l.3 .6l.3 .2l.3 1.7l.3 1.3l.3-.6l.3-1.3l.3 .7l.3 .6l.3-2.2l.3-.9l.3-.1l.3-1.6l.3-.4l.3 2.7l.3-1.4l.3 1.3l.3-.9l.3 1.3l.3 .2l.3 .8l.3-1.8l.3 .7l.3-.4l.3 1.3l.3 .7l.3 .0l.3-.3l.3 .0l.3 .3l.3-.5l.3-.2l.3-.3l.3-.5l.3 1.9l.3-1.1l.3 2.0l.3 .7l.3-1.9l.3-1.2l.3 1.0l.3-.3l.3 1.0l.3 1.5l.3 .5l.3-.2l.3 .0l.3 1.7l.3-.7l.3 1.6l.3 1.4l.3-1.8l.3-.7l.3 1.0l.3-2.0l.3-.1l.3 .5l.3-2.0l.3 .1l.3-.2l.3-1.0l.3 1.5l.3-1.0l.3 1.8l.3-.5l.3-1.9l.3-.3l.3-1.4l.3 .7l.3 .2l.3-1.9l.3-.5l.3 .5l.3-.3l.3-1.4l.3 1.2l.3 1.1l.3-2.6l.3 1.5l.3-3.0l.3 .0l.3-.7l.3-.4l.3 .5l.3-1.4l.3 .2l.3 2.0l.3-.2l.3 1.0l.3-.2l.3-3.0l.3 1.7l.3 .1l.3-.4l.3-1.6l.3-1.3l.3-1.5l.3-.1l.3 .1l.3-.3l.3-.3l.3-2.4l.3-.2l.3-.4l.3 1.0l.3-.4l.3-.4l.3 .3l.3-.6l.3-.3l.3 1.4l.3-.7l.3-1.8l.3 .2l.3 .2l.3-.4l.3-2.9l.3 .6l.3-.9l.3-.9l.3-.8l.3-.3l.3-.5l.3 .7l.3-1.3l.3-1.7l.3-.3l.3-1.5l.3 .3l.3-1.2l.3-.4l.3-2.1l.3 .3l.3-.6l.3-2.6l.3-1.3l.3-.5l.3-2.6l.3-1.7l.3 .8l.3 .4l.3 1.2l.3-3.4l.3-1.0l.3-2.9l.3 3.5l.3-2.4l.3 .0l.3 3.1l.3 1.2l.3-2.7l.3 2.8l.3-1.0l.3-3.0l.3-.1l.3 .4l.3 .1l.3-4.2l.3 3.2l.3-3.3l.3-.2l.3 2.3l.3-.2l.3-.9l.3-1.5l.3 .8l.3 1.5l.3-1.9l.3 .0l.3-1.2l.3-1.7l.3-5.0l.3-.3l.3 .1l.3-2.4l.3-.2l.3-2.3l.3-.4l.3-2.8l.3-3.5l.3-3.5l.3-2.6l.3-2.2l.3-4.5l.3-2.6l.3-5.0l.3-4.2l.3 .1l.3-1.4l.3-.8l.3-2.5l.3-1.3l.3 2.1l.3-4.8l.3-1.3l.3 1.5l.3 1.4l.3-2.7l.3-3.5l.3-5.1l.3-1.7l.3-.9l.3-1.4l.3-.3l.3-3.8l.3-6.5l.3-7.0l.3-4.9l.3-3.0l.3-.4l.3-9.8l.3 .3l.3-4.4l.3-.1l.3 1.0l.3-4.1l.3-8.2l.3-1.5l.3 2.7l.3 .4l.3 1.5l.3-.3l.3 1.6l.3 .6l.3 11.0l.3 8.3l.3 9.0l.3 2.9l.3 7.4l.3 5.3l.3 6.3l.3 5.3l.3 5.8l.3 10.4l.3-2.8l.3-4.6l.3-1.9l.3 3.3l.3-1.6l.3-5.2l.3-2.1l.3 .1l.3 .3l.3-3.8l.3-.6l.3 1.1l.3-2.5l.3 1.6l.3 1.6l.3 2.4l.3 4.8l.3 7.0l.3 8.1l.3 9.0l.3 9.1l.3 7.2l.3 6.2l.3 2.5l.3-.5l.3-2.0l.3-1.2l.3 .4l.3-3.6l.3-3.1l.3-3.6l.3-.6l.3 .0l.3-3.1l.3 1.3l.3-3.9l.3-1.7l.3-2.4l.3 .4l.3-3.9l.3 .9l.3-3.3l.3-5.0l.3-1.6l.3-.2l.3 3.1l.3-2.3l.3-.8l.3 3.4l.3-1.8l.3-2.8l.3-2.3l.3-3.3l.3 1.4l.3 2.6l.3-1.5l.3-2.4l.3 .7l.3-.1l.3-.5l.3 .6l.3-.4l.3-1.2l.3 1.9l.3-4.8l.3-1.8l.3 .5l.3-2.0l.3 4.3l.3-4.7l.3 6.3l.3 4.9l.3 3.9l.3 3.8l.3 1.9l.3 2.0l.3 6.5l.3 2.6l.3 .8l.3 2.3l.3 2.2l.3 5.7l.3 6.2l.3 1.3l.3 1.2l.3 .0l.3 2.5l.3 1.8l.3 1.6l.3 2.5l.3-2.5l.3 1.7l.3-2.2l.3 .9l.3-.4l.3-.7l.3-.9l.3-2.4l.3-2.8l.3-.2l.3-2.8l.3-.2l.3-3.1l.3 .1l.3-.1l.3-1.8l.3-.7l.3 1.6l.3-.6l.3 .2l.3-1.8l.3-.2l.3-2.8l.3-.9l.3 2.6l.3 .4l.3-.6l.3 .3l.3-2.2l.3 1.6l.3-1.5l.3-.2l.3 2.5l.3-.7l.3 .1l.3 .7l.3 1.0l.3 2.7l.3-3.1l.3 .1l.3 2.0l.3-.3l.3 .0l.3-.3l.3 .7l.3 2.0l.3 2.6l.3 .3l.3 2.0l.3-.5l.3-2.9l.3 2.0l.3-2.8l.3 .8l.3 .3l.3-1.6l.3 .4l.3-.5l.3 .7l.3-.3l.3 1.0l.3-.9l.3 .9l.3-.5l.3-.1l.3-.2l.3-1.3l.3 1.6l.3 .1l.3-4.5l.3-1.4l.3 3.6l.3-.8l.3 4.2l.3-1.2l.3-.8l.3-2.1l.3-1.2l.3-.2l.3 1.0l.3-.9l.3-.9l.3-2.3l.3-.8l.3-.6l.3 .1l.3-1.2l.3-1.4l.3 .2l.3-3.7l.3-.7l.3 .5l.3 2.1l.3-.6l.3-1.2l.3 2.0l.3-.3l.3 2.3l.3-1.4l.3-1.9l.3-.7l.3 3.0l.3 1.6l.3-1.5l.3 .4l.3-3.9l.3 1.8l.3-.5l.3-1.2l.3-.6l.3-.1l.3-1.4l.3-.9l.3-2.1l.3 3.4l.3-2.3l.3-.2l.3 1.7l.3 1.4l.3 1.2l.3-3.0l.3-1.8l.3-.6l.3-3.2l.3 3.0l.3-2.3l.3 1.3l.3 2.6l.3 1.9l.3-.9l.3 1.8l.3 1.6l.3-3.5l.3 .2l.3 1.9l.3 1.0l.3-.4l.3 .1l.3 4.2l.3-1.7l.3 1.5l.3-2.7l.3 1.3l.3 2.0l.3-1.1l.3-1.0l.3 3.7l.3-.9l.3 1.6l.3-2.9l.3 2.9l.3-4.3l.3-1.0l.3-.2l.3 .6l.3 .9l.3 2.7l.3 2.5l.3 1.3l.3-1.1l.3-1.8l.3-4.9l.3-.2l.3-.8l.3 1.3l.3-2.0l.3-1.0l.3-.6l.3 1.9l.3 .4l.3-1.9l.3-2.4l.3 .2l.3 .0l.3 .0l.3 1.1l.3 1.9l.3 1.9l.3-1.2l.3-.8l.3 3.5l.3-.6l.3 1.4l.3 .2l.3 .6l.3 2.6l.3-1.1l.3 1.8l.3 .3l.3-.7l.3-.9l.3-.5l.3 2.6l.3 1.4l.3-1.8l.3 1.0l.3-2.8l.3 1.3l.3 4.3l.3-2.4l.3 1.0l.3-.6l.3 .9l.3-1.6l.3 .7l.3-3.7l.3 .8l.3 .3l.3 .5l.3 3.7l.3-2.9l.3-1.1l.3-2.0l.3 1.6l.3 .2l.3-1.9l.3 1.9l.3 .1l.3 1.8l.3 .0l.3-1.2l.3-2.3l.3-4.0l.3 .1l.3 2.7l.3-.5l.3-1.5l.3 .7l.3 1.3l.3 4.2l.3-3.7l.3-1.5l.3-2.3l.3-1.0l.3 2.2l.3-.5l.3-2.8l.3 2.9l.3 2.7l.3-.2l.3-3.2l.3-2.3l.3 2.4l.3-2.4l.3-1.1l.3-2.2l.3 4.4l.3-1.6l.3-.3l.3-1.2l.3-.9l.3-1.4l.3 3.1l.3-1.2l.3 2.9l.3-2.9l.3 1.0l.3 1.6l.3-2.9l.3 .5l.3-1.1l.3-1.6l.3-.1l.3-2.4l.3 1.0l.3-1.7l.3 2.8l.3 3.3l.3 1.8l.3-2.5l.3-.7l.3 3.2l.3 .8l.3-.5l.3-5.4l.3-.3l.3 4.4l.3-.5l.3-2.0l.3-.2l.3 4.7l.3 1.3l.3-3.7l.3-2.0l.3 1.0l.3 3.1l.3-1.4l.3-.4l.3-3.5l.3 1.4l.3 3.2l.3 2.2l.3-2.0l.3 2.0l.3-1.9l.3-2.5l.3 1.6l.3-2.8l.3-.2l.3-1.0l.3 .5l.3 .7l.3-.8l.3-1.5l.3-.6l.3-4.0l.3 1.2l.3 4.8l.3-.2l.3 1.0l.3 1.8l.3 2.0l.3 3.2l.3 3.3l.3 3.1l.3 .6l.3 1.5l.3-3.3l.3 1.8l.3-.9l.3-1.4l.3-2.8l.3 .9l.3 1.2l.3-.3l.3 .6l.3-3.3l.3 .5l.3-1.6l.3-6.0l.3 2.3l.3-.7l.3 1.2l.3 .1l.3-.2l.3 3.4l.3-.5l.3 1.2l.3 1.7l.3-.5l.3-1.7l.3 1.4l.3 .7l.3-.6l.3 1.4l.3 3.1l.3 1.5l.3 2.0l.3 1.0l.3-1.2l.3-.9l.3-2.4l.3 2.4l.3-1.4l.3 1.0l.3 2.8l.3-.8l.3-3.1l.3-1.0l.3 .4l.3 3.2l.3-.5l.3 .1l.3-1.5l.3 1.4l.3 .8l.3 1.9l.3-1.0l.3 2.3l.3-1.5l.3 .5l.3 .9l.3 1.5l.3 2.1l.3-2.6l.3 2.2l.3 1.3l.3-.4l.3 1.7l.3 2.7l.3 .0l.3-.1l.3 1.8l.3-1.0l.3 2.2l.3 .5l.3 .3l.3 .6l.3 1.4l.3-1.9l.3 1.6l.3-1.8l.3 .6l.3 .8l.3 .1l.3-1.8l.3-1.3l.3-.5l.3 1.2l.3 1.2l.3 1.5l.3-1.9l.3 1.6l.3 2.2l.3 .3l.3 .1l.3 1.3l.3 2.2l.3 1.4l.3 1.0l.3-3.3l.3 1.9l.3-1.2l.3 1.1l.3-1.3l.3 .7l.3-.8l.3 .0l.3 3.3l.3-2.1l.3 1.8l.3 .0l.3-1.5l.3 2.6l.3-.1l.3-.6l.3 .9l.3-.9l.3 3.1l.3-2.2l.3 .0l.3-1.8l.3 1.9l.3 2.2l.3 1.7l.3 2.0l.3-.6l.3-.8l.3 1.4l.3-.9l.3 .5l.3-.6l.3-.8l.3 .2l.3 1.4l.3 .6l.3-.7l.3-4.2l.3 .5l.3 .8l.3 .7l.3-1.4l.3 1.3l.3-.1l.3-3.2l.3 1.4l.3 2.0l.3-.6l.3-2.0l.3 2.2l.3 .1l.3-3.9l.3 1.4l.3-.5l.3-.8l.3-3.7l.3-2.5l.3 .6l.3 2.5l.3-1.1l.3-1.1l.3-2.0l.3-1.2l.3 1.0l.3-2.4l.3 2.1l.3-1.0l.3-1.3l.3-1.7l.3-2.3l.3-1.1l.3-2.9l.3 .2l.3-3.3l.3 4.1l.3-1.0l.3-3.3l.3 .5l.3-.2l.3-1.3l.3 .2l.3-1.7l.3-.4l.3-.5l.3 .5l.3-1.6l.3 .0l.3-5.3l.3 2.9l.3 .1l.3 .5l.3-1.3l.3 .8l.3-1.1l.3-.6l.3 .8l.3-.4l.3-.5l.3 2.5l.3 1.9l.3 .5l.3 2.7l.3 .2l.3 1.0l.3 1.9l.3 .8l.3-.5l.3-1.5l.3-.1l.3-.3l.3 3.0l.3-4.7l.3 6.1l.3-.4l.3 3.2l.3 .3l.3 .6l.3-2.6l.3 2.0l.3-.5l.3 .7l.3-2.0l.3 .1l.3-1.1l.3 .9l.3 1.1l.3-.6l.3 .5l.3 .3l.3-.6l.3-.9l.3-3.0l.3 2.6l.3 .3l.3-.6l.3 .4l.3-1.0l.3-.3l.3 1.0l.3-2.5l.3 .2l.3 1.0l.3-2.3l.3-.8l.3 3.2l.3 3.4l.3-.7l.3 .1l.3-2.4l.3 1.8l.3-1.0l.3-.5l.3 .3l.3-1.4l.3-1.2l.3 .3l.3-1.4l.3-.1l.3-3.2l.3 .4l.3 2.5l.3 2.7l.3 .8l.3-1.6l.3 .4l.3-1.5l.3-1.0l.3 2.4l.3-.4l.3-.4l.3 .8l.3 1.6l.3-.2l.3-.7l.3 .4l.3-.4l.3-.6l.3-3.4l.3-.1l.3 1.2l.3-.7l.3 4.1l.3 3.4l.3 1.2l.3-3.3l.3 .1l.3-.2l.3-.6l.3-3.7l.3 1.5l.3 2.1l.3-.3l.3 1.8l.3-2.9l.3-.4l.3 .5l.3-3.4l.3-1.0l.3-1.9l.3 1.3l.3-2.7l.3 .4l.3-1.1l.3 1.5l.3-1.7l.3-.5l.3 .1l.3-1.7l.3-.7l.3-.3l.3-.8l.3 .6l.3-1.5l.3 .5l.3-.2l.3-.9l.3-1.4l.3-2.3l.3 .5l.3 2.3l.3 .1l.3 3.2l.3-2.2l.3-.5l.3-2.5l.3 3.2l.3-2.3l.3 1.6l.3 .7l.3 4.4l.3 .6l.3-.5l.3-1.5l.3 2.8l.3-1.1l.3-1.8l.3 2.9l.3 .9l.3-.1l.3 2.1l.3 2.1l.3-1.3l.3 3.5l.3 4.4l.3-.5l.3-1.4l.3 1.7l.3-.5l.3 1.0l.3 .7l.3-1.4l.3 1.5l.3-4.4l.3-1.1l.3 .5l.3 .4l.3-.6l.3 .3l.3-2.7l.3-3.5l.3 2.6l.3 2.4l.3-.8l.3-2.4l.3-1.0l.3 1.2l.3-.3l.3 .7l.3 .3l.3-1.0l.3-3.6l.3-.9l.3-1.9l.3-2.4l.3-2.0l.3-2.6l.3-3.7l.3-.5l.3-3.0l.3-1.2l.3 .3l.3-.3l.3-5.8l.3-2.2l.3-2.7l.3 .3l.3-2.3l.3 1.2l.3-2.5l.3-.4l.3-1.8l.3-.7l.3 .6l.3 1.9l.3-3.7l.3 2.0l.3-1.8l.3 2.2l.3-2.3l.3 1.3l.3 4.1l.3 3.3l.3-2.8l.3 3.8l.3-1.8l.3 .0l.3 .9l.3-.1l.3 .6l.3 .2l.3 1.5l.3-.3l.3-1.4l.3-2.0l.3-1.5l.3 1.0l.3 2.3l.3 .6l.3-.8l.3 .9l.3-1.4l.3 .7l.3 .9l.3-1.0l.3 2.7l.3 1.3l.3-1.9l.3 .6l.3-.6l.3 .0l.3 .0l.3 1.9l.3-.6l.3-.5l.3 .9l.3 .6l.3 1.9l.3-3.6l.3 .5l.3-4.5l.3 .7l.3-2.1l.3-1.4l.3 1.4l.3-1.0l.3 .9l.3-4.3l.3 4.6l.3-5.1l.3 .3l.3 4.8l.3-3.3l.3 3.7l.3 1.2l.3-1.9l.3-2.0l.3-1.3l.3 .0l.3 1.3l.3 1.3l.3-6.4l.3 1.8l.3 .5l.3-3.6l.3 1.6l.3 1.0l.3 .5l.3-1.5l.3 .7l.3 1.2l.3-3.3l.3-1.8l.3-1.4l.3 2.7l.3-.7l.3-2.1l.3-2.2l.3-1.9l.3 1.8l.3 2.4l.3 2.3l.3-3.3l.3-2.1l.3-1.4l.3-.8l.3-2.0l.3 5.9l.3 3.6l.3 1.2l.3-2.6l.3 7.1l.3 4.2l.3 2.2l.3 1.8l.3-2.3l.3 1.1l.3-1.7l.3 .6l.3-.8l.3-2.7l.3-1.5l.3 3.2l.3 1.8l.3-1.1l.3-2.0l.3-.8l.3 1.3l.3-3.0l.3 2.7l.3-1.8l.3-1.9l.3 .8l.3 4.5l.3-2.6l.3-1.1l.3-2.3l.3 1.3l.3 .7l.3-.1l.3-1.0l.3 1.0l.3 1.4l.3-1.6l.3-.8l.3-1.1l.3-.9l.3 2.9l.3-2.5l.3 .8l.3 2.0l.3-1.7l.3 .9l.3 1.0l.3-4.0l.3 2.2l.3-2.8l.3 .4l.3-3.0l.3-2.3l.3 1.3l.3 4.5l.3 4.8l.3 3.6l.3-.6l.3-.7l.3-1.5l.3-1.2l.3-2.9l.3-2.2l.3 .4l.3 .2l.3-2.3l.3-2.7l.3-.7l.3 7.8l.3-3.1l.3 2.3l.3 1.1l.3 .2l.3-3.3l.3 3.3l.3-1.4l.3-2.9l.3-2.1l.3-.1l.3 4.8l.3-4.1l.3-1.5l.3 .5l.3 1.4l.3-2.4l.3-1.5l.3-.2l.3 2.5l.3-.1l.3-.3l.3 .7l.3 .2l.3 1.9l.3-2.4l.3 .1l.3-1.4l.3 1.9l.3 1.5l.3-1.2l.3 2.2l.3-1.5l.3 2.1l.3-2.4l.3-1.8l.3-3.5l.3-1.3l.3 .3l.3-3.6l.3 2.1l.3 3.1l.3 1.3l.3 .0l.3 1.0l.3-2.1l.3-1.3l.3 2.0l.3-.9l.3 1.7l.3-2.2l.3 1.1l.3 1.9l.3-1.8l.3 2.7l.3 1.4l.3-8.0l.3 6.0l.3-5.6l.3 5.5l.3-3.4l.3-4.8l.3-1.4l.3 3.1l.3-.9l.3 .5l.3 4.3l.3-1.9l.3 2.2l.3 3.2l.3-4.6l.3-1.4l.3 2.2l.3 1.1l.3 1.4l.3-3.9l.3 .1l.3 2.9l.3 2.3l.3 3.2l.3-1.3l.3-1.4l.3-1.3l.3-.7l.3-2.6l.3 6.2l.3-.2l.3-.4l.3 .4l.3 2.9l.3 1.2l.3-.8l.3 3.5l.3 1.1l.3-.1l.3 .6l.3 3.0l.3 1.3l.3-.5l.3 2.1l.3-4.5l.3 3.0l.3-1.0l.3 .0l.3 1.1l.3 5.2l.3-.4l.3 .4l.3 2.6l.3-2.6l.3 2.2l.3 3.5l.3-.2l.3 3.4l.3 .8l.3 .3l.3 5.0l.3 2.7l.3 3.7l.3 2.2l.3-2.1l.3 1.0l.3-.6l.3-.8l.3-2.3l.3-3.1l.3 1.7l.3-.5l.3-1.8l.3-3.1l.3 1.0l.3-3.8l.3-2.6l.3 3.1l.3-1.3l.3-.9l.3-1.3l.3 1.2l.3-2.7l.3-1.4l.3-3.3l.3-.4l.3-3.3l.3-.1l.3 .6l.3 1.7l.3 2.4l.3-2.4l.3-2.3l.3 1.0l.3-1.5l.3 3.8l.3 1.6l.3-3.4l.3 .0l.3 2.0l.3-2.9l.3-1.2l.3 .1l.3 2.8l.3-.1l.3-1.4l.3 .1l.3-.6l.3-.1l.3 1.4l.3 .5l.3 1.6l.3-.1l.3-.3l.3 .0l.3-2.1l.3 .8l.3 5.1l.3 .1l.3 1.3l.3 1.7l.3-1.2l.3-.4l.3 1.7l.3-1.4l.3 2.7l.3 1.6l.3 .5l.3 .7l.3 1.5l.3 .1l.3-4.4l.3 2.7l.3-.5l.3 .1l.3-.1l.3-.3l.3-2.4l.3-2.2l.3 1.7l.3 1.4l.3 1.3l.3-2.2l.3 .1l.3 1.9l.3-.9l.3-1.0l.3 3.9l.3-4.1l.3-1.2l.3-1.6l.3 .1l.3 6.5l.3-3.5l.3-.9l.3-1.2l.3-1.4l.3 1.9l.3-1.2l.3 1.9l.3 1.8l.3-2.3l.3 1.8l.3-3.7l.3 .3l.3 1.4l.3-2.8l.3 .0l.3 1.1l.3 .8l.3 .0l.3 3.2l.3-2.0l.3 1.3l.3 2.5l.3-3.5l.3-1.9l.3-2.5l.3 1.6l.3 2.3l.3-4.3l.3-1.3l.3-.4l.3 5.2l.3-1.6l.3 .5l.3-2.7l.3 2.1l.3-2.2l.3 .3l.3-1.7l.3 .6l.3 .4l.3 .9l.3 .5l.3 3.4l.3-2.6l.3 2.2l.3-.7l.3-1.2l.3-.1l.3 .0l.3 1.0l.3 .5l.3 .0l.3-.6l.3-4.0l.3 2.2l.3 1.8l.3-.2l.3-.3l.3-2.4l.3 .7l.3 1.5l.3-3.1l.3-.5l.3-.4l.3 3.5l.3-.7l.3-3.1l.3 1.8l.3 3.4l.3-.4l.3-.7l.3 .9l.3 3.3l.3-1.3l.3-.7l.3 .9l.3-1.4l.3-2.6l.3 1.8l.3 .2l.3 1.7l.3 .7l.3 1.4l.3-1.9l.3 1.4l.3-1.4l.3 1.6l.3-.2l.3 3.7l.3-2.2l.3-3.8l.3 1.9l.3 .2l.3-.7l.3 1.7l.3 3.6l.3-.7l.3-1.3l.3 3.1l.3 1.4l.3-.9l.3-1.5l.3 1.3l.3-1.5l.3-.8l.3-.8l.3 1.9l.3 3.1l.3-.4l.3 2.8l.3-4.5l.3 .5l.3-2.6l.3 2.9l.3 2.5l.3-3.4l.3-.5l.3 1.1l.3-1.8l.3 .1l.3-.2l.3 1.9l.3-.2l.3-.7l.3 .2l.3 1.3l.3 1.2l.3 .5l.3 2.7l.3-.8l.3 .1l.3 1.1l.3-.8l.3 2.5l.3 .7l.3 .6l.3-2.3l.3-.3l.3 1.1l.3 1.6l.3-1.7l.3-.9l.3-1.7l.3-1.4l.3 3.4l.3 .5l.3 1.3l.3 1.8l.3-.5l.3-.2l.3-1.8l.3-.5l.3 1.4l.3 2.6l.3 1.2l.3-1.8l.3-1.3l.3 1.5l.3 .8l.3 .7l.3 .1l.3 1.8l.3-.4l.3 1.6l.3-.2l.3-1.0l.3-2.2l.3 .8l.3 1.6l.3-.2l.3-1.7l.3-2.2l.3 1.5l.3 4.6l.3-1.2l.3 .6l.3 1.6l.3 2.6l.3-1.0l.3 1.2l.3 1.5l.3-.8l.3 2.1l.3-.4l.3 1.7l.3 2.1l.3 .8l.3-.8l.3 2.3l.3 1.8l.3 .8l.3 1.7l.3-.3l.3-.5l.3-.6l.3-.7l.3-.3l.3-3.0l.3-1.2l.3-1.3l.3-2.4l.3-4.3l.3-3.0l.3 1.5l.3-3.3l.3-2.6l.3-.7l.3 1.3l.3 3.3l.3 .7l.3-.9l.3-.5l.3 .8l.3 .0l.3-2.9l.3 2.6l.3 1.3l.3-2.4l.3-.2l.3 .9l.3 .3l.3-.8l.3 .1l.3 2.7l.3-1.6l.3 1.0l.3-.6l.3-2.5l.3 1.1l.3 .1l.3 1.4l.3 1.6l.3 .1l.3-.8l.3 .1l.3 .6l.3-1.9l.3-1.5l.3 2.0l.3-1.5l.3 .4l.3 3.7l.3 1.1l.3 1.3l.3-.9l.3 1.3l.3-2.0l.3-1.1l.3 .4l.3-.4l.3 2.7l.3-.1l.3-1.6l.3 2.2l.3 1.3l.3 1.6l.3-2.2l.3-.9l.3-2.5l.3 2.4l.3 1.0l.3 .0l.3 3.0l.3-1.0l.3-.2l.3-.5l.3-.3l.3 1.3l.3 .7l.3 .3l.3-.7l.3-.7l.3 .8l.3 1.4l.3 .0l.3 .7l.3 .7l.3-.2l.3-.7l.3 1.6l.3 3.6l.3 .9l.3-.1l.3-.6l.3-.1l.3 2.5l.3-1.1l.3 3.5l.3 .2l.3 .6l.3-.3l.3-10.2l.3-10.7l.3-13.6l.3-4.7l.3-1.2l.3-4.1l.3 .8l.3 .1l.3 .2l.3 1.3l.3 1.3l.3-3.3l.3-.5l.3-.1l.3 .2l.3-3.2l.3 1.7l.3 .6l.3 3.7l.3-2.6l.3-.9l.3 1.1l.3-.2l.3 1.3l.3 1.6l.3-2.9l.3 .0l.3 .9l.3-1.2l.3 4.8l.3-.2l.3 .0l.3-2.9l.3-.1l.3-2.1l.3 3.5l.3 .0l.3 1.6l.3 1.8l.3 1.2l.3-.1l.3 2.1l.3-1.4l.3-2.1l.3-.3l.3 3.7l.3 3.7l.3-.9l.3 .0l.3 1.7l.3-1.6l.3-.3l.3-2.2l.3 .8l.3-4.8l.3-.9l.3-1.2l.3 1.8l.3 1.8l.3 .0l.3 3.5l.3-1.6l.3-2.8l.3-1.2l.3 .8l.3 .0l.3 2.7l.3-1.8l.3-3.5l.3-2.8l.3 1.4l.3-5.8l.3 1.8l.3 1.7l.3 .3l.3 2.0l.3 3.6l.3 3.0l.3 2.1l.3 1.2l.3-.7l.3-1.9l.3-2.4l.3 5.4l.3 2.7l.3-1.7l.3 3.3l.3-.1l.3 .3l.3-.5l.3 5.3l.3-3.2l.3-1.9l.3 1.5l.3 1.2l.3 .1l.3-2.7l.3-.5l.3-1.6l.3-.6l.3 3.3l.3-.6l.3 .2l.3-2.6l.3-1.4l.3 .5l.3 1.5l.3-1.4l.3 1.8l.3 2.5l.3-5.8l.3-.8l.3 .5l.3-1.3l.3 2.2l.3-1.4l.3-.7l.3-3.9l.3 1.8l.3-1.3l.3 .3l.3-1.1l.3-1.7l.3-.4l.3-2.3" stroke="#a52e25"/>
</g>
<g stroke-width="3">
<line x1="379" y1="486.2" x2="405" y2="486.2" stroke="#755856"/>
<line x1="448" y1="486.2" x2="475" y2="486.2" stroke="#dba64f"/>
<line x1="517" y1="486.2" x2="543" y2="486.2" stroke="#a55d2e"/>
<line x1="581" y1="486.2" x2="607" y2="486.2" stroke="#a52e25"/>
</g>
</svg>
<div class="xl" style="left:44.6px;top:440px">2005/1</div>
<div class="xl" style="left:92.1px;top:440px">2006/1</div>
<div class="xl" style="left:139.6px;top:440px">2007/1</div>
<div class="xl" style="left:187.2px;top:440px">2008/1</div>
<div class="xl" style="left:234.7px;top:440px">2009/1</div>
<div class="xl" style="left:282.2px;top:440px">2010/1</div>
<div class="xl" style="left:329.7px;top:440px">2011/1</div>
<div class="xl" style="left:377.2px;top:440px">2012/1</div>
<div class="xl" style="left:424.8px;top:440px">2013/1</div>
<div class="xl" style="left:472.3px;top:440px">2014/1</div>
<div class="xl" style="left:519.8px;top:440px">2015/1</div>
<div class="xl" style="left:567.3px;top:440px">2016/1</div>
<div class="xl" style="left:614.8px;top:440px">2017/1</div>
<div class="xl" style="left:662.4px;top:440px">2018/1</div>
<div class="xl" style="left:709.9px;top:440px">2019/1</div>
<div class="xl" style="left:757.4px;top:440px">2020/1</div>
<div class="xl" style="left:804.9px;top:440px">2021/1</div>
<div class="xl" style="left:852.4px;top:440px">2022/1</div>
<div class="xl" style="left:900.0px;top:440px">2023/1</div>
<div class="xl" style="left:947.5px;top:440px">2024/1</div>
<div class="xl" style="left:995.0px;top:440px">2025/1</div>
<div class="leg" style="left:408px"><i class="cj">沪</i><i class="cj">深</i>300</div>
<div class="leg" style="left:478px"><i class="cj">中</i><i class="cj">证</i>500</div>
<div class="leg" style="left:547px"><i class="cj">上</i><i class="cj">证</i>50</div>
<div class="leg" style="left:611px"><i class="cj">中</i><i class="cj">证</i><i class="cj">全</i><i class="cj">指</i></div>

<div class="c h" style="left:71px;top:60px;width:102px;height:40px;line-height:40px;background:#f2f2f2;font-weight:bold;"><i class="cj">指</i><i class="cj">数</i></div>
<div class="c h" style="left:175px;top:60px;width:326px;height:19px;line-height:19px;background:#d9d9d9;line-height:19px;">2005<i class="cj">年</i><i class="cj">初</i><i class="cj">以</i><i class="cj">来</i></div>
<div class="c h" style="left:175px;top:81px;width:107px;height:19px;line-height:19px;background:#f2f2f2;font-weight:bold;"><i class="cj">区</i><i class="cj">间</i><i class="cj">表</i><i class="cj">现</i></div>
<div class="c h" style="left:284px;top:81px;width:107px;height:19px;line-height:19px;background:#f2f2f2;font-weight:bold;"><i class="cj">年</i><i class="cj">化</i><i class="cj">收</i><i class="cj">益</i><i class="cj">率</i></div>
<div class="c h" style="left:393px;top:81px;width:108px;height:19px;line-height:19px;background:#f2f2f2;font-weight:bold;"><i class="cj">年</i><i class="cj">化</i><i class="cj">波</i><i class="cj">动</i><i class="cj">率</i></div>
<div class="c" style="left:71px;top:102px;width:102px;height:37px;line-height:37px;background:#f2d3d3;"><i class="cj">中</i><i class="cj">证</i>500</div>
<div class="c" style="left:175px;top:102px;width:107px;height:37px;line-height:37px;background:#f2d3d3;">604.39%</div>
<div class="c" style="left:284px;top:102px;width:107px;height:37px;line-height:37px;background:#f2d3d3;">10.21%</div>
<div class="c" style="left:393px;top:102px;width:108px;height:37px;line-height:37px;background:#f2d3d3;">28.85%</div>
<div class="c" style="left:71px;top:141px;width:102px;height:37px;line-height:37px;background:transparent;"><i class="cj">上</i><i class="cj">证</i>50</div>
<div class="c" style="left:175px;top:141px;width:107px;height:37px;line-height:37px;background:transparent;">253.20%</div>
<div class="c" style="left:284px;top:141px;width:107px;height:37px;line-height:37px;background:transparent;">6.49%</div>
<div class="c" style="left:393px;top:141px;width:108px;height:37px;line-height:37px;background:transparent;">25.29%</div>
<div class="c" style="left:71px;top:180px;width:102px;height:37px;line-height:37px;background:transparent;"><i class="cj">沪</i><i class="cj">深</i>300</div>
<div class="c" style="left:175px;top:180px;width:107px;height:37px;line-height:37px;background:transparent;">349.68%</div>
<div class="c" style="left:284px;top:180px;width:107px;height:37px;line-height:37px;background:transparent;">7.78%</div>
<div class="c" style="left:393px;top:180px;width:108px;height:37px;line-height:37px;background:transparent;">25.24%</div>
<div class="c" style="left:71px;top:219px;width:102px;height:37px;line-height:37px;background:transparent;"><i class="cj">中</i><i class="cj">证</i><i class="cj">全</i><i class="cj">指</i></div>
<div class="c" style="left:175px;top:219px;width:107px;height:37px;line-height:37px;background:transparent;">472.40%</div>
<div class="c" style="left:284px;top:219px;width:107px;height:37px;line-height:37px;background:transparent;">9.08%</div>
<div class="c" style="left:393px;top:219px;width:108px;height:37px;line-height:37px;background:transparent;">25.99%</div>
</body></html>
